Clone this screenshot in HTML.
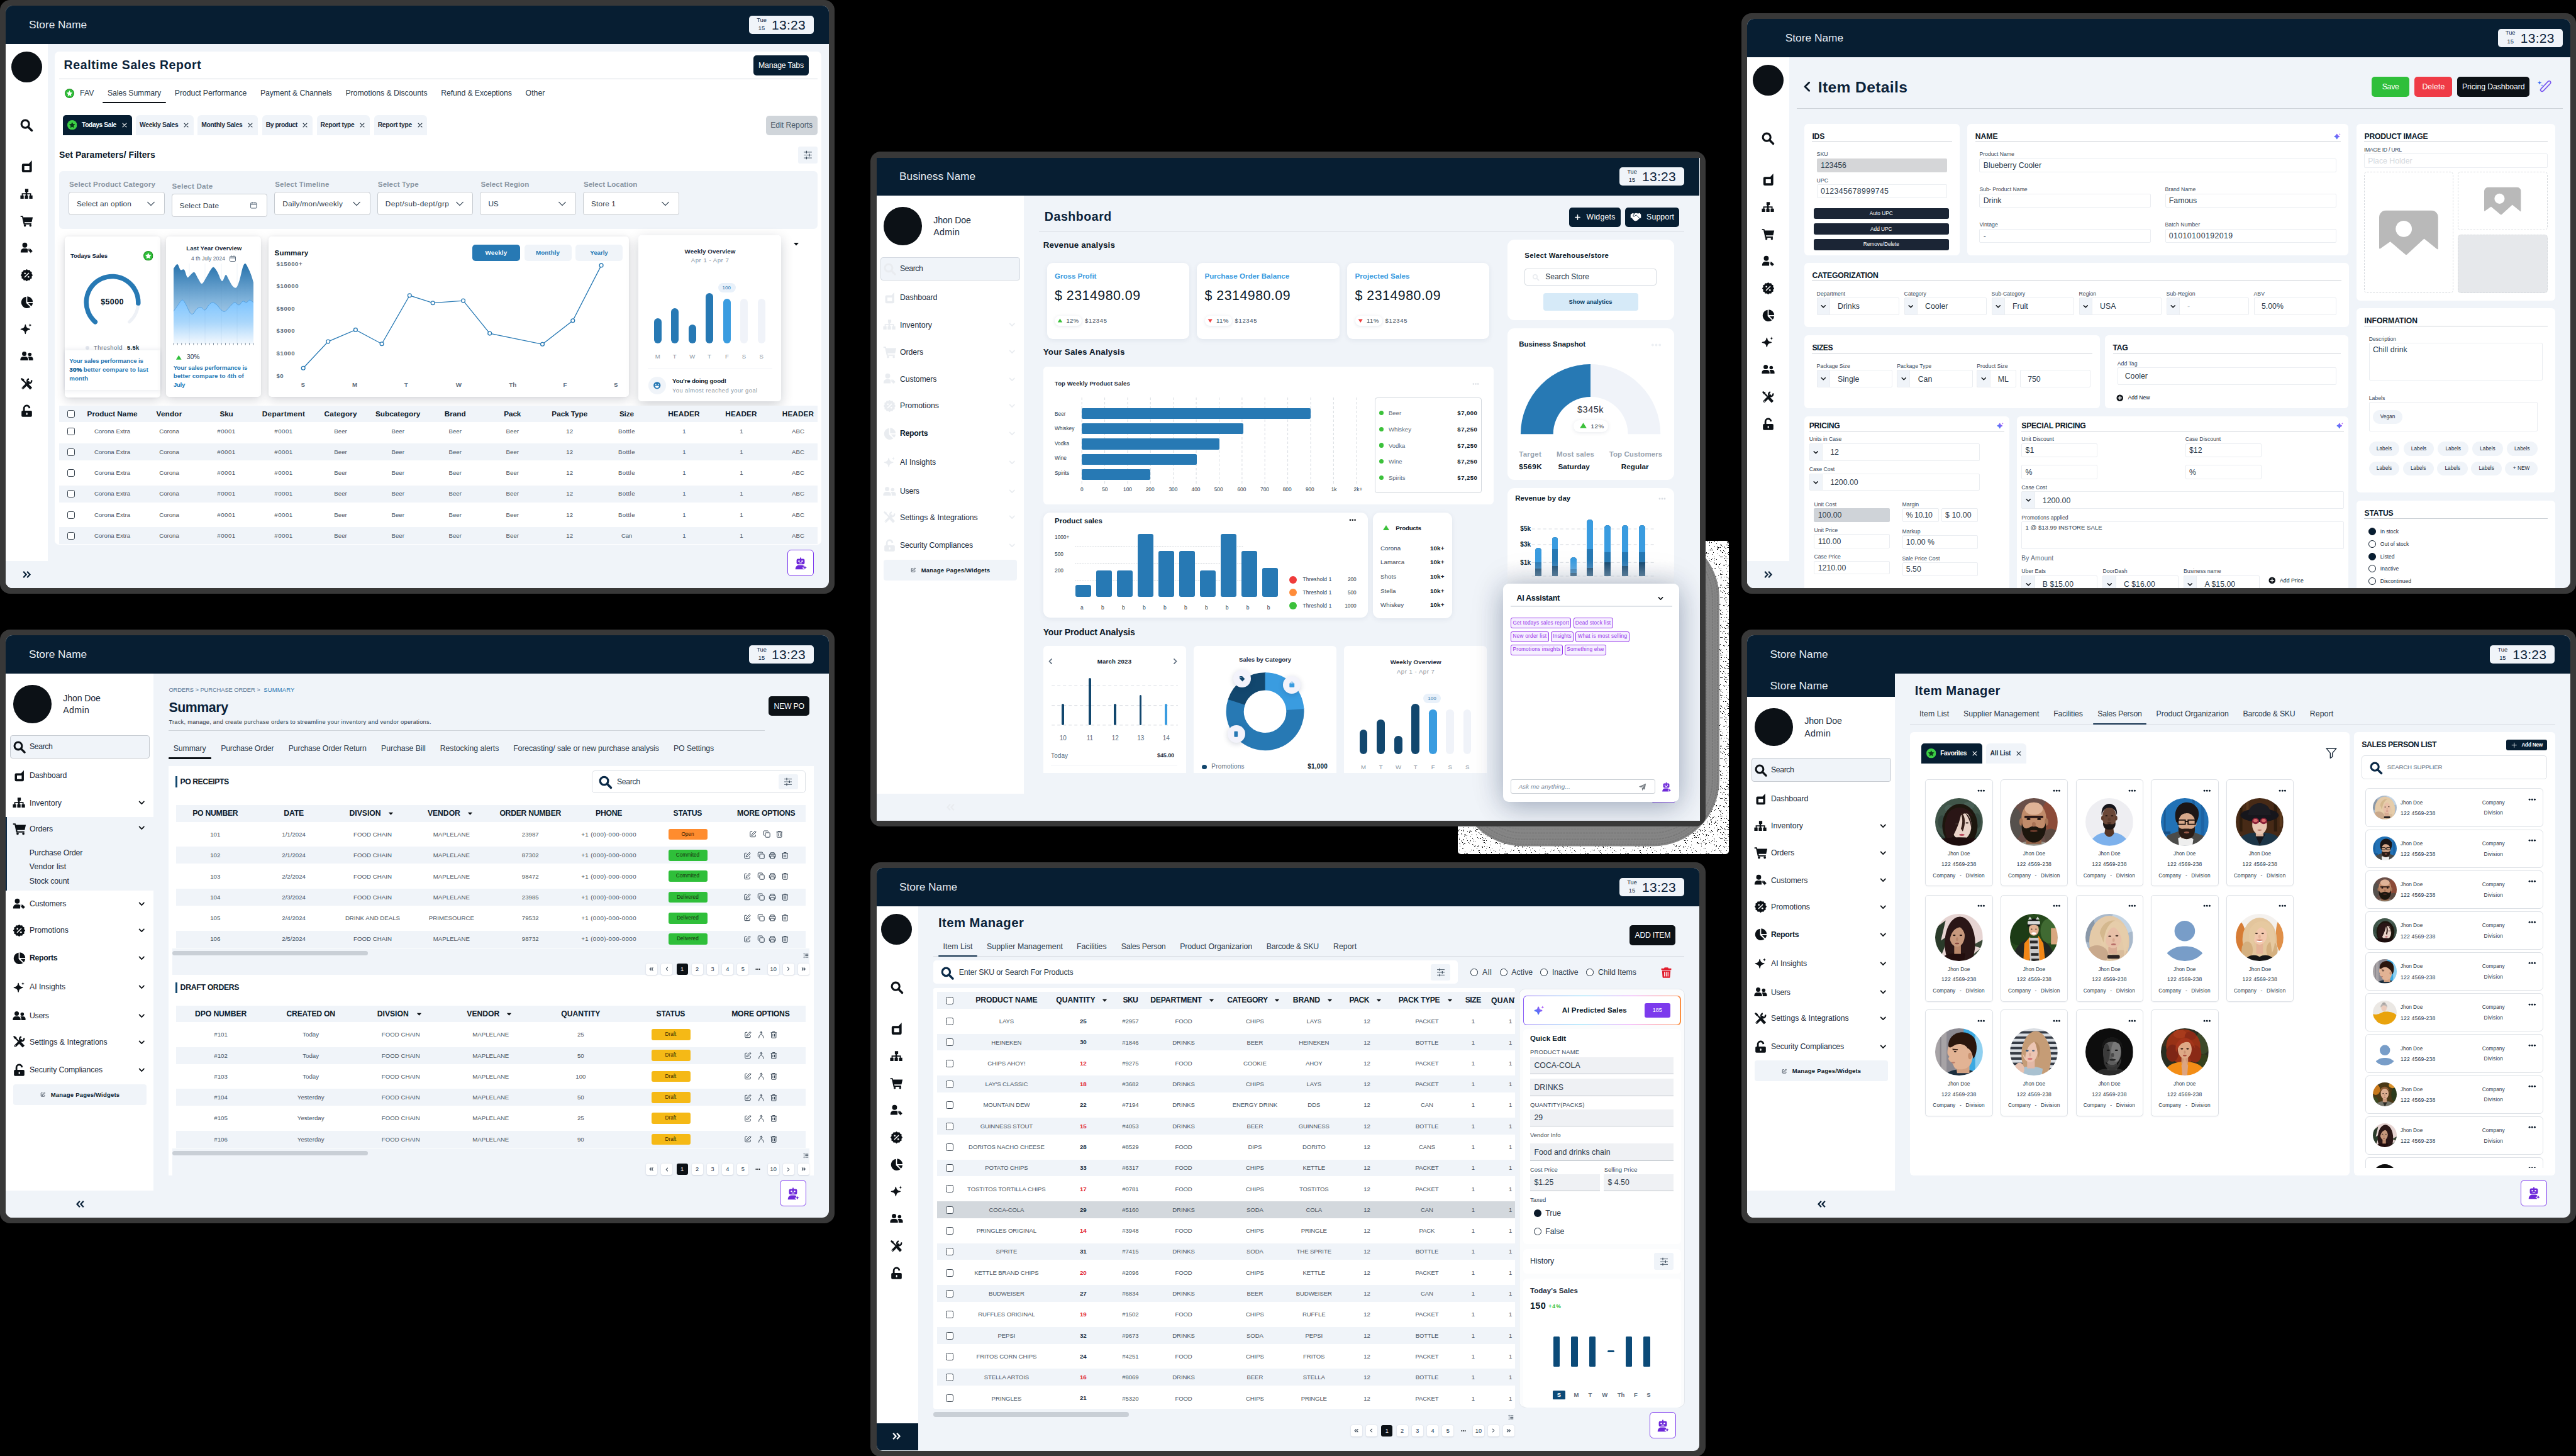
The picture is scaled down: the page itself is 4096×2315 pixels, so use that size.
<!DOCTYPE html>
<html><head><meta charset="utf-8"><title>Screens</title>
<style>
html,body{margin:0;padding:0;background:#000;}
body{width:4096px;height:2315px;position:relative;overflow:hidden;font-family:"Liberation Sans",sans-serif;}
.b{position:absolute;box-sizing:border-box;display:block;}
.t{position:absolute;white-space:nowrap;}
.fr{position:absolute;box-sizing:border-box;background:#383838;border-radius:16px;overflow:hidden;}
.sc{position:absolute;left:9.5px;top:9.5px;right:9.5px;bottom:9.5px;border-radius:11px;overflow:hidden;background:#f0f4f9;}
svg{overflow:visible}
</style></head><body>
<svg width="0" height="0" style="position:absolute">
<symbol id="i-search" viewBox="0 0 24 24"><circle cx="10" cy="10" r="6.6" fill="none" stroke="currentColor" stroke-width="3.4"/><path d="M15.2 15.2L21.3 21.3" stroke="currentColor" stroke-width="3.8" stroke-linecap="round"/></symbol>
<symbol id="i-dash" viewBox="0 0 24 24"><path fill="currentColor" fill-rule="evenodd" d="M6.500 7.500h9L20.500 2V19.500a2.500 2.500 0 0 1-2.500 2.500H6.500A2.500 2.500 0 0 1 4 19.500V10A2.500 2.500 0 0 1 6.500 7.500zM8 11.500v6.500h8.500V11.500z"/></symbol>
<symbol id="i-sitemap" viewBox="0 0 24 24"><path fill="currentColor" d="M9 2.500h6v5.500h-2v2.500h7v4h2.500v6h-6v-6h1.500v-2h-5v2h1.500v6h-6v-6h1.500v-2h-5v2h1.500v6h-6v-6h2.500v-4h7V8H9z"/></symbol>
<symbol id="i-cart" viewBox="0 0 24 24"><path fill="currentColor" d="M0.800 2.500h4.300l0.600 2.500H23l-2 9H8l0.400 2H20.500v2.200H6.500L3.500 4.700H0.800z"/><circle cx="8.700" cy="20.300" r="2" fill="currentColor"/><circle cx="18.700" cy="20.300" r="2" fill="currentColor"/></symbol>
<symbol id="i-usertag" viewBox="0 0 24 24"><circle cx="8.500" cy="6.500" r="4.500" fill="currentColor"/><path fill="currentColor" d="M1 20v-1.500C1 15 3.500 12.500 7 12.500h3c1.500 0 2.800 0.400 3.800 1.200V20z"/><path fill="currentColor" stroke="#fff" stroke-width="0.800" d="M14.200 12.800h4.200l4.600 4.600-3.700 3.700-5.100-5.100z"/><circle cx="16.200" cy="14.800" r="0.900" fill="#fff"/></symbol>
<symbol id="i-pct" viewBox="0 0 24 24"><path fill="currentColor" d="M12 1l2.400 1.800 3-.3 1.200 2.700 2.700 1.200-.3 3L23 12l-2 2.600.3 3-2.700 1.200-1.200 2.700-3-.3L12 23l-2.400-1.800-3 .3-1.200-2.700-2.700-1.200.3-3L1 12l2-2.600-.3-3 2.700-1.200 1.200-2.700 3 .3z"/><path stroke="#fff" stroke-width="1.800" stroke-linecap="round" d="M15.500 8.500l-7 7"/><circle cx="8.800" cy="8.800" r="1.500" fill="#fff"/><circle cx="15.200" cy="15.200" r="1.500" fill="#fff"/></symbol>
<symbol id="i-pie" viewBox="0 0 24 24"><path fill="currentColor" d="M11 2v11.500l7.800 7.300A10.500 10.500 0 1 1 11 2z"/><path fill="currentColor" d="M13 1.500A10 10 0 0 1 23 11.500H13z"/><path fill="currentColor" d="M14.500 13.500H23a10 10 0 0 1-2.800 6z"/></symbol>
<symbol id="i-spark" viewBox="0 0 24 24"><path fill="currentColor" d="M10 4c.8 5.500 2.500 7.200 8.500 8.500-6 1.300-7.700 3-8.500 8.500-.8-5.500-2.500-7.200-8.500-8.500C7.500 11.200 9.200 9.500 10 4z" stroke="currentColor" stroke-width="1.500" stroke-linejoin="round"/><path fill="currentColor" d="M19 1.500c.4 2.300 1 2.900 3.300 3.300-2.300.4-2.900 1-3.300 3.300-.4-2.300-1-2.900-3.300-3.300 2.300-.4 2.900-1 3.300-3.300z"/></symbol>
<symbol id="i-sparkf" viewBox="0 0 24 24"><defs><linearGradient id="spg" x1="0" y1="1" x2="1" y2="0"><stop offset="0" stop-color="#2f7df6"/><stop offset="1" stop-color="#a855f7"/></linearGradient></defs><path fill="url(#spg)" stroke="url(#spg)" stroke-width="3" stroke-linejoin="round" d="M10 5c.9 5 2.400 6.500 7.500 7.500-5.100 1-6.600 2.500-7.500 7.500-.9-5-2.400-6.500-7.500-7.500C7.600 11.500 9.100 10 10 5z"/><path fill="#a855f7" d="M19.500 1.500c.4 2.300 1 2.900 3.300 3.300-2.300.4-2.900 1-3.300 3.300-.4-2.300-1-2.900-3.300-3.300 2.300-.4 2.900-1 3.300-3.300z"/></symbol>
<symbol id="i-users" viewBox="0 0 24 24"><circle cx="7.500" cy="7.500" r="4" fill="currentColor"/><path fill="currentColor" d="M0.500 19.500v-2c0-3 2.300-5 5-5h4c2.700 0 5 2 5 5v2z"/><circle cx="17.500" cy="8.500" r="3.200" fill="currentColor"/><path fill="currentColor" d="M15.800 19.500v-2.300c0-1.700-.6-3.200-1.600-4.300.5-.2 1-.4 1.600-.4h3.200c2.500 0 4.500 1.800 4.500 4.200v2.800z"/></symbol>
<symbol id="i-tools" viewBox="0 0 24 24"><path stroke="currentColor" stroke-width="4.200" stroke-linecap="round" d="M5 19.500L15.500 9"/><path fill="none" stroke="currentColor" stroke-width="2.800" d="M20.500 5.200a4 4 0 1 1-4.600-2.400"/><path stroke="currentColor" stroke-width="5" stroke-linecap="butt" d="M12 12l8 8.500"/><path stroke="currentColor" stroke-width="2.600" d="M3.500 3.500L11 11"/><path fill="currentColor" d="M1 2.500L3 1l4.500 3-3 3z"/><circle cx="5" cy="19.500" r="0.900" fill="#fff"/></symbol>
<symbol id="i-unlock" viewBox="0 0 24 24"><rect x="2.500" y="11.500" width="19" height="11" rx="2" fill="currentColor"/><path fill="none" stroke="currentColor" stroke-width="3.200" d="M7 12V7.500a5 5 0 0 1 10-.5"/><rect x="11" y="15" width="2.400" height="4" rx="1" fill="#fff"/></symbol>
<symbol id="i-chev" viewBox="0 0 24 24"><path fill="none" stroke="currentColor" stroke-width="3.400" stroke-linecap="round" stroke-linejoin="round" d="M5 8.500l7 7 7-7"/></symbol>
<symbol id="i-chevthin" viewBox="0 0 24 24"><path fill="none" stroke="currentColor" stroke-width="2.200" stroke-linecap="round" stroke-linejoin="round" d="M3 7.500l9 9 9-9"/></symbol>
<symbol id="i-rr" viewBox="0 0 24 24"><path fill="none" stroke="currentColor" stroke-width="3.600" stroke-linejoin="miter" d="M3.500 4.500l7 7.500-7 7.500M13 4.500l7 7.500-7 7.500"/></symbol>
<symbol id="i-ll" viewBox="0 0 24 24"><path fill="none" stroke="currentColor" stroke-width="3.600" stroke-linejoin="miter" d="M20.500 4.500l-7 7.500 7 7.500M11 4.500l-7 7.500 7 7.500"/></symbol>
<symbol id="i-x" viewBox="0 0 24 24"><path stroke="currentColor" stroke-width="2.800" stroke-linecap="round" d="M5 5l14 14M19 5L5 19"/></symbol>
<symbol id="i-star" viewBox="0 0 24 24"><circle cx="12" cy="12" r="12" fill="#1f8a1f"/><circle cx="12" cy="12" r="10.500" fill="#2fbf3a"/><path fill="#fff" d="M12 4.500l2.300 4.900 5.200.7-3.800 3.700.9 5.300L12 16.500l-4.600 2.600.9-5.300L4.500 10.100l5.200-.7z"/></symbol>
<symbol id="i-stard" viewBox="0 0 24 24"><circle cx="12" cy="12" r="12" fill="#3ccf45"/><path fill="#0b3a1a" d="M12 4.500l2.300 4.900 5.200.7-3.800 3.700.9 5.300L12 16.500l-4.600 2.600.9-5.300L4.500 10.100l5.200-.7z"/></symbol>
<symbol id="i-sliders" viewBox="0 0 24 24"><path stroke="currentColor" stroke-width="1.300" fill="none" d="M3 5.500h18M3 12h18M3 18.500h18"/><path stroke="currentColor" stroke-width="1.800" d="M9 2.500v6M15.500 9v6M9 15.500v6"/></symbol>
<symbol id="i-cal" viewBox="0 0 24 24"><rect x="3" y="5" width="18" height="16" rx="2.500" fill="none" stroke="currentColor" stroke-width="2"/><path stroke="currentColor" stroke-width="2" d="M3 10h18M8 2.500v4M16 2.500v4"/></symbol>
<symbol id="i-robot" viewBox="0 0 24 24"><path fill="currentColor" d="M11 1.500h2v2.200h3.500A2.500 2.500 0 0 1 19 6.200v4.600a2.500 2.500 0 0 1-2.500 2.500h-9A2.500 2.500 0 0 1 5 10.800V6.200a2.500 2.500 0 0 1 2.500-2.500H11z"/><circle cx="9.300" cy="7.800" r="1.300" fill="#fff"/><circle cx="14.700" cy="7.800" r="1.300" fill="#fff"/><rect x="9.500" y="10.300" width="5" height="1.200" rx=".6" fill="#fff"/><path fill="currentColor" d="M3 22c0-4.500 3-7.200 6-7.200h5c1.500 0 2.800.5 3.900 1.400-.6 2-.9 2.400-3.400 3.300 1.800.6 2.600 1.300 3.100 2.500z"/><path fill="currentColor" d="M19.500 15.500c.4 2.300 1.200 3.100 3.500 3.500-2.300.4-3.100 1.200-3.500 3.500-.4-2.300-1.200-3.100-3.500-3.500 2.300-.4 3.100-1.200 3.500-3.500z"/></symbol>
<symbol id="i-smile" viewBox="0 0 24 24"><circle cx="12" cy="12" r="10" fill="currentColor"/><circle cx="8.500" cy="9.500" r="1.500" fill="#fff"/><circle cx="15.500" cy="9.500" r="1.500" fill="#fff"/><path fill="#fff" d="M6.500 13.500h11a5.500 5.500 0 0 1-11 0z"/></symbol>
<symbol id="i-edit" viewBox="0 0 24 24"><path fill="none" stroke="currentColor" stroke-width="1.900" stroke-linejoin="round" d="M10 4.500H5.500A2 2 0 0 0 3.500 6.500v12a2 2 0 0 0 2 2h12a2 2 0 0 0 2-2V14"/><path fill="none" stroke="currentColor" stroke-width="1.900" stroke-linejoin="round" d="M18.500 2.500l3 3L12 15l-4 1 1-4z"/></symbol>
<symbol id="i-copy" viewBox="0 0 24 24"><rect x="7.500" y="7.500" width="14" height="14" rx="2.500" fill="none" stroke="currentColor" stroke-width="1.900"/><path fill="none" stroke="currentColor" stroke-width="1.900" d="M16.500 4.500v-.5a2 2 0 0 0-2-2h-10a2 2 0 0 0-2 2v10a2 2 0 0 0 2 2h.5"/></symbol>
<symbol id="i-print" viewBox="0 0 24 24"><path fill="none" stroke="currentColor" stroke-width="1.900" d="M6.500 8V3.500h11V8M6.500 17.500H4.500a2 2 0 0 1-2-2V10a2 2 0 0 1 2-2h15a2 2 0 0 1 2 2v5.500a2 2 0 0 1-2 2h-2"/><rect x="6.500" y="13.500" width="11" height="7.500" fill="none" stroke="currentColor" stroke-width="1.900"/></symbol>
<symbol id="i-trash" viewBox="0 0 24 24"><path fill="none" stroke="currentColor" stroke-width="1.900" d="M3 5.500h18M8.500 5V3h7v2M5 5.500V20a1.500 1.500 0 0 0 1.500 1.500h11A1.500 1.500 0 0 0 19 20V5.500M9.500 9.500v8M14.500 9.500v8"/></symbol>
<symbol id="i-trashf" viewBox="0 0 24 24"><path fill="currentColor" d="M8.500 1.500h7l1 2H22v3H2v-3h5.500zM3.500 8h17l-1 13a2 2 0 0 1-2 1.500h-11a2 2 0 0 1-2-1.500z"/><path stroke="#fff" stroke-width="1.600" d="M8.500 10.500v9M12 10.500v9M15.500 10.500v9"/></symbol>
<symbol id="i-merge" viewBox="0 0 24 24"><path fill="none" stroke="currentColor" stroke-width="1.900" stroke-linecap="round" stroke-linejoin="round" d="M12 2.500v8M8.500 6L12 2.500 15.500 6M5 21.500c0-6 3-9 7-11 4 2 7 5 7 11"/></symbol>
<symbol id="i-funnel" viewBox="0 0 24 24"><path fill="none" stroke="currentColor" stroke-width="1.700" stroke-linejoin="round" d="M2.500 3.500h19l-7.500 9v7l-4 2.500v-9.500z"/></symbol>
<symbol id="i-plus" viewBox="0 0 24 24"><path stroke="currentColor" stroke-width="3.200" stroke-linecap="round" d="M12 4v16M4 12h16"/></symbol>
<symbol id="i-plusthin" viewBox="0 0 24 24"><path stroke="currentColor" stroke-width="2" stroke-linecap="round" d="M12 3v18M3 12h18"/></symbol>
<symbol id="i-pluscirc" viewBox="0 0 24 24"><circle cx="12" cy="12" r="11" fill="currentColor"/><path stroke="#fff" stroke-width="2.800" stroke-linecap="round" d="M12 6.500v11M6.500 12h11"/></symbol>
<symbol id="i-img" viewBox="0 0 24 18"><path fill="currentColor" stroke="currentColor" stroke-width="0.6" stroke-linejoin="round" d="M2.800 0.300h18.400A2.500 2.500 0 0 1 23.700 2.800V15.500l-5.400-4.400-7.300 6.700-6.500-5.500L0.300 15.300V2.800A2.500 2.500 0 0 1 2.800 0.300z"/><circle cx="10" cy="7.500" r="3.300" fill="#fff"/></symbol>
<symbol id="i-plane" viewBox="0 0 24 24"><path fill="currentColor" d="M22.500 1.500L1.500 10.500l7 3 10-8-8 10 1 7 3.500-5 4 2z"/></symbol>
<symbol id="i-hands" viewBox="0 0 24 24"><path fill="currentColor" d="M1 6.500l4-2.500 4 1 3-1.500 5 1 3.500-1L23 7v7l-3 .5-5.500 5.500-2-.5-1 1-2-1-1 .5L3.500 14 1 13.500z"/><path fill="none" stroke="#071e32" stroke-width="1.200" d="M9 5l-3 5c1.500 1.500 3.500 1 4.500-.5l2-2 7 6.500"/></symbol>
<symbol id="i-dots" viewBox="0 0 24 8"><circle cx="4" cy="4" r="2.800" fill="currentColor"/><circle cx="12" cy="4" r="2.800" fill="currentColor"/><circle cx="20" cy="4" r="2.800" fill="currentColor"/></symbol>
<symbol id="i-caret" viewBox="0 0 24 24"><path fill="currentColor" d="M4 8h16l-8 9z"/></symbol>
<symbol id="i-tri" viewBox="0 0 24 24"><path fill="currentColor" d="M12 4l10 16H2z"/></symbol>
<symbol id="i-lt" viewBox="0 0 24 24"><path fill="none" stroke="currentColor" stroke-width="3.600" stroke-linecap="round" stroke-linejoin="round" d="M15.500 4l-8 8 8 8"/></symbol>
<symbol id="i-gt" viewBox="0 0 24 24"><path fill="none" stroke="currentColor" stroke-width="3.600" stroke-linecap="round" stroke-linejoin="round" d="M8.500 4l8 8-8 8"/></symbol>
<symbol id="i-list" viewBox="0 0 24 24"><path stroke="currentColor" stroke-width="2.600" d="M9 5.500h13M9 12h13M9 18.500h13"/><path fill="currentColor" d="M4 1.500l2.800 3.500H1.200zM4 22.500l2.800-3.500H1.200z"/><path stroke="currentColor" stroke-width="1.600" d="M4 4v16"/></symbol>
<symbol id="i-person" viewBox="0 0 24 24"><circle cx="12" cy="7.500" r="5.800" fill="#7d9fc6"/><path fill="#7d9fc6" d="M1.500 19.500C4 17 8 16 12 16s8 1 10.500 3.500C20 22.500 16 24 12 24S4 22.500 1.500 19.500z"/></symbol>
<symbol id="i-tag" viewBox="0 0 24 24"><path fill="currentColor" d="M2.500 2.500h9l10 10-9 9-10-10z"/><circle cx="7" cy="7" r="1.800" fill="#fff"/></symbol>
<symbol id="i-bag" viewBox="0 0 24 24"><path fill="currentColor" d="M3 8h18v12a2 2 0 0 1-2 2H5a2 2 0 0 1-2-2z"/><path fill="none" stroke="currentColor" stroke-width="2.200" d="M8 10V6.500a4 4 0 0 1 8 0V10"/></symbol>
<symbol id="i-phone" viewBox="0 0 24 24"><rect x="5.500" y="1.500" width="13" height="21" rx="2.500" fill="currentColor"/></symbol>
<symbol id="i-wand" viewBox="0 0 28 24"><path fill="none" stroke="currentColor" stroke-width="2" stroke-linejoin="round" d="M21.500 3.500c1.500-1.500 3.500-1.500 4.500 0s.5 3-.5 4L13 20.500c-1.500 1.500-3.500 1.500-4.500.5s-1-3 .5-4.500z"/><path fill="#3b6cf5" d="M6 1.500c.5 2.800 1.200 3.500 4 4-2.800.5-3.500 1.200-4 4-.5-2.800-1.200-3.500-4-4 2.800-.5 3.500-1.200 4-4z"/><path fill="#3b6cf5" d="M10.500 8.500c.2 1.300.6 1.700 1.900 1.900-1.300.2-1.700.6-1.900 1.900-.2-1.300-.6-1.700-1.900-1.900 1.300-.2 1.700-.6 1.900-1.900z"/></symbol>
<filter id="avb" x="-5%" y="-5%" width="110%" height="110%"><feGaussianBlur stdDeviation="0.9"/></filter><symbol id="a1" viewBox="0 0 100 100"><g filter="url(#avb)"><rect x="0" y="0" width="100" height="100" fill="#2c3c35" /><ellipse cx="50" cy="44" rx="52" ry="48" fill="#3f544a" /><ellipse cx="30" cy="22" rx="10" ry="8" fill="#4a6156" /><ellipse cx="70" cy="16" rx="12" ry="8" fill="#4a6156" /><ellipse cx="14" cy="50" rx="8" ry="14" fill="#35483f" /><ellipse cx="88" cy="48" rx="8" ry="16" fill="#35483f" /><ellipse cx="52" cy="58" rx="37" ry="46" fill="#1f1310" /><ellipse cx="55" cy="57" rx="21" ry="31" fill="#e9d3c8" /><path d="M24 40C30 14 70 12 80 40C70 30 60 30 54 36C50 54 44 70 30 92C20 80 18 56 24 40Z" fill="#2a1714" /><path d="M56 30C64 40 64 54 58 70L54 64C58 54 58 42 54 32Z" fill="#38201b" /><path d="M62 30C72 36 78 50 76 64C74 50 70 40 62 30Z" fill="#2a1714" /><ellipse cx="45" cy="54" rx="3.2" ry="1.5" fill="#3a2a26" /><ellipse cx="67" cy="52" rx="3.2" ry="1.5" fill="#3a2a26" /><ellipse cx="56" cy="77" rx="5.5" ry="2.2" fill="#b94a5c" /><path d="M0 88C30 80 70 80 100 88V100H0Z" fill="#1c100d" /></g></symbol><symbol id="a2" viewBox="0 0 100 100"><g filter="url(#avb)"><rect x="0" y="0" width="100" height="100" fill="#6a5049" /><ellipse cx="88" cy="36" rx="22" ry="34" fill="#8c4c39" /><ellipse cx="8" cy="54" rx="18" ry="34" fill="#57514d" /><ellipse cx="86" cy="80" rx="14" ry="16" fill="#5a4a40" /><ellipse cx="50" cy="112" rx="50" ry="22" fill="#97948a" /><rect x="34" y="74" width="32" height="22" fill="#8f6044" /><ellipse cx="50" cy="42" rx="26" ry="33" fill="#c08b6b" /><ellipse cx="50" cy="22" rx="19" ry="13" fill="#dfb397" /><ellipse cx="23.5" cy="50" rx="4" ry="8" fill="#a87456" /><ellipse cx="76.5" cy="50" rx="4" ry="8" fill="#a87456" /><path d="M25 52C27 62 32 66 40 62C46 58 54 58 60 62C68 66 73 62 75 52C78 76 66 93 50 93C34 93 22 76 25 52Z" fill="#1b120f" /><rect x="30" y="37" width="40" height="5" fill="#2a1812" rx="2.500"/><ellipse cx="39" cy="44" rx="4" ry="2" fill="#160c0a" /><ellipse cx="61" cy="44" rx="4" ry="2" fill="#160c0a" /><ellipse cx="50" cy="55" rx="4" ry="5" fill="#a87254" /><ellipse cx="50" cy="69" rx="8" ry="2.2" fill="#6a3a2c" /></g></symbol><symbol id="a3" viewBox="0 0 100 100"><g filter="url(#avb)"><rect x="0" y="0" width="100" height="100" fill="#eeeef2" /><ellipse cx="50" cy="102" rx="42" ry="31" fill="#7db1ec" /><path d="M40 74C46 84 54 84 60 74L58 60H42Z" fill="#553628" /><ellipse cx="50" cy="40" rx="14.5" ry="22" fill="#6b4737" /><ellipse cx="35.5" cy="42" rx="2.5" ry="5" fill="#5e3d2f" /><ellipse cx="64.5" cy="42" rx="2.5" ry="5" fill="#5e3d2f" /><path d="M34 36C30 4 70 4 66 36C63 24 58 20 50 20C42 20 37 24 34 36Z" fill="#15121a" /><path d="M37 50C40 56 44 55 50 54C56 55 60 56 63 50C64 62 58 66 50 66C42 66 36 62 37 50Z" fill="#1c1412" /><ellipse cx="44" cy="37" rx="2.6" ry="1.2" fill="#1a100c" /><ellipse cx="56" cy="37" rx="2.6" ry="1.2" fill="#1a100c" /><ellipse cx="50" cy="45" rx="3" ry="3.5" fill="#5e3d2f" /><ellipse cx="50" cy="52" rx="4.5" ry="1.3" fill="#3a2018" /></g></symbol><symbol id="a4" viewBox="0 0 100 100"><g filter="url(#avb)"><rect x="0" y="0" width="100" height="100" fill="#2272b6" /><rect x="6" y="0" width="4" height="100" fill="#1a5c98" /><rect x="66" y="0" width="5" height="100" fill="#1b5e9c" /><rect x="84" y="0" width="7" height="100" fill="#1b64a4" /><rect x="0" y="70" width="20" height="6" fill="#174f86" /><path d="M0 100L14 78L36 70L70 72L92 80L100 100Z" fill="#4b4b48" /><path d="M36 84L52 76L68 86L66 100H38Z" fill="#eeeeee" /><rect x="42" y="68" width="20" height="16" fill="#b88a6c" /><ellipse cx="54" cy="50" rx="18" ry="24" fill="#d6a88a" /><ellipse cx="72" cy="54" rx="2.5" ry="5" fill="#c4957a" /><path d="M32 50C20 8 64 -4 78 24C82 38 76 48 73 54C72 40 64 30 52 32C44 32 38 38 36 52Z" fill="#1d1512" /><path d="M37 60C42 66 46 64 54 64C62 64 66 66 71 60C73 76 66 86 54 86C42 86 35 76 37 60Z" fill="#2b1d17" /><path d="M36 46h15v9h-15zM57 46h15v9h-15zM51 49h6" fill="none" stroke="#14100e" stroke-width="2.400"/><ellipse cx="54" cy="72" rx="5.5" ry="2.2" fill="#9a5a4a" /></g></symbol><symbol id="a5" viewBox="0 0 100 100"><g filter="url(#avb)"><rect x="0" y="0" width="100" height="100" fill="#472a18" /><rect x="8" y="0" width="6" height="70" fill="#2e1a0e" /><rect x="22" y="0" width="5" height="40" fill="#5a381f" /><rect x="80" y="0" width="7" height="70" fill="#2e1a0e" /><rect x="92" y="0" width="5" height="60" fill="#5a381f" /><path d="M0 100C4 78 26 72 50 72C74 72 96 78 100 100Z" fill="#1c3547" /><path d="M40 76L50 98L62 76Z" fill="#14161a" /><rect x="42" y="68" width="16" height="12" fill="#d8b29c" /><ellipse cx="50" cy="56" rx="15.5" ry="20" fill="#e8c6b2" /><ellipse cx="50" cy="36" rx="40" ry="14" fill="#15141b" /><path d="M26 36C26 2 74 2 74 36Z" fill="#1b1a22" /><ellipse cx="41.5" cy="48" rx="7.5" ry="6.5" fill="#8a2038" /><ellipse cx="58.5" cy="48" rx="7.5" ry="6.5" fill="#8a2038" /><ellipse cx="41.5" cy="47" rx="4.5" ry="3.5" fill="#d86a6a" /><ellipse cx="58.5" cy="47" rx="4.5" ry="3.5" fill="#d86a6a" /><ellipse cx="50" cy="67" rx="4.5" ry="1.5" fill="#b87a6a" /></g></symbol><symbol id="a6" viewBox="0 0 100 100"><g filter="url(#avb)"><rect x="0" y="0" width="100" height="100" fill="#e6d4d2" /><path d="M0 30L22 14L12 56L30 44L8 100H0Z" fill="#2c3b2c" /><path d="M100 54L78 66L96 72L76 88L100 94Z" fill="#3a4a38" /><ellipse cx="52" cy="62" rx="32" ry="56" fill="#2b1714" /><path d="M10 100C14 86 30 82 50 82C70 82 86 86 90 100Z" fill="#24100f" /><rect x="40" y="62" width="14" height="22" fill="#b8866a" /><ellipse cx="46" cy="46" rx="16" ry="23" fill="#c7987c" /><path d="M26 56C18 8 74 2 80 44C82 64 80 80 74 100H60C70 70 66 36 52 28C40 30 32 40 30 60Z" fill="#2b1714" /><ellipse cx="40" cy="45" rx="3" ry="1.5" fill="#1e100c" /><ellipse cx="54" cy="45" rx="3" ry="1.5" fill="#1e100c" /><ellipse cx="46" cy="53" rx="2.5" ry="4" fill="#b8866a" /><ellipse cx="46" cy="62" rx="4.5" ry="1.8" fill="#8a4a40" /></g></symbol><symbol id="a7" viewBox="0 0 100 100"><g filter="url(#avb)"><rect x="0" y="0" width="100" height="100" fill="#274a1e" /><ellipse cx="18" cy="30" rx="26" ry="36" fill="#1d3a18" /><ellipse cx="82" cy="36" rx="18" ry="26" fill="#3f6a30" /><rect x="86" y="30" width="14" height="34" fill="#d9a880" /><path d="M6 100C8 66 28 52 50 52C72 52 92 66 94 100Z" fill="#232823" /><path d="M30 62L42 48L50 68L40 100H28Z" fill="#f28618" /><path d="M70 62L60 46L52 68L62 100H74Z" fill="#f28618" /><path d="M40 50H60L62 100H42Z" fill="#c9c9c9" /><path d="M42 56h16v6h-16zM43 68h16v6h-16zM44 82h16v6h-16zM45 94h16v6h-16z" fill="#2a2a2a" /><ellipse cx="50" cy="33" rx="10.5" ry="13" fill="#e4b394" /><path d="M37 28C36 4 64 4 63 28C56 22 44 22 37 28Z" fill="#161616" /><rect x="37" y="15" width="26" height="7" fill="#d8d8d8" rx="2"/><path d="M38 12L42 6L46 12ZM54 12L58 6L62 12Z" fill="#d8d8d8" /><ellipse cx="50" cy="41" rx="5" ry="2.4" fill="#fff" /><ellipse cx="45.5" cy="32" rx="1.5" ry="1" fill="#2a1a14" /><ellipse cx="54.5" cy="32" rx="1.5" ry="1" fill="#2a1a14" /></g></symbol><symbol id="a8" viewBox="0 0 100 100"><g filter="url(#avb)"><rect x="0" y="0" width="100" height="100" fill="#a9b9cb" /><ellipse cx="84" cy="14" rx="30" ry="26" fill="#c3d4e4" /><ellipse cx="6" cy="30" rx="14" ry="30" fill="#8a98a8" /><ellipse cx="50" cy="58" rx="42" ry="54" fill="#e4caa8" /><ellipse cx="24" cy="86" rx="24" ry="20" fill="#c9a98c" /><ellipse cx="76" cy="92" rx="22" ry="16" fill="#d8bc9c" /><rect x="48" y="70" width="18" height="14" fill="#d8ac94" /><ellipse cx="58" cy="48" rx="17.5" ry="24" fill="#e8c0a8" /><path d="M34 66C18 16 72 -4 88 38C92 58 86 76 82 90C80 60 74 36 60 28C48 30 42 46 42 70Z" fill="#e6cdaa" /><path d="M30 40C34 20 50 12 62 14C48 20 40 36 38 60Z" fill="#d4b88e" /><rect x="46" y="86" width="26" height="8" fill="#2a2420" rx="3"/><ellipse cx="51" cy="47" rx="3.2" ry="1.6" fill="#4a342a" /><ellipse cx="66" cy="46" rx="3.2" ry="1.6" fill="#4a342a" /><ellipse cx="59" cy="55" rx="2.5" ry="4" fill="#d8a890" /><ellipse cx="59" cy="64" rx="5" ry="2" fill="#b8706a" /></g></symbol><symbol id="a9" viewBox="0 0 100 100"><g><rect width="100" height="100" fill="#fff"/><ellipse cx="50" cy="36" rx="21.5" ry="21.5" fill="#789dc8" /><path d="M11 84C24 70 38 68 50 68C62 68 76 70 89 84C76 98 62 101 50 101C38 101 24 98 11 84Z" fill="#789dc8" /></g></symbol><symbol id="a10" viewBox="0 0 100 100"><g filter="url(#avb)"><rect x="0" y="0" width="100" height="100" fill="#f4f1ee" /><ellipse cx="2" cy="56" rx="20" ry="44" fill="#d67c34" /><ellipse cx="99" cy="44" rx="15" ry="40" fill="#e0904a" /><ellipse cx="50" cy="54" rx="36" ry="46" fill="#e3c59c" /><ellipse cx="24" cy="76" rx="12" ry="18" fill="#d4b080" /><ellipse cx="76" cy="76" rx="12" ry="18" fill="#d4b080" /><path d="M16 100C24 86 40 84 50 90C60 84 76 86 84 100Z" fill="#191919" /><rect x="43" y="62" width="14" height="22" fill="#e4b498" /><ellipse cx="50" cy="43" rx="15.5" ry="21.5" fill="#f2c8ae" /><path d="M30 60C16 14 70 0 80 36C84 54 82 70 76 82C74 56 68 34 54 28C44 30 38 44 38 66Z" fill="#e6c9a0" /><ellipse cx="43.5" cy="41" rx="2.8" ry="1.4" fill="#4a342a" /><ellipse cx="56.5" cy="41" rx="2.8" ry="1.4" fill="#4a342a" /><ellipse cx="50" cy="48" rx="2.5" ry="4" fill="#e4b498" /><ellipse cx="50" cy="57" rx="6" ry="2.6" fill="#fff" /><ellipse cx="50" cy="55.2" rx="6.5" ry="1.4" fill="#c87868" /></g></symbol><symbol id="a11" viewBox="0 0 100 100"><g filter="url(#avb)"><rect x="0" y="0" width="100" height="100" fill="#8c8a92" /><rect x="0" y="0" width="24" height="100" fill="#a7a3a6" /><rect x="10" y="0" width="3" height="100" fill="#8a868c" /><rect x="60" y="0" width="40" height="100" fill="#3aa9e2" /><rect x="84" y="0" width="16" height="100" fill="#8fd0f0" /><path d="M20 100C24 90 40 86 56 86C74 86 90 92 94 100Z" fill="#1d2d3e" /><path d="M42 66H72V94H46Z" fill="#d3a283" /><path d="M26 54C24 30 42 18 60 22C78 26 84 50 76 72C70 88 52 88 42 84C38 80 38 72 32 70C28 66 26 62 30 60Z" fill="#e2b394" /><path d="M28 38C26 8 64 -2 82 20C90 34 88 54 80 64C78 52 74 44 68 42C64 34 50 30 40 36C34 40 30 42 28 38Z" fill="#2a1511" /><ellipse cx="42" cy="49" rx="2.8" ry="1.5" fill="#2a1a14" /><path d="M36 43L48 44L47 46L37 46Z" fill="#3a2018" /><ellipse cx="73" cy="58" rx="4" ry="7" fill="#c8906e" /><ellipse cx="38" cy="72" rx="4" ry="1.5" fill="#b87a68" /></g></symbol><symbol id="a12" viewBox="0 0 100 100"><g filter="url(#avb)"><rect x="0" y="0" width="100" height="100" fill="#d9dde2" /><rect x="0" y="6" width="100" height="5" fill="#353b44" /><rect x="0" y="17" width="100" height="5" fill="#353b44" /><rect x="0" y="28" width="100" height="5" fill="#353b44" /><rect x="0" y="39" width="100" height="5" fill="#353b44" /><rect x="0" y="50" width="100" height="5" fill="#353b44" /><rect x="0" y="61" width="100" height="5" fill="#353b44" /><rect x="0" y="72" width="100" height="5" fill="#353b44" /><rect x="0" y="83" width="100" height="5" fill="#353b44" /><rect x="0" y="94" width="100" height="5" fill="#353b44" /><ellipse cx="54" cy="56" rx="30" ry="50" fill="#c59c76" /><path d="M6 100C10 84 26 80 44 80C62 80 78 86 82 100Z" fill="#a9c1d0" /><rect x="36" y="62" width="16" height="22" fill="#e2b8a6" /><ellipse cx="42" cy="48" rx="16" ry="23" fill="#ecc5b3" /><path d="M26 52C20 8 74 0 84 40C88 62 86 80 78 100H66C74 70 68 38 52 28C40 32 34 44 32 62Z" fill="#c59c76" /><path d="M52 28C62 30 66 44 60 62C58 50 56 38 52 28Z" fill="#b48a64" /><ellipse cx="20" cy="86" rx="10" ry="14" fill="#e8c2b0" /><ellipse cx="36" cy="47" rx="3.2" ry="1.8" fill="#3a5a7a" /><ellipse cx="49" cy="47" rx="2.8" ry="1.6" fill="#3a5a7a" /><ellipse cx="42" cy="55" rx="2.5" ry="4" fill="#dcb09c" /><ellipse cx="42" cy="64" rx="5" ry="2.2" fill="#d87a7a" /></g></symbol><symbol id="a13" viewBox="0 0 100 100"><g filter="url(#avb)"><rect x="0" y="0" width="100" height="100" fill="#0b0b0b" /><path d="M16 100C22 86 40 84 56 84C74 84 92 90 96 100Z" fill="#2b2b2b" /><rect x="46" y="72" width="20" height="16" fill="#3c3c3c" /><ellipse cx="56" cy="50" rx="19" ry="27" fill="#5d5d5d" /><ellipse cx="64" cy="48" rx="10" ry="22" fill="#787878" /><ellipse cx="44" cy="52" rx="7" ry="20" fill="#3a3a3a" /><path d="M34 46C30 10 80 8 78 44C74 32 66 28 56 28C46 28 38 32 34 46Z" fill="#141414" /><ellipse cx="48" cy="46" rx="3.5" ry="1.6" fill="#151515" /><ellipse cx="65" cy="46" rx="3.5" ry="1.6" fill="#151515" /><ellipse cx="57" cy="56" rx="3" ry="4.5" fill="#4a4a4a" /><ellipse cx="57" cy="66" rx="6.5" ry="2" fill="#262626" /><path d="M38 60C42 76 50 82 56 82C62 82 70 76 75 60C76 76 68 88 56 88C44 88 37 76 38 60Z" fill="#363636" /></g></symbol><symbol id="a14" viewBox="0 0 100 100"><g filter="url(#avb)"><rect x="0" y="0" width="100" height="100" fill="#2a2f20" /><ellipse cx="88" cy="30" rx="16" ry="24" fill="#3d4a2c" /><ellipse cx="8" cy="20" rx="14" ry="18" fill="#3a3020" /><ellipse cx="90" cy="70" rx="12" ry="16" fill="#35401f" /><ellipse cx="47" cy="38" rx="36" ry="36" fill="#983117" /><ellipse cx="24" cy="52" rx="13" ry="18" fill="#7e2612" /><ellipse cx="72" cy="54" rx="13" ry="18" fill="#8a2a14" /><ellipse cx="40" cy="12" rx="14" ry="9" fill="#a83a1c" /><ellipse cx="62" cy="16" rx="12" ry="9" fill="#8a2a14" /><path d="M4 100C8 78 28 70 50 70C72 70 92 78 96 100Z" fill="#f38d16" /><rect x="43" y="58" width="14" height="16" fill="#cf9774" /><ellipse cx="50" cy="44" rx="14.5" ry="19.5" fill="#dea886" /><path d="M32 50C24 16 68 8 72 44C68 32 58 26 48 30C40 32 36 40 32 50Z" fill="#a5361a" /><path d="M43 78L50 62L57 78L55 100H45Z" fill="#dca482" /><ellipse cx="44" cy="43" rx="2.8" ry="1.4" fill="#2a1610" /><ellipse cx="56" cy="43" rx="2.8" ry="1.4" fill="#2a1610" /><ellipse cx="50" cy="50" rx="2" ry="3.5" fill="#c89070" /><ellipse cx="50" cy="57" rx="4" ry="1.7" fill="#a8483a" /></g></symbol><symbol id="a15" viewBox="0 0 100 100"><g filter="url(#avb)"><rect x="0" y="0" width="100" height="100" fill="#ebe8e4" /><rect x="0" y="70" width="30" height="30" fill="#d8d4d0" /><path d="M0 56C20 60 30 52 44 46C70 44 96 50 100 66V100H14C18 88 16 80 10 78L0 74Z" fill="#e9a30f" /><ellipse cx="46" cy="30" rx="11.5" ry="14" fill="#ecccbc" /><path d="M32 28C30 6 62 4 60 30C56 20 48 18 42 20C38 22 36 26 32 28Z" fill="#b9b5b2" /><ellipse cx="46" cy="12" rx="7" ry="5" fill="#a8a4a2" /></g></symbol><symbol id="a16" viewBox="0 0 100 100"><g filter="url(#avb)"><rect x="0" y="0" width="100" height="100" fill="#4a3818" /><ellipse cx="12" cy="30" rx="18" ry="22" fill="#c8781a" /><ellipse cx="92" cy="50" rx="16" ry="30" fill="#2a3a1a" /><ellipse cx="82" cy="12" rx="16" ry="12" fill="#d8902a" /><ellipse cx="8" cy="80" rx="14" ry="20" fill="#3a4a20" /><path d="M8 100C12 82 30 78 50 78C70 78 88 82 92 100Z" fill="#75756a" /><path d="M40 80L50 100L60 80Z" fill="#2a2a26" /><rect x="41" y="66" width="17" height="16" fill="#c8987a" /><ellipse cx="49" cy="47" rx="16.5" ry="22" fill="#dcae90" /><path d="M30 44C26 10 70 8 69 44C66 30 58 26 48 26C40 26 34 32 30 44Z" fill="#8c5a30" /><ellipse cx="42.5" cy="46" rx="2.8" ry="1.4" fill="#2a1a14" /><ellipse cx="55.5" cy="46" rx="2.8" ry="1.4" fill="#2a1a14" /><ellipse cx="49" cy="53" rx="2.5" ry="4" fill="#c8987a" /><ellipse cx="49" cy="61" rx="4.5" ry="1.6" fill="#a86a5a" /></g></symbol></svg>
<div class="fr" style="left:0px;top:0px;width:1327px;height:944px">
<div class="sc" style="left:9px;top:9px;right:9px;bottom:9px;border-radius:11px">
<div class="b" style="left:0px;top:0px;width:1309px;height:61px;background:#071e32;"></div>
<div class="t" style="left:37px;top:20.47px;font-size:17.3px;line-height:20.76px;color:#e6ecf3;">Store Name</div>
<div class="b" style="left:1182px;top:16px;width:103px;height:29px;background:#f0f4f9;border-radius:5px;"></div>
<div class="t" style="left:1202px;top:17.61px;font-size:9.3px;line-height:11.16px;color:#0b2239;transform:translateX(-50%);">Tue</div>
<div class="t" style="left:1202px;top:31.11px;font-size:9.3px;line-height:11.16px;color:#0b2239;transform:translateX(-50%);">15</div>
<div class="t" style="left:1218px;top:18.32px;font-size:21px;line-height:25.2px;color:#0b2239;letter-spacing:0.29px;">13:23</div>
<div class="b" style="left:0px;top:61px;width:67px;height:865px;background:#fff;"></div>
<div class="b" style="left:8.5px;top:72.5px;width:49px;height:49px;background:#0c1116;border-radius:50%;"></div>
<svg class="b" style="left:22px;top:179px;width:22px;height:22px;color:#0c1116;"><use href="#i-search"/></svg>
<svg class="b" style="left:21.5px;top:243.7px;width:23px;height:23px;color:#0c1116;"><use href="#i-dash"/></svg>
<svg class="b" style="left:22.5px;top:288.5px;width:21px;height:21px;color:#0c1116;"><use href="#i-sitemap"/></svg>
<svg class="b" style="left:22.5px;top:331.5px;width:21px;height:21px;color:#0c1116;"><use href="#i-cart"/></svg>
<svg class="b" style="left:22.5px;top:374.5px;width:21px;height:21px;color:#0c1116;"><use href="#i-usertag"/></svg>
<svg class="b" style="left:22.5px;top:417.5px;width:21px;height:21px;color:#0c1116;"><use href="#i-pct"/></svg>
<svg class="b" style="left:22.5px;top:460.5px;width:21px;height:21px;color:#0c1116;"><use href="#i-pie"/></svg>
<svg class="b" style="left:23px;top:504px;width:20px;height:20px;color:#0c1116;"><use href="#i-spark"/></svg>
<svg class="b" style="left:22.5px;top:547px;width:21px;height:21px;color:#0c1116;"><use href="#i-users"/></svg>
<svg class="b" style="left:22.5px;top:590.5px;width:21px;height:21px;color:#0c1116;"><use href="#i-tools"/></svg>
<svg class="b" style="left:22.5px;top:633.5px;width:21px;height:21px;color:#0c1116;"><use href="#i-unlock"/></svg>
<div class="b" style="left:0px;top:883px;width:67px;height:43px;background:#f0f4f9;"></div>
<svg class="b" style="left:25.5px;top:896.5px;width:15px;height:15px;color:#0b2239;"><use href="#i-rr"/></svg>
<div class="b" style="left:78px;top:73px;width:1219px;height:784px;background:#fff;border-radius:7px;"></div>
<div class="t" style="left:92.5px;top:83.19px;font-size:19.5px;line-height:23.4px;color:#0b2239;font-weight:700;letter-spacing:0.62px;">Realtime Sales Report</div>
<div class="b" style="left:1189px;top:79px;width:88px;height:31.5px;background:#071e32;border-radius:5px;"></div>
<div class="t" style="left:1233px;top:87.87px;font-size:12.3px;line-height:14.76px;color:#fff;letter-spacing:-0.15px;transform:translateX(-50%);">Manage Tabs</div>
<div class="b" style="left:85px;top:116px;width:1206px;height:1px;background:#d3d8de;"></div>
<svg class="b" style="left:93.8px;top:131.5px;width:15px;height:15px;color:#0b2239;"><use href="#i-star"/></svg>
<div class="t" style="left:118px;top:131.87px;font-size:12.3px;line-height:14.76px;color:#2b3a4a;letter-spacing:0.06px;">FAV</div>
<div class="t" style="left:162px;top:131.87px;font-size:12.3px;line-height:14.76px;color:#2b3a4a;letter-spacing:-0.14px;">Sales Summary</div>
<div class="t" style="left:268.8px;top:131.87px;font-size:12.3px;line-height:14.76px;color:#2b3a4a;letter-spacing:-0.09px;">Product Performance</div>
<div class="t" style="left:405px;top:131.87px;font-size:12.3px;line-height:14.76px;color:#2b3a4a;letter-spacing:-0.11px;">Payment &amp; Channels</div>
<div class="t" style="left:540.4px;top:131.87px;font-size:12.3px;line-height:14.76px;color:#2b3a4a;letter-spacing:-0.05px;">Promotions &amp; Discounts</div>
<div class="t" style="left:692.3px;top:131.87px;font-size:12.3px;line-height:14.76px;color:#2b3a4a;letter-spacing:-0.13px;">Refund &amp; Exceptions</div>
<div class="t" style="left:826.6px;top:131.87px;font-size:12.3px;line-height:14.76px;color:#2b3a4a;">Other</div>
<div class="b" style="left:154.4px;top:153px;width:101px;height:2.2px;background:#0c1116;border-radius:1px;"></div>
<div class="b" style="left:91px;top:174px;width:109.7px;height:32px;background:#071e32;border-radius:5px 5px 0 0;"></div>
<svg class="b" style="left:98.25px;top:182.25px;width:15.5px;height:15.5px;color:#0b2239;"><use href="#i-stard"/></svg>
<div class="t" style="left:121px;top:184.03px;font-size:10.3px;line-height:12.36px;color:#fff;font-weight:700;letter-spacing:-0.4px;">Todays Sale</div>
<svg class="b" style="left:183.7px;top:185.3px;width:10px;height:10px;color:#fff;"><use href="#i-x"/></svg>
<div class="b" style="left:207px;top:174px;width:92px;height:32px;background:#f0f4f9;border-radius:6px 6px 0 0;"></div>
<div class="t" style="left:213px;top:184.03px;font-size:10.3px;line-height:12.36px;color:#1d2c3c;font-weight:700;letter-spacing:-0.3px;">Weekly Sales</div>
<svg class="b" style="left:282px;top:185.3px;width:10px;height:10px;color:#1d2c3c;"><use href="#i-x"/></svg>
<div class="b" style="left:305.3px;top:174px;width:95.7px;height:32px;background:#f0f4f9;border-radius:6px 6px 0 0;"></div>
<div class="t" style="left:311.3px;top:184.03px;font-size:10.3px;line-height:12.36px;color:#1d2c3c;font-weight:700;letter-spacing:-0.31px;">Monthly Sales</div>
<svg class="b" style="left:384px;top:185.3px;width:10px;height:10px;color:#1d2c3c;"><use href="#i-x"/></svg>
<div class="b" style="left:407.7px;top:174px;width:80.7px;height:32px;background:#f0f4f9;border-radius:6px 6px 0 0;"></div>
<div class="t" style="left:413.7px;top:184.03px;font-size:10.3px;line-height:12.36px;color:#1d2c3c;font-weight:700;letter-spacing:-0.42px;">By product</div>
<svg class="b" style="left:471.4px;top:185.3px;width:10px;height:10px;color:#1d2c3c;"><use href="#i-x"/></svg>
<div class="b" style="left:494.6px;top:174px;width:84.4px;height:32px;background:#f0f4f9;border-radius:6px 6px 0 0;"></div>
<div class="t" style="left:500.6px;top:184.03px;font-size:10.3px;line-height:12.36px;color:#1d2c3c;font-weight:700;letter-spacing:-0.3px;">Report type</div>
<svg class="b" style="left:562px;top:185.3px;width:10px;height:10px;color:#1d2c3c;"><use href="#i-x"/></svg>
<div class="b" style="left:585.7px;top:174px;width:84.8px;height:32px;background:#f0f4f9;border-radius:6px 6px 0 0;"></div>
<div class="t" style="left:591.7px;top:184.03px;font-size:10.3px;line-height:12.36px;color:#1d2c3c;font-weight:700;letter-spacing:-0.27px;">Report type</div>
<svg class="b" style="left:653.5px;top:185.3px;width:10px;height:10px;color:#1d2c3c;"><use href="#i-x"/></svg>
<div class="b" style="left:1208.5px;top:174.5px;width:82.5px;height:31px;background:#d0d5da;border-radius:5px;"></div>
<div class="t" style="left:1249.7px;top:183.37px;font-size:12.3px;line-height:14.76px;color:#4a5a6a;letter-spacing:-0.06px;transform:translateX(-50%);">Edit Reports</div>
<div class="t" style="left:85px;top:228.88px;font-size:14px;line-height:16.8px;color:#0c1a2a;font-weight:700;letter-spacing:0.05px;">Set Parameters/ Filters</div>
<div class="b" style="left:1259.5px;top:224px;width:31.5px;height:27px;background:#f0f4f9;border-radius:3px;"></div>
<svg class="b" style="left:1266.7px;top:229px;width:17px;height:17px;color:#3a4a5a;"><use href="#i-sliders"/></svg>
<div class="b" style="left:85px;top:263px;width:1206px;height:92px;background:#f0f4f9;border-radius:6px;"></div>
<div class="t" style="left:101px;top:277.27px;font-size:11.6px;line-height:13.92px;color:#8a96a3;font-weight:700;letter-spacing:0.1px;">Select Product Category</div>
<div class="b" style="left:100px;top:296.4px;width:152.7px;height:36.3px;background:#fff;border-radius:4px;border:1px solid #c5cad0;"></div>
<div class="t" style="left:113px;top:307.66px;font-size:11.8px;line-height:14.16px;color:#2b3a4a;letter-spacing:0.15px;">Select an option</div>
<svg class="b" style="left:224px;top:307.5px;width:14px;height:14px;color:#3a4a5a;"><use href="#i-chevthin"/></svg>
<div class="t" style="left:264.6px;top:279.97px;font-size:11.6px;line-height:13.92px;color:#8a96a3;font-weight:700;letter-spacing:0.22px;">Select Date</div>
<div class="b" style="left:263.6px;top:299.4px;width:152.7px;height:36.3px;background:#fff;border-radius:4px;border:1px solid #c5cad0;"></div>
<div class="t" style="left:276.6px;top:310.66px;font-size:11.8px;line-height:14.16px;color:#2b3a4a;letter-spacing:0.14px;">Select Date</div>
<svg class="b" style="left:388.45px;top:311.25px;width:12.5px;height:12.5px;color:#5b6b7c;"><use href="#i-cal"/></svg>
<div class="t" style="left:428.2px;top:277.27px;font-size:11.6px;line-height:13.92px;color:#8a96a3;font-weight:700;letter-spacing:0.14px;">Select Timeline</div>
<div class="b" style="left:427.2px;top:296.4px;width:152.7px;height:36.3px;background:#fff;border-radius:4px;border:1px solid #c5cad0;"></div>
<div class="t" style="left:440.2px;top:307.66px;font-size:11.8px;line-height:14.16px;color:#2b3a4a;letter-spacing:0.26px;">Daily/mon/weekly</div>
<svg class="b" style="left:551.2px;top:307.5px;width:14px;height:14px;color:#3a4a5a;"><use href="#i-chevthin"/></svg>
<div class="t" style="left:591.8px;top:277.27px;font-size:11.6px;line-height:13.92px;color:#8a96a3;font-weight:700;letter-spacing:0.13px;">Select Type</div>
<div class="b" style="left:590.8px;top:296.4px;width:152.7px;height:36.3px;background:#fff;border-radius:4px;border:1px solid #c5cad0;"></div>
<div class="t" style="left:603.8px;top:307.66px;font-size:11.8px;line-height:14.16px;color:#2b3a4a;letter-spacing:0.41px;">Dept/sub-dept/grp</div>
<svg class="b" style="left:714.8px;top:307.5px;width:14px;height:14px;color:#3a4a5a;"><use href="#i-chevthin"/></svg>
<div class="t" style="left:755.4px;top:277.27px;font-size:11.6px;line-height:13.92px;color:#8a96a3;font-weight:700;letter-spacing:0.02px;">Select Region</div>
<div class="b" style="left:754.4px;top:296.4px;width:152.7px;height:36.3px;background:#fff;border-radius:4px;border:1px solid #c5cad0;"></div>
<div class="t" style="left:767.4px;top:307.66px;font-size:11.8px;line-height:14.16px;color:#2b3a4a;letter-spacing:-0.2px;">US</div>
<svg class="b" style="left:878.4px;top:307.5px;width:14px;height:14px;color:#3a4a5a;"><use href="#i-chevthin"/></svg>
<div class="t" style="left:919px;top:277.27px;font-size:11.6px;line-height:13.92px;color:#8a96a3;font-weight:700;letter-spacing:-0.03px;">Select Location</div>
<div class="b" style="left:918px;top:296.4px;width:152.7px;height:36.3px;background:#fff;border-radius:4px;border:1px solid #c5cad0;"></div>
<div class="t" style="left:931px;top:307.66px;font-size:11.8px;line-height:14.16px;color:#2b3a4a;letter-spacing:0.14px;">Store 1</div>
<svg class="b" style="left:1042px;top:307.5px;width:14px;height:14px;color:#3a4a5a;"><use href="#i-chevthin"/></svg>
<div class="b" style="left:94px;top:366.6px;width:152px;height:256px;background:#fff;border-radius:5px;box-shadow:0 5px 16px rgba(10,20,40,0.17), 0 0 4px rgba(10,20,40,0.05);"></div>
<div class="t" style="left:103px;top:391.73px;font-size:9.6px;line-height:11.52px;color:#0b2239;font-weight:700;letter-spacing:-0.14px;">Todays Sales</div>
<svg class="b" style="left:219.25px;top:389.75px;width:15.5px;height:15.5px;color:#0b2239;"><use href="#i-star"/></svg>
<svg class="b" style="left:-9px;top:-9px;width:10px;height:10px;" viewBox="0 0 10 10"><path d="M219.8 482.1A41.3 41.3 0 0 1 205.6 511.9" fill="none" stroke="#eef1f6" stroke-width="5" stroke-linecap="round"/><path d="M151.4 511.9A41.3 41.3 0 1 1 219.8 482.1" fill="none" stroke="#2779b4" stroke-width="7.5" stroke-linecap="round"/></svg>
<div class="t" style="left:169.5px;top:464.39px;font-size:12.6px;line-height:15.12px;color:#0c1a2a;font-weight:700;letter-spacing:0.29px;transform:translateX(-50%);">$5000</div>
<div class="b" style="left:127px;top:541px;width:6px;height:6px;background:#e3e7ee;border-radius:50%;"></div>
<div class="t" style="left:140px;top:538.25px;font-size:9.4px;line-height:11.28px;color:#5b6b7c;letter-spacing:0.47px;">Threshold</div>
<div class="t" style="left:193px;top:538.25px;font-size:9.4px;line-height:11.28px;color:#0c1a2a;font-weight:700;letter-spacing:0.3px;">5.5k</div>
<div class="b" style="left:94px;top:548px;width:152px;height:63px;background:#fff;box-shadow:0 -3px 6px rgba(20,40,80,0.06), 0 3px 6px rgba(20,40,80,0.06);"></div>
<div class="t" style="left:101.3px;top:559.12px;font-size:9.8px;line-height:11.76px;color:#2779b4;font-weight:700;letter-spacing:-0.17px;">Your sales performance is</div>
<div class="t" style="left:101.3px;top:572.82px;font-size:9.8px;line-height:11.76px;color:#2779b4;font-weight:700;letter-spacing:0.03px;">30% better compare to last</div>
<div class="t" style="left:101.3px;top:586.52px;font-size:9.8px;line-height:11.76px;color:#2779b4;font-weight:700;">month</div>
<div class="t" style="left:101.3px;top:572.82px;font-size:9.8px;line-height:11.76px;color:#12568d;font-weight:700;letter-spacing:0.46px;">30%</div>
<div class="b" style="left:254.8px;top:366.6px;width:151px;height:255px;background:#fff;border-radius:5px;box-shadow:0 5px 16px rgba(10,20,40,0.17), 0 0 4px rgba(10,20,40,0.05);"></div>
<div class="t" style="left:331.3px;top:380.37px;font-size:9.7px;line-height:11.64px;color:#1d2c3c;font-weight:700;letter-spacing:-0.04px;transform:translateX(-50%);">Last Year Overview</div>
<div class="t" style="left:322px;top:396.67px;font-size:8.5px;line-height:10.2px;color:#5b6b7c;letter-spacing:0.08px;transform:translateX(-50%);">4 th July 2024</div>
<svg class="b" style="left:355.4px;top:395.6px;width:12px;height:12px;color:#5b6b7c;"><use href="#i-cal"/></svg>
<svg class="b" style="left:266.7px;top:409.8px;width:127px;height:128.2px;" viewBox="0 0 127 128.2"><defs><linearGradient id="ga" x1="0" y1="0" x2="0" y2="1"><stop offset="0" stop-color="#2772ac"/><stop offset="0.45" stop-color="#7fb2da"/><stop offset="1" stop-color="#e9f1f9"/></linearGradient><linearGradient id="gb" x1="0" y1="0" x2="0" y2="1"><stop offset="0" stop-color="#7cc4ff"/><stop offset="0.5" stop-color="#a9d6fb"/><stop offset="1" stop-color="#f4f9fe"/></linearGradient></defs><path d="M0.0 8.0 C1.0 6.8 4.2 0.7 6.0 1.0 C7.8 1.3 9.2 8.5 11.0 10.0 C12.8 11.5 15.2 8.0 17.0 10.0 C18.8 12.0 20.3 20.7 22.0 22.0 C23.7 23.3 25.2 19.3 27.0 18.0 C28.8 16.7 31.0 13.0 33.0 14.0 C35.0 15.0 37.0 21.0 39.0 24.0 C41.0 27.0 42.8 32.3 45.0 32.0 C47.2 31.7 49.7 25.7 52.0 22.0 C54.3 18.3 57.0 12.7 59.0 10.0 C61.0 7.3 62.2 5.3 64.0 6.0 C65.8 6.7 67.8 10.3 70.0 14.0 C72.2 17.7 74.8 27.3 77.0 28.0 C79.2 28.7 81.2 18.3 83.0 18.0 C84.8 17.7 86.2 23.0 88.0 26.0 C89.8 29.0 92.0 34.0 94.0 36.0 C96.0 38.0 98.2 39.7 100.0 38.0 C101.8 36.3 103.3 31.3 105.0 26.0 C106.7 20.7 108.5 10.3 110.0 6.0 C111.5 1.7 112.5 -0.3 114.0 0.0 C115.5 0.3 117.3 4.7 119.0 8.0 C120.7 11.3 122.7 16.3 124.0 20.0 C125.3 23.7 126.5 28.3 127.0 30.0 L127 128 L0 128Z" fill="url(#ga)"/><path d="M0.0 76.0 C1.2 74.3 4.7 69.0 7.0 66.0 C9.3 63.0 11.8 58.0 14.0 58.0 C16.2 58.0 18.0 62.7 20.0 66.0 C22.0 69.3 24.2 75.7 26.0 78.0 C27.8 80.3 29.2 81.0 31.0 80.0 C32.8 79.0 34.8 73.7 37.0 72.0 C39.2 70.3 41.8 69.7 44.0 70.0 C46.2 70.3 48.0 74.7 50.0 74.0 C52.0 73.3 54.0 68.0 56.0 66.0 C58.0 64.0 59.8 62.0 62.0 62.0 C64.2 62.0 66.7 64.0 69.0 66.0 C71.3 68.0 73.8 72.3 76.0 74.0 C78.2 75.7 79.7 77.0 82.0 76.0 C84.3 75.0 87.5 70.3 90.0 68.0 C92.5 65.7 94.7 62.3 97.0 62.0 C99.3 61.7 101.8 66.3 104.0 66.0 C106.2 65.7 108.0 60.7 110.0 60.0 C112.0 59.3 114.2 62.3 116.0 62.0 C117.8 61.7 119.2 58.0 121.0 58.0 C122.8 58.0 126.0 61.3 127.0 62.0 L127 128 L0 128Z" fill="url(#gb)"/><path d="M0.0 76.0 C1.2 74.3 4.7 69.0 7.0 66.0 C9.3 63.0 11.8 58.0 14.0 58.0 C16.2 58.0 18.0 62.7 20.0 66.0 C22.0 69.3 24.2 75.7 26.0 78.0 C27.8 80.3 29.2 81.0 31.0 80.0 C32.8 79.0 34.8 73.7 37.0 72.0 C39.2 70.3 41.8 69.7 44.0 70.0 C46.2 70.3 48.0 74.7 50.0 74.0 C52.0 73.3 54.0 68.0 56.0 66.0 C58.0 64.0 59.8 62.0 62.0 62.0 C64.2 62.0 66.7 64.0 69.0 66.0 C71.3 68.0 73.8 72.3 76.0 74.0 C78.2 75.7 79.7 77.0 82.0 76.0 C84.3 75.0 87.5 70.3 90.0 68.0 C92.5 65.7 94.7 62.3 97.0 62.0 C99.3 61.7 101.8 66.3 104.0 66.0 C106.2 65.7 108.0 60.7 110.0 60.0 C112.0 59.3 114.2 62.3 116.0 62.0 C117.8 61.7 119.2 58.0 121.0 58.0 C122.8 58.0 126.0 61.3 127.0 62.0" fill="none" stroke="#4a9be0" stroke-width="0.8"/><path d="M25 0V128" stroke="#5f8fba" stroke-opacity=".18" stroke-width="0.6"/><path d="M50 0V128" stroke="#5f8fba" stroke-opacity=".18" stroke-width="0.6"/><path d="M76 0V128" stroke="#5f8fba" stroke-opacity=".18" stroke-width="0.6"/><path d="M101 0V128" stroke="#5f8fba" stroke-opacity=".18" stroke-width="0.6"/><path d="M0.0 126.5v3" stroke="#41566b" stroke-width="0.7"/><path d="M6.3 126.5v3" stroke="#41566b" stroke-width="0.7"/><path d="M12.7 126.5v3" stroke="#41566b" stroke-width="0.7"/><path d="M19.0 126.5v3" stroke="#41566b" stroke-width="0.7"/><path d="M25.4 126.5v3" stroke="#41566b" stroke-width="0.7"/><path d="M31.8 126.5v3" stroke="#41566b" stroke-width="0.7"/><path d="M38.1 126.5v3" stroke="#41566b" stroke-width="0.7"/><path d="M44.4 126.5v3" stroke="#41566b" stroke-width="0.7"/><path d="M50.8 126.5v3" stroke="#41566b" stroke-width="0.7"/><path d="M57.1 126.5v3" stroke="#41566b" stroke-width="0.7"/><path d="M63.5 126.5v3" stroke="#41566b" stroke-width="0.7"/><path d="M69.8 126.5v3" stroke="#41566b" stroke-width="0.7"/><path d="M76.2 126.5v3" stroke="#41566b" stroke-width="0.7"/><path d="M82.5 126.5v3" stroke="#41566b" stroke-width="0.7"/><path d="M88.9 126.5v3" stroke="#41566b" stroke-width="0.7"/><path d="M95.2 126.5v3" stroke="#41566b" stroke-width="0.7"/><path d="M101.6 126.5v3" stroke="#41566b" stroke-width="0.7"/><path d="M107.9 126.5v3" stroke="#41566b" stroke-width="0.7"/><path d="M114.3 126.5v3" stroke="#41566b" stroke-width="0.7"/><path d="M120.6 126.5v3" stroke="#41566b" stroke-width="0.7"/><path d="M127.0 126.5v3" stroke="#41566b" stroke-width="0.7"/></svg>
<svg class="b" style="left:270.35px;top:553.75px;width:10.5px;height:10.5px;color:#2fbf3a;"><use href="#i-tri"/></svg>
<div class="t" style="left:288px;top:553.4px;font-size:10px;line-height:12px;color:#1d2c3c;letter-spacing:0.16px;">30%</div>
<div class="t" style="left:266.7px;top:569.62px;font-size:9.8px;line-height:11.76px;color:#2779b4;font-weight:700;letter-spacing:-0.17px;">Your sales performance is</div>
<div class="t" style="left:266.7px;top:583.32px;font-size:9.8px;line-height:11.76px;color:#2779b4;font-weight:700;">better compare to 4th of</div>
<div class="t" style="left:266.7px;top:597.02px;font-size:9.8px;line-height:11.76px;color:#2779b4;font-weight:700;letter-spacing:-0.28px;">July</div>
<div class="b" style="left:418px;top:366.6px;width:572.5px;height:255px;background:#fff;border-radius:5px;box-shadow:0 5px 16px rgba(10,20,40,0.17), 0 0 4px rgba(10,20,40,0.05);"></div>
<div class="t" style="left:427.5px;top:386.07px;font-size:11.6px;line-height:13.92px;color:#0c1a2a;font-weight:700;letter-spacing:0.16px;">Summary</div>
<div class="b" style="left:742.3px;top:379.6px;width:75.4px;height:26.5px;background:#2779b4;border-radius:5px;"></div>
<div class="t" style="left:780px;top:387.32px;font-size:9.8px;line-height:11.76px;color:#fff;font-weight:700;letter-spacing:0.23px;transform:translateX(-50%);">Weekly</div>
<div class="b" style="left:824.5px;top:379.6px;width:75px;height:26.5px;background:#f0f4f9;border-radius:5px;"></div>
<div class="t" style="left:862px;top:387.32px;font-size:9.8px;line-height:11.76px;color:#2779b4;font-weight:700;letter-spacing:0.06px;transform:translateX(-50%);">Monthly</div>
<div class="b" style="left:906px;top:379.6px;width:75px;height:26.5px;background:#f0f4f9;border-radius:5px;"></div>
<div class="t" style="left:943.5px;top:387.32px;font-size:9.8px;line-height:11.76px;color:#2779b4;font-weight:700;letter-spacing:-0.06px;transform:translateX(-50%);">Yearly</div>
<div class="t" style="left:430.6px;top:404.73px;font-size:9.6px;line-height:11.52px;color:#5b6b7c;font-weight:700;letter-spacing:0.55px;">$15000+</div>
<div class="t" style="left:430.6px;top:440.13px;font-size:9.6px;line-height:11.52px;color:#5b6b7c;font-weight:700;letter-spacing:0.58px;">$10000</div>
<div class="t" style="left:430.6px;top:475.73px;font-size:9.6px;line-height:11.52px;color:#5b6b7c;font-weight:700;letter-spacing:0.56px;">$5000</div>
<div class="t" style="left:430.6px;top:511.43px;font-size:9.6px;line-height:11.52px;color:#5b6b7c;font-weight:700;letter-spacing:0.56px;">$3000</div>
<div class="t" style="left:430.6px;top:547.43px;font-size:9.6px;line-height:11.52px;color:#5b6b7c;font-weight:700;letter-spacing:0.56px;">$1000</div>
<div class="t" style="left:430.6px;top:582.83px;font-size:9.6px;line-height:11.52px;color:#5b6b7c;font-weight:700;letter-spacing:0.41px;">$0</div>
<div class="t" style="left:472.8px;top:596.82px;font-size:9.8px;line-height:11.76px;color:#5b6b7c;font-weight:700;transform:translateX(-50%);">S</div>
<div class="t" style="left:555px;top:596.82px;font-size:9.8px;line-height:11.76px;color:#5b6b7c;font-weight:700;transform:translateX(-50%);">M</div>
<div class="t" style="left:636.7px;top:596.82px;font-size:9.8px;line-height:11.76px;color:#5b6b7c;font-weight:700;transform:translateX(-50%);">T</div>
<div class="t" style="left:720.4px;top:596.82px;font-size:9.8px;line-height:11.76px;color:#5b6b7c;font-weight:700;transform:translateX(-50%);">W</div>
<div class="t" style="left:806.3px;top:596.82px;font-size:9.8px;line-height:11.76px;color:#5b6b7c;font-weight:700;transform:translateX(-50%);">Th</div>
<div class="t" style="left:889.5px;top:596.82px;font-size:9.8px;line-height:11.76px;color:#5b6b7c;font-weight:700;transform:translateX(-50%);">F</div>
<div class="t" style="left:970.2px;top:596.82px;font-size:9.8px;line-height:11.76px;color:#5b6b7c;font-weight:700;transform:translateX(-50%);">S</div>
<svg class="b" style="left:-9px;top:-9px;width:10px;height:10px;" viewBox="0 0 10 10"><path d="M482.2 585.2 L521.7 543.1 L565.4 524.4 L607.1 546.7 L651.3 469.8 L688.2 481.7 L736.6 478.1 L778.7 530.1 L862.5 547.3 L910.8 509.8 L956.1 421.9" fill="none" stroke="#2779b4" stroke-width="1.3"/><circle cx="482.2" cy="585.2" r="2.9" fill="#fff" stroke="#2779b4" stroke-width="1.3"/><circle cx="521.7" cy="543.1" r="2.9" fill="#fff" stroke="#2779b4" stroke-width="1.3"/><circle cx="565.4" cy="524.4" r="2.9" fill="#fff" stroke="#2779b4" stroke-width="1.3"/><circle cx="607.1" cy="546.7" r="2.9" fill="#fff" stroke="#2779b4" stroke-width="1.3"/><circle cx="651.3" cy="469.8" r="2.9" fill="#fff" stroke="#2779b4" stroke-width="1.3"/><circle cx="688.2" cy="481.7" r="2.9" fill="#fff" stroke="#2779b4" stroke-width="1.3"/><circle cx="736.6" cy="478.1" r="2.9" fill="#fff" stroke="#2779b4" stroke-width="1.3"/><circle cx="778.7" cy="530.1" r="2.9" fill="#fff" stroke="#2779b4" stroke-width="1.3"/><circle cx="862.5" cy="547.3" r="2.9" fill="#fff" stroke="#2779b4" stroke-width="1.3"/><circle cx="910.8" cy="509.8" r="2.9" fill="#fff" stroke="#2779b4" stroke-width="1.3"/><circle cx="956.1" cy="421.9" r="2.9" fill="#fff" stroke="#2779b4" stroke-width="1.3"/></svg>
<div class="b" style="left:1006px;top:365px;width:227px;height:264px;background:#fff;border-radius:5px;box-shadow:0 6px 20px rgba(10,20,40,0.2);"></div>
<div class="t" style="left:1120px;top:384.52px;font-size:9.8px;line-height:11.76px;color:#1d2c3c;font-weight:700;letter-spacing:0.07px;transform:translateX(-50%);">Weekly Overview</div>
<div class="t" style="left:1120px;top:399.13px;font-size:9.6px;line-height:11.52px;color:#8a96a3;letter-spacing:0.51px;transform:translateX(-50%);">Apr 1 - Apr 7</div>
<div class="b" style="left:1030.6px;top:496.7px;width:12.4px;height:40px;background:#2779b4;border-radius:6.2px;"></div>
<div class="b" style="left:1057.6px;top:481px;width:12.4px;height:55.7px;background:#2779b4;border-radius:6.2px;"></div>
<div class="b" style="left:1085.7px;top:507px;width:12.4px;height:29.7px;background:#2779b4;border-radius:6.2px;"></div>
<div class="b" style="left:1112.8px;top:457px;width:12.4px;height:79.7px;background:#2779b4;border-radius:6.2px;"></div>
<div class="b" style="left:1140.8px;top:465.5px;width:12.4px;height:71.2px;background:#3a9ce0;border-radius:6.2px;"></div>
<div class="b" style="left:1167.8px;top:465.5px;width:12.4px;height:71.2px;background:#f0f3f9;border-radius:6.2px;"></div>
<div class="b" style="left:1195.5px;top:465.5px;width:12.4px;height:71.2px;background:#f0f3f9;border-radius:6.2px;"></div>
<div class="b" style="left:1132.5px;top:440.5px;width:28px;height:15.5px;background:#e9f1fa;border-radius:8px;"></div>
<div class="t" style="left:1146.3px;top:443.56px;font-size:8px;line-height:9.6px;color:#2779b4;transform:translateX(-50%);">100</div>
<div class="t" style="left:1036.8px;top:552.13px;font-size:9.6px;line-height:11.52px;color:#8a96a3;transform:translateX(-50%);">M</div>
<div class="t" style="left:1063.8px;top:552.13px;font-size:9.6px;line-height:11.52px;color:#8a96a3;transform:translateX(-50%);">T</div>
<div class="t" style="left:1091.9px;top:552.13px;font-size:9.6px;line-height:11.52px;color:#8a96a3;transform:translateX(-50%);">W</div>
<div class="t" style="left:1119px;top:552.13px;font-size:9.6px;line-height:11.52px;color:#8a96a3;transform:translateX(-50%);">T</div>
<div class="t" style="left:1147px;top:552.13px;font-size:9.6px;line-height:11.52px;color:#8a96a3;transform:translateX(-50%);">F</div>
<div class="t" style="left:1174px;top:552.13px;font-size:9.6px;line-height:11.52px;color:#8a96a3;transform:translateX(-50%);">S</div>
<div class="t" style="left:1201.7px;top:552.13px;font-size:9.6px;line-height:11.52px;color:#8a96a3;transform:translateX(-50%);">S</div>
<div class="b" style="left:1021px;top:576.5px;width:198px;height:1px;background:#eef1f5;"></div>
<div class="b" style="left:1021.7px;top:589.9px;width:28px;height:28px;background:#f0f4f9;border-radius:50%;"></div>
<svg class="b" style="left:1028.95px;top:597.15px;width:13.5px;height:13.5px;color:#2779b4;"><use href="#i-smile"/></svg>
<div class="t" style="left:1060px;top:590.52px;font-size:9.8px;line-height:11.76px;color:#0c1a2a;font-weight:700;letter-spacing:-0.15px;">You're doing good!</div>
<div class="t" style="left:1060px;top:606.81px;font-size:9.3px;line-height:11.16px;color:#8a96a3;letter-spacing:0.46px;">You almost reached your goal</div>
<svg class="b" style="left:1251.4px;top:373.3px;width:12px;height:12px;color:#0c1116;"><use href="#i-caret"/></svg>
<div class="b" style="left:85px;top:636px;width:1206px;height:26px;background:#f0f4f9;"></div>
<div class="b" style="left:98.4px;top:643.3px;width:12px;height:12px;background:#fff;border-radius:2.5px;border:1px solid #3a4550;"></div>
<div class="t" style="left:169.5px;top:642.36px;font-size:11.8px;line-height:14.16px;color:#0c1a2a;font-weight:700;transform:translateX(-50%);">Product Name</div>
<div class="t" style="left:260px;top:642.36px;font-size:11.8px;line-height:14.16px;color:#0c1a2a;font-weight:700;letter-spacing:0.17px;transform:translateX(-50%);">Vendor</div>
<div class="t" style="left:351px;top:642.36px;font-size:11.8px;line-height:14.16px;color:#0c1a2a;font-weight:700;letter-spacing:-0.21px;transform:translateX(-50%);">Sku</div>
<div class="t" style="left:442px;top:642.36px;font-size:11.8px;line-height:14.16px;color:#0c1a2a;font-weight:700;letter-spacing:0.29px;transform:translateX(-50%);">Department</div>
<div class="t" style="left:532.6px;top:642.36px;font-size:11.8px;line-height:14.16px;color:#0c1a2a;font-weight:700;letter-spacing:0.11px;transform:translateX(-50%);">Category</div>
<div class="t" style="left:623.7px;top:642.36px;font-size:11.8px;line-height:14.16px;color:#0c1a2a;font-weight:700;transform:translateX(-50%);">Subcategory</div>
<div class="t" style="left:714.7px;top:642.36px;font-size:11.8px;line-height:14.16px;color:#0c1a2a;font-weight:700;transform:translateX(-50%);">Brand</div>
<div class="t" style="left:805.8px;top:642.36px;font-size:11.8px;line-height:14.16px;color:#0c1a2a;font-weight:700;letter-spacing:-0.14px;transform:translateX(-50%);">Pack</div>
<div class="t" style="left:896.8px;top:642.36px;font-size:11.8px;line-height:14.16px;color:#0c1a2a;font-weight:700;letter-spacing:-0.06px;transform:translateX(-50%);">Pack Type</div>
<div class="t" style="left:987.4px;top:642.36px;font-size:11.8px;line-height:14.16px;color:#0c1a2a;font-weight:700;letter-spacing:-0.15px;transform:translateX(-50%);">Size</div>
<div class="t" style="left:1078.4px;top:642.36px;font-size:11.8px;line-height:14.16px;color:#0c1a2a;font-weight:700;letter-spacing:0.11px;transform:translateX(-50%);">HEADER</div>
<div class="t" style="left:1169.5px;top:642.36px;font-size:11.8px;line-height:14.16px;color:#0c1a2a;font-weight:700;letter-spacing:0.11px;transform:translateX(-50%);">HEADER</div>
<div class="t" style="left:1260px;top:642.36px;font-size:11.8px;line-height:14.16px;color:#0c1a2a;font-weight:700;letter-spacing:0.11px;transform:translateX(-50%);">HEADER</div>
<div class="b" style="left:98.4px;top:670.5px;width:12px;height:12px;background:#fff;border-radius:2.5px;border:1px solid #3a4550;"></div>
<div class="t" style="left:169.5px;top:670.57px;font-size:9.7px;line-height:11.64px;color:#4a5562;transform:translateX(-50%);">Corona Extra</div>
<div class="t" style="left:260px;top:670.57px;font-size:9.7px;line-height:11.64px;color:#4a5562;letter-spacing:-0.05px;transform:translateX(-50%);">Corona</div>
<div class="t" style="left:351px;top:670.57px;font-size:9.7px;line-height:11.64px;color:#4a5562;letter-spacing:0.51px;transform:translateX(-50%);">#0001</div>
<div class="t" style="left:442px;top:670.57px;font-size:9.7px;line-height:11.64px;color:#4a5562;letter-spacing:0.51px;transform:translateX(-50%);">#0001</div>
<div class="t" style="left:532.6px;top:670.57px;font-size:9.7px;line-height:11.64px;color:#4a5562;transform:translateX(-50%);">Beer</div>
<div class="t" style="left:623.7px;top:670.57px;font-size:9.7px;line-height:11.64px;color:#4a5562;transform:translateX(-50%);">Beer</div>
<div class="t" style="left:714.7px;top:670.57px;font-size:9.7px;line-height:11.64px;color:#4a5562;transform:translateX(-50%);">Beer</div>
<div class="t" style="left:805.8px;top:670.57px;font-size:9.7px;line-height:11.64px;color:#4a5562;transform:translateX(-50%);">Beer</div>
<div class="t" style="left:896.8px;top:670.57px;font-size:9.7px;line-height:11.64px;color:#4a5562;letter-spacing:0.11px;transform:translateX(-50%);">12</div>
<div class="t" style="left:987.4px;top:670.57px;font-size:9.7px;line-height:11.64px;color:#4a5562;letter-spacing:0.37px;transform:translateX(-50%);">Bottle</div>
<div class="t" style="left:1078.4px;top:670.57px;font-size:9.7px;line-height:11.64px;color:#4a5562;letter-spacing:-0.89px;transform:translateX(-50%);">1</div>
<div class="t" style="left:1169.5px;top:670.57px;font-size:9.7px;line-height:11.64px;color:#4a5562;letter-spacing:-0.89px;transform:translateX(-50%);">1</div>
<div class="t" style="left:1260px;top:670.57px;font-size:9.7px;line-height:11.64px;color:#4a5562;transform:translateX(-50%);">ABC</div>
<div class="b" style="left:85px;top:695.9px;width:1206px;height:27px;background:#f0f4f9;"></div>
<div class="b" style="left:98.4px;top:703.8px;width:12px;height:12px;background:#fff;border-radius:2.5px;border:1px solid #3a4550;"></div>
<div class="t" style="left:169.5px;top:703.87px;font-size:9.7px;line-height:11.64px;color:#4a5562;transform:translateX(-50%);">Corona Extra</div>
<div class="t" style="left:260px;top:703.87px;font-size:9.7px;line-height:11.64px;color:#4a5562;letter-spacing:-0.05px;transform:translateX(-50%);">Corona</div>
<div class="t" style="left:351px;top:703.87px;font-size:9.7px;line-height:11.64px;color:#4a5562;letter-spacing:0.51px;transform:translateX(-50%);">#0001</div>
<div class="t" style="left:442px;top:703.87px;font-size:9.7px;line-height:11.64px;color:#4a5562;letter-spacing:0.51px;transform:translateX(-50%);">#0001</div>
<div class="t" style="left:532.6px;top:703.87px;font-size:9.7px;line-height:11.64px;color:#4a5562;transform:translateX(-50%);">Beer</div>
<div class="t" style="left:623.7px;top:703.87px;font-size:9.7px;line-height:11.64px;color:#4a5562;transform:translateX(-50%);">Beer</div>
<div class="t" style="left:714.7px;top:703.87px;font-size:9.7px;line-height:11.64px;color:#4a5562;transform:translateX(-50%);">Beer</div>
<div class="t" style="left:805.8px;top:703.87px;font-size:9.7px;line-height:11.64px;color:#4a5562;transform:translateX(-50%);">Beer</div>
<div class="t" style="left:896.8px;top:703.87px;font-size:9.7px;line-height:11.64px;color:#4a5562;letter-spacing:0.11px;transform:translateX(-50%);">12</div>
<div class="t" style="left:987.4px;top:703.87px;font-size:9.7px;line-height:11.64px;color:#4a5562;letter-spacing:0.37px;transform:translateX(-50%);">Bottle</div>
<div class="t" style="left:1078.4px;top:703.87px;font-size:9.7px;line-height:11.64px;color:#4a5562;letter-spacing:-0.89px;transform:translateX(-50%);">1</div>
<div class="t" style="left:1169.5px;top:703.87px;font-size:9.7px;line-height:11.64px;color:#4a5562;letter-spacing:-0.89px;transform:translateX(-50%);">1</div>
<div class="t" style="left:1260px;top:703.87px;font-size:9.7px;line-height:11.64px;color:#4a5562;transform:translateX(-50%);">ABC</div>
<div class="b" style="left:98.4px;top:737.1px;width:12px;height:12px;background:#fff;border-radius:2.5px;border:1px solid #3a4550;"></div>
<div class="t" style="left:169.5px;top:737.17px;font-size:9.7px;line-height:11.64px;color:#4a5562;transform:translateX(-50%);">Corona Extra</div>
<div class="t" style="left:260px;top:737.17px;font-size:9.7px;line-height:11.64px;color:#4a5562;letter-spacing:-0.05px;transform:translateX(-50%);">Corona</div>
<div class="t" style="left:351px;top:737.17px;font-size:9.7px;line-height:11.64px;color:#4a5562;letter-spacing:0.51px;transform:translateX(-50%);">#0001</div>
<div class="t" style="left:442px;top:737.17px;font-size:9.7px;line-height:11.64px;color:#4a5562;letter-spacing:0.51px;transform:translateX(-50%);">#0001</div>
<div class="t" style="left:532.6px;top:737.17px;font-size:9.7px;line-height:11.64px;color:#4a5562;transform:translateX(-50%);">Beer</div>
<div class="t" style="left:623.7px;top:737.17px;font-size:9.7px;line-height:11.64px;color:#4a5562;transform:translateX(-50%);">Beer</div>
<div class="t" style="left:714.7px;top:737.17px;font-size:9.7px;line-height:11.64px;color:#4a5562;transform:translateX(-50%);">Beer</div>
<div class="t" style="left:805.8px;top:737.17px;font-size:9.7px;line-height:11.64px;color:#4a5562;transform:translateX(-50%);">Beer</div>
<div class="t" style="left:896.8px;top:737.17px;font-size:9.7px;line-height:11.64px;color:#4a5562;letter-spacing:0.11px;transform:translateX(-50%);">12</div>
<div class="t" style="left:987.4px;top:737.17px;font-size:9.7px;line-height:11.64px;color:#4a5562;letter-spacing:0.37px;transform:translateX(-50%);">Bottle</div>
<div class="t" style="left:1078.4px;top:737.17px;font-size:9.7px;line-height:11.64px;color:#4a5562;letter-spacing:-0.89px;transform:translateX(-50%);">1</div>
<div class="t" style="left:1169.5px;top:737.17px;font-size:9.7px;line-height:11.64px;color:#4a5562;letter-spacing:-0.89px;transform:translateX(-50%);">1</div>
<div class="t" style="left:1260px;top:737.17px;font-size:9.7px;line-height:11.64px;color:#4a5562;transform:translateX(-50%);">ABC</div>
<div class="b" style="left:85px;top:762.5px;width:1206px;height:27px;background:#f0f4f9;"></div>
<div class="b" style="left:98.4px;top:770.4px;width:12px;height:12px;background:#fff;border-radius:2.5px;border:1px solid #3a4550;"></div>
<div class="t" style="left:169.5px;top:770.47px;font-size:9.7px;line-height:11.64px;color:#4a5562;transform:translateX(-50%);">Corona Extra</div>
<div class="t" style="left:260px;top:770.47px;font-size:9.7px;line-height:11.64px;color:#4a5562;letter-spacing:-0.05px;transform:translateX(-50%);">Corona</div>
<div class="t" style="left:351px;top:770.47px;font-size:9.7px;line-height:11.64px;color:#4a5562;letter-spacing:0.51px;transform:translateX(-50%);">#0001</div>
<div class="t" style="left:442px;top:770.47px;font-size:9.7px;line-height:11.64px;color:#4a5562;letter-spacing:0.51px;transform:translateX(-50%);">#0001</div>
<div class="t" style="left:532.6px;top:770.47px;font-size:9.7px;line-height:11.64px;color:#4a5562;transform:translateX(-50%);">Beer</div>
<div class="t" style="left:623.7px;top:770.47px;font-size:9.7px;line-height:11.64px;color:#4a5562;transform:translateX(-50%);">Beer</div>
<div class="t" style="left:714.7px;top:770.47px;font-size:9.7px;line-height:11.64px;color:#4a5562;transform:translateX(-50%);">Beer</div>
<div class="t" style="left:805.8px;top:770.47px;font-size:9.7px;line-height:11.64px;color:#4a5562;transform:translateX(-50%);">Beer</div>
<div class="t" style="left:896.8px;top:770.47px;font-size:9.7px;line-height:11.64px;color:#4a5562;letter-spacing:0.11px;transform:translateX(-50%);">12</div>
<div class="t" style="left:987.4px;top:770.47px;font-size:9.7px;line-height:11.64px;color:#4a5562;letter-spacing:0.37px;transform:translateX(-50%);">Bottle</div>
<div class="t" style="left:1078.4px;top:770.47px;font-size:9.7px;line-height:11.64px;color:#4a5562;letter-spacing:-0.89px;transform:translateX(-50%);">1</div>
<div class="t" style="left:1169.5px;top:770.47px;font-size:9.7px;line-height:11.64px;color:#4a5562;letter-spacing:-0.89px;transform:translateX(-50%);">1</div>
<div class="t" style="left:1260px;top:770.47px;font-size:9.7px;line-height:11.64px;color:#4a5562;transform:translateX(-50%);">ABC</div>
<div class="b" style="left:98.4px;top:803.7px;width:12px;height:12px;background:#fff;border-radius:2.5px;border:1px solid #3a4550;"></div>
<div class="t" style="left:169.5px;top:803.77px;font-size:9.7px;line-height:11.64px;color:#4a5562;transform:translateX(-50%);">Corona Extra</div>
<div class="t" style="left:260px;top:803.77px;font-size:9.7px;line-height:11.64px;color:#4a5562;letter-spacing:-0.05px;transform:translateX(-50%);">Corona</div>
<div class="t" style="left:351px;top:803.77px;font-size:9.7px;line-height:11.64px;color:#4a5562;letter-spacing:0.51px;transform:translateX(-50%);">#0001</div>
<div class="t" style="left:442px;top:803.77px;font-size:9.7px;line-height:11.64px;color:#4a5562;letter-spacing:0.51px;transform:translateX(-50%);">#0001</div>
<div class="t" style="left:532.6px;top:803.77px;font-size:9.7px;line-height:11.64px;color:#4a5562;transform:translateX(-50%);">Beer</div>
<div class="t" style="left:623.7px;top:803.77px;font-size:9.7px;line-height:11.64px;color:#4a5562;transform:translateX(-50%);">Beer</div>
<div class="t" style="left:714.7px;top:803.77px;font-size:9.7px;line-height:11.64px;color:#4a5562;transform:translateX(-50%);">Beer</div>
<div class="t" style="left:805.8px;top:803.77px;font-size:9.7px;line-height:11.64px;color:#4a5562;transform:translateX(-50%);">Beer</div>
<div class="t" style="left:896.8px;top:803.77px;font-size:9.7px;line-height:11.64px;color:#4a5562;letter-spacing:0.11px;transform:translateX(-50%);">12</div>
<div class="t" style="left:987.4px;top:803.77px;font-size:9.7px;line-height:11.64px;color:#4a5562;letter-spacing:0.37px;transform:translateX(-50%);">Bottle</div>
<div class="t" style="left:1078.4px;top:803.77px;font-size:9.7px;line-height:11.64px;color:#4a5562;letter-spacing:-0.89px;transform:translateX(-50%);">1</div>
<div class="t" style="left:1169.5px;top:803.77px;font-size:9.7px;line-height:11.64px;color:#4a5562;letter-spacing:-0.89px;transform:translateX(-50%);">1</div>
<div class="t" style="left:1260px;top:803.77px;font-size:9.7px;line-height:11.64px;color:#4a5562;transform:translateX(-50%);">ABC</div>
<div class="b" style="left:85px;top:829.1px;width:1206px;height:27px;background:#f0f4f9;"></div>
<div class="b" style="left:98.4px;top:837px;width:12px;height:12px;background:#fff;border-radius:2.5px;border:1px solid #3a4550;"></div>
<div class="t" style="left:169.5px;top:837.07px;font-size:9.7px;line-height:11.64px;color:#4a5562;transform:translateX(-50%);">Corona Extra</div>
<div class="t" style="left:260px;top:837.07px;font-size:9.7px;line-height:11.64px;color:#4a5562;letter-spacing:-0.05px;transform:translateX(-50%);">Corona</div>
<div class="t" style="left:351px;top:837.07px;font-size:9.7px;line-height:11.64px;color:#4a5562;letter-spacing:0.51px;transform:translateX(-50%);">#0001</div>
<div class="t" style="left:442px;top:837.07px;font-size:9.7px;line-height:11.64px;color:#4a5562;letter-spacing:0.51px;transform:translateX(-50%);">#0001</div>
<div class="t" style="left:532.6px;top:837.07px;font-size:9.7px;line-height:11.64px;color:#4a5562;transform:translateX(-50%);">Beer</div>
<div class="t" style="left:623.7px;top:837.07px;font-size:9.7px;line-height:11.64px;color:#4a5562;transform:translateX(-50%);">Beer</div>
<div class="t" style="left:714.7px;top:837.07px;font-size:9.7px;line-height:11.64px;color:#4a5562;transform:translateX(-50%);">Beer</div>
<div class="t" style="left:805.8px;top:837.07px;font-size:9.7px;line-height:11.64px;color:#4a5562;transform:translateX(-50%);">Beer</div>
<div class="t" style="left:896.8px;top:837.07px;font-size:9.7px;line-height:11.64px;color:#4a5562;letter-spacing:0.11px;transform:translateX(-50%);">12</div>
<div class="t" style="left:987.4px;top:837.07px;font-size:9.7px;line-height:11.64px;color:#4a5562;letter-spacing:-0.26px;transform:translateX(-50%);">Can</div>
<div class="t" style="left:1078.4px;top:837.07px;font-size:9.7px;line-height:11.64px;color:#4a5562;letter-spacing:-0.89px;transform:translateX(-50%);">1</div>
<div class="t" style="left:1169.5px;top:837.07px;font-size:9.7px;line-height:11.64px;color:#4a5562;letter-spacing:-0.89px;transform:translateX(-50%);">1</div>
<div class="t" style="left:1260px;top:837.07px;font-size:9.7px;line-height:11.64px;color:#4a5562;transform:translateX(-50%);">ABC</div>
<div class="b" style="left:1243px;top:865px;width:42px;height:42px;background:#fff;border-radius:6px;border:1px solid #7c3aed;"></div>
<svg class="b" style="left:1253px;top:875.5px;width:22px;height:22px;color:#6d28d9;"><use href="#i-robot"/></svg>
</div></div>
<svg class="b" style="left:2318px;top:859.5px;width:431px;height:498px;" viewBox="0 0 431 498"><defs><pattern id="nz" width="64" height="64" patternUnits="userSpaceOnUse"><path d="M0 11h1v1h-1zM0 18h1v1h-1zM0 19h1v1h-1zM0 61h1v1h-1zM1 12h1v1h-1zM1 13h1v1h-1zM2 11h1v1h-1zM2 24h1v1h-1zM2 26h1v1h-1zM2 32h1v1h-1zM2 43h1v1h-1zM2 49h1v1h-1zM3 32h1v1h-1zM3 35h1v1h-1zM3 38h1v1h-1zM4 1h1v1h-1zM5 12h1v1h-1zM5 17h1v1h-1zM5 30h1v1h-1zM5 50h1v1h-1zM6 2h1v1h-1zM6 18h1v1h-1zM6 28h1v1h-1zM6 50h1v1h-1zM6 58h1v1h-1zM7 2h1v1h-1zM7 31h1v1h-1zM7 41h1v1h-1zM7 50h1v1h-1zM8 7h1v1h-1zM8 11h1v1h-1zM8 14h1v1h-1zM8 56h1v1h-1zM9 12h1v1h-1zM9 26h1v1h-1zM9 27h1v1h-1zM9 32h1v1h-1zM9 34h1v1h-1zM9 40h1v1h-1zM10 19h1v1h-1zM10 22h1v1h-1zM10 33h1v1h-1zM10 48h1v1h-1zM11 18h1v1h-1zM11 20h1v1h-1zM11 33h1v1h-1zM11 46h1v1h-1zM11 49h1v1h-1zM11 55h1v1h-1zM12 19h1v1h-1zM13 0h1v1h-1zM13 24h1v1h-1zM13 48h1v1h-1zM13 61h1v1h-1zM14 20h1v1h-1zM14 49h1v1h-1zM15 14h1v1h-1zM15 28h1v1h-1zM15 49h1v1h-1zM15 53h1v1h-1zM16 1h1v1h-1zM16 2h1v1h-1zM16 3h1v1h-1zM16 7h1v1h-1zM16 31h1v1h-1zM16 54h1v1h-1zM17 51h1v1h-1zM17 55h1v1h-1zM17 59h1v1h-1zM18 13h1v1h-1zM18 15h1v1h-1zM18 32h1v1h-1zM18 60h1v1h-1zM19 2h1v1h-1zM19 12h1v1h-1zM19 29h1v1h-1zM19 46h1v1h-1zM19 59h1v1h-1zM19 62h1v1h-1zM19 63h1v1h-1zM20 14h1v1h-1zM20 21h1v1h-1zM20 28h1v1h-1zM20 55h1v1h-1zM21 14h1v1h-1zM21 43h1v1h-1zM21 57h1v1h-1zM22 18h1v1h-1zM22 55h1v1h-1zM23 0h1v1h-1zM23 25h1v1h-1zM23 34h1v1h-1zM23 54h1v1h-1zM24 1h1v1h-1zM24 8h1v1h-1zM24 27h1v1h-1zM24 30h1v1h-1zM24 35h1v1h-1zM24 44h1v1h-1zM25 43h1v1h-1zM25 61h1v1h-1zM25 63h1v1h-1zM26 37h1v1h-1zM26 56h1v1h-1zM26 61h1v1h-1zM26 63h1v1h-1zM27 4h1v1h-1zM27 29h1v1h-1zM27 36h1v1h-1zM27 37h1v1h-1zM28 8h1v1h-1zM28 12h1v1h-1zM28 13h1v1h-1zM29 1h1v1h-1zM29 10h1v1h-1zM29 13h1v1h-1zM29 19h1v1h-1zM29 60h1v1h-1zM30 10h1v1h-1zM30 11h1v1h-1zM30 41h1v1h-1zM30 54h1v1h-1zM31 10h1v1h-1zM31 23h1v1h-1zM31 37h1v1h-1zM32 37h1v1h-1zM32 44h1v1h-1zM33 6h1v1h-1zM33 10h1v1h-1zM33 15h1v1h-1zM33 25h1v1h-1zM33 36h1v1h-1zM33 46h1v1h-1zM33 51h1v1h-1zM33 53h1v1h-1zM34 5h1v1h-1zM34 16h1v1h-1zM34 44h1v1h-1zM34 47h1v1h-1zM34 57h1v1h-1zM34 60h1v1h-1zM35 7h1v1h-1zM35 25h1v1h-1zM35 53h1v1h-1zM35 57h1v1h-1zM36 9h1v1h-1zM36 18h1v1h-1zM36 25h1v1h-1zM36 49h1v1h-1zM37 18h1v1h-1zM37 53h1v1h-1zM38 15h1v1h-1zM38 38h1v1h-1zM38 63h1v1h-1zM39 10h1v1h-1zM39 23h1v1h-1zM39 27h1v1h-1zM39 38h1v1h-1zM39 39h1v1h-1zM39 57h1v1h-1zM40 9h1v1h-1zM40 16h1v1h-1zM40 28h1v1h-1zM41 11h1v1h-1zM41 19h1v1h-1zM41 25h1v1h-1zM41 31h1v1h-1zM41 63h1v1h-1zM42 11h1v1h-1zM42 28h1v1h-1zM42 31h1v1h-1zM42 37h1v1h-1zM42 63h1v1h-1zM43 6h1v1h-1zM43 25h1v1h-1zM43 33h1v1h-1zM43 44h1v1h-1zM43 53h1v1h-1zM43 57h1v1h-1zM44 2h1v1h-1zM44 6h1v1h-1zM44 10h1v1h-1zM44 19h1v1h-1zM45 3h1v1h-1zM45 28h1v1h-1zM45 40h1v1h-1zM45 48h1v1h-1zM45 58h1v1h-1zM46 3h1v1h-1zM46 7h1v1h-1zM46 10h1v1h-1zM46 18h1v1h-1zM46 21h1v1h-1zM46 38h1v1h-1zM46 60h1v1h-1zM47 12h1v1h-1zM48 10h1v1h-1zM48 19h1v1h-1zM49 11h1v1h-1zM50 6h1v1h-1zM50 39h1v1h-1zM50 50h1v1h-1zM50 56h1v1h-1zM50 59h1v1h-1zM50 62h1v1h-1zM51 7h1v1h-1zM51 10h1v1h-1zM51 29h1v1h-1zM51 35h1v1h-1zM51 43h1v1h-1zM51 50h1v1h-1zM53 5h1v1h-1zM53 8h1v1h-1zM53 15h1v1h-1zM53 16h1v1h-1zM53 25h1v1h-1zM53 47h1v1h-1zM54 7h1v1h-1zM54 17h1v1h-1zM54 40h1v1h-1zM55 17h1v1h-1zM55 20h1v1h-1zM55 63h1v1h-1zM56 20h1v1h-1zM56 23h1v1h-1zM57 3h1v1h-1zM57 13h1v1h-1zM57 17h1v1h-1zM57 22h1v1h-1zM57 44h1v1h-1zM58 1h1v1h-1zM58 8h1v1h-1zM58 23h1v1h-1zM58 56h1v1h-1zM59 8h1v1h-1zM59 23h1v1h-1zM59 45h1v1h-1zM59 58h1v1h-1zM60 15h1v1h-1zM60 31h1v1h-1zM60 33h1v1h-1zM61 13h1v1h-1zM61 20h1v1h-1zM61 31h1v1h-1zM61 61h1v1h-1zM62 23h1v1h-1zM62 33h1v1h-1zM62 59h1v1h-1zM63 7h1v1h-1zM63 10h1v1h-1zM63 33h1v1h-1zM63 58h1v1h-1z" fill="#000" shape-rendering="crispEdges"/></pattern><clipPath id="nzc"><rect x="0" y="0" width="431" height="498" rx="5"/></clipPath></defs><g clip-path="url(#nzc)"><rect width="431" height="498" fill="#fff"/><rect width="431" height="498" fill="url(#nz)"/><rect x="-2" y="-14.5" width="418" height="500" rx="106" fill="#858585"/><rect x="1" y="-11.5" width="412" height="494" rx="103" fill="none" stroke="#6c6c6c" stroke-opacity="0.55" stroke-width="2" stroke-dasharray="3 1.5"/><rect x="5" y="-7.5" width="404" height="486" rx="99" fill="none" stroke="#6c6c6c" stroke-opacity="0.25" stroke-width="2" stroke-dasharray="3 1.5"/><rect x="9" y="-3.5" width="396" height="478" rx="95" fill="none" stroke="#6c6c6c" stroke-opacity="0.5" stroke-width="2" stroke-dasharray="3 1.5"/><rect x="14" y="1.5" width="386" height="468" rx="90" fill="none" stroke="#6c6c6c" stroke-opacity="0.2" stroke-width="2" stroke-dasharray="3 1.5"/><rect x="19" y="6.5" width="376" height="458" rx="85" fill="none" stroke="#6c6c6c" stroke-opacity="0.4" stroke-width="2" stroke-dasharray="3 1.5"/><rect x="25" y="12.5" width="364" height="446" rx="79" fill="none" stroke="#6c6c6c" stroke-opacity="0.2" stroke-width="2" stroke-dasharray="3 1.5"/><rect x="31" y="18.5" width="352" height="434" rx="73" fill="none" stroke="#6c6c6c" stroke-opacity="0.3" stroke-width="2" stroke-dasharray="3 1.5"/></g></svg>
<div class="fr" style="left:1384px;top:241px;width:1328px;height:1072.6px">
<div class="sc" style="left:10px;top:10px;right:9.5px;bottom:9px;border-radius:0px">
<div class="b" style="left:-1px;top:-1px;width:1309px;height:61px;background:#071e32;"></div>
<div class="t" style="left:36px;top:19.47px;font-size:17.3px;line-height:20.76px;color:#e6ecf3;">Business Name</div>
<div class="b" style="left:1181px;top:15px;width:103px;height:29px;background:#f0f4f9;border-radius:5px;"></div>
<div class="t" style="left:1201px;top:16.61px;font-size:9.3px;line-height:11.16px;color:#0b2239;transform:translateX(-50%);">Tue</div>
<div class="t" style="left:1201px;top:30.11px;font-size:9.3px;line-height:11.16px;color:#0b2239;transform:translateX(-50%);">15</div>
<div class="t" style="left:1217px;top:17.32px;font-size:21px;line-height:25.2px;color:#0b2239;letter-spacing:0.29px;">13:23</div>
<div class="b" style="left:234.5px;top:60px;width:1074px;height:994px;background:#f0f4f9;"></div>
<div class="b" style="left:-1px;top:60px;width:235px;height:994px;background:#fff;"></div>
<div class="b" style="left:11.3px;top:78.3px;width:60.4px;height:60.4px;background:#0c1116;border-radius:50%;"></div>
<div class="t" style="left:90.3px;top:90.56px;font-size:14.2px;line-height:17.04px;color:#1d2c3c;letter-spacing:-0.16px;">Jhon Doe</div>
<div class="t" style="left:90.3px;top:110.16px;font-size:14.2px;line-height:17.04px;color:#1d2c3c;letter-spacing:0.35px;">Admin</div>
<div class="b" style="left:5.5px;top:157.6px;width:222.5px;height:37.3px;background:#f0f4f9;border-radius:4px;border:1px solid #d2d8e0;"></div>
<svg class="b" style="left:9.75px;top:166.05px;width:21.5px;height:21.5px;color:#e9ecf0;"><use href="#i-search"/></svg>
<div class="t" style="left:37px;top:168.87px;font-size:12.3px;line-height:14.76px;color:#1d2c3c;letter-spacing:-0.41px;">Search</div>
<svg class="b" style="left:10px;top:212px;width:21px;height:21px;color:#e9ecf0;"><use href="#i-dash"/></svg>
<div class="t" style="left:37px;top:215.37px;font-size:12.3px;line-height:14.76px;color:#1d2c3c;letter-spacing:-0.1px;">Dashboard</div>
<svg class="b" style="left:10px;top:255.2px;width:21px;height:21px;color:#e9ecf0;"><use href="#i-sitemap"/></svg>
<div class="t" style="left:37px;top:258.57px;font-size:12.3px;line-height:14.76px;color:#1d2c3c;letter-spacing:0.05px;">Inventory</div>
<svg class="b" style="left:209.25px;top:259.45px;width:12.5px;height:12.5px;color:#e9ecf0;"><use href="#i-chev"/></svg>
<svg class="b" style="left:9.5px;top:297.7px;width:22px;height:22px;color:#e9ecf0;"><use href="#i-cart"/></svg>
<div class="t" style="left:37px;top:301.57px;font-size:12.3px;line-height:14.76px;color:#1d2c3c;letter-spacing:-0.1px;">Orders</div>
<svg class="b" style="left:209.25px;top:302.45px;width:12.5px;height:12.5px;color:#e9ecf0;"><use href="#i-chev"/></svg>
<svg class="b" style="left:10px;top:341.4px;width:21px;height:21px;color:#e9ecf0;"><use href="#i-usertag"/></svg>
<div class="t" style="left:37px;top:344.77px;font-size:12.3px;line-height:14.76px;color:#1d2c3c;letter-spacing:-0.13px;">Customers</div>
<svg class="b" style="left:209.25px;top:345.65px;width:12.5px;height:12.5px;color:#e9ecf0;"><use href="#i-chev"/></svg>
<svg class="b" style="left:10px;top:383.7px;width:21px;height:21px;color:#e9ecf0;"><use href="#i-pct"/></svg>
<div class="t" style="left:37px;top:387.07px;font-size:12.3px;line-height:14.76px;color:#1d2c3c;letter-spacing:-0.02px;">Promotions</div>
<svg class="b" style="left:209.25px;top:387.95px;width:12.5px;height:12.5px;color:#e9ecf0;"><use href="#i-chev"/></svg>
<svg class="b" style="left:10px;top:427.7px;width:21px;height:21px;color:#e9ecf0;"><use href="#i-pie"/></svg>
<div class="t" style="left:37px;top:431.07px;font-size:12.3px;line-height:14.76px;color:#0c1a2a;font-weight:700;letter-spacing:-0.32px;">Reports</div>
<svg class="b" style="left:209.25px;top:431.95px;width:12.5px;height:12.5px;color:#e9ecf0;"><use href="#i-chev"/></svg>
<svg class="b" style="left:10.75px;top:474.35px;width:19.5px;height:19.5px;color:#e9ecf0;"><use href="#i-spark"/></svg>
<div class="t" style="left:37px;top:476.97px;font-size:12.3px;line-height:14.76px;color:#1d2c3c;letter-spacing:-0.02px;">AI Insights</div>
<svg class="b" style="left:209.25px;top:477.85px;width:12.5px;height:12.5px;color:#e9ecf0;"><use href="#i-chev"/></svg>
<svg class="b" style="left:10px;top:519.5px;width:21px;height:21px;color:#e9ecf0;"><use href="#i-users"/></svg>
<div class="t" style="left:37px;top:522.87px;font-size:12.3px;line-height:14.76px;color:#1d2c3c;letter-spacing:-0.28px;">Users</div>
<svg class="b" style="left:209.25px;top:523.75px;width:12.5px;height:12.5px;color:#e9ecf0;"><use href="#i-chev"/></svg>
<svg class="b" style="left:10px;top:561.2px;width:21px;height:21px;color:#e9ecf0;"><use href="#i-tools"/></svg>
<div class="t" style="left:37px;top:564.57px;font-size:12.3px;line-height:14.76px;color:#1d2c3c;">Settings &amp; Integrations</div>
<svg class="b" style="left:209.25px;top:565.45px;width:12.5px;height:12.5px;color:#e9ecf0;"><use href="#i-chev"/></svg>
<svg class="b" style="left:10px;top:605.9px;width:21px;height:21px;color:#e9ecf0;"><use href="#i-unlock"/></svg>
<div class="t" style="left:37px;top:609.27px;font-size:12.3px;line-height:14.76px;color:#1d2c3c;letter-spacing:-0.15px;">Security Compliances</div>
<svg class="b" style="left:209.25px;top:610.15px;width:12.5px;height:12.5px;color:#e9ecf0;"><use href="#i-chev"/></svg>
<div class="b" style="left:11px;top:638.7px;width:212px;height:33px;background:#f0f4f9;border-radius:4px;"></div>
<svg class="b" style="left:54.35px;top:650.95px;width:8.5px;height:8.5px;color:#0c1a2a;"><use href="#i-edit"/></svg>
<div class="t" style="left:125.5px;top:649.69px;font-size:9.5px;line-height:11.4px;color:#0c1a2a;font-weight:700;letter-spacing:0.2px;transform:translateX(-50%);">Manage Pages/Widgets</div>
<div class="b" style="left:-1px;top:1011px;width:235.5px;height:43px;background:#f0f4f9;"></div>
<svg class="b" style="left:109.5px;top:1025px;width:15px;height:15px;color:#e9ecf0;"><use href="#i-ll"/></svg>
<div class="t" style="left:266.84px;top:81.54px;font-size:19.5px;line-height:23.4px;color:#0b2239;font-weight:700;letter-spacing:0.57px;">Dashboard</div>
<div class="b" style="left:1101.06px;top:78.83px;width:81.48px;height:31.3px;background:#071e32;border-radius:5px;"></div>
<svg class="b" style="left:1108.51px;top:88.97px;width:11px;height:11px;color:#fff;"><use href="#i-plus"/></svg>
<div class="t" style="left:1128.58px;top:87.34px;font-size:12.3px;line-height:14.76px;color:#fff;letter-spacing:0.22px;">Widgets</div>
<div class="b" style="left:1190.09px;top:78.83px;width:86.34px;height:31.3px;background:#071e32;border-radius:5px;"></div>
<svg class="b" style="left:1198.36px;top:85.47px;width:18px;height:18px;color:#fff;"><use href="#i-hands"/></svg>
<div class="t" style="left:1224.09px;top:87.34px;font-size:12.3px;line-height:14.76px;color:#fff;letter-spacing:0.13px;">Support</div>
<div class="b" style="left:258.21px;top:116.1px;width:1025.77px;height:1px;background:#d3d8de;"></div>
<div class="t" style="left:264.68px;top:131.49px;font-size:13.4px;line-height:16.08px;color:#0c1a2a;font-weight:700;letter-spacing:0.12px;">Revenue analysis</div>
<div class="b" style="left:270.62px;top:166.78px;width:226.63px;height:121.41px;background:#fff;border-radius:9px;box-shadow:0 2px 8px rgba(20,40,80,0.07);"></div>
<div class="t" style="left:283.02px;top:180.56px;font-size:11.6px;line-height:13.92px;color:#3a9ce0;font-weight:700;letter-spacing:-0.05px;">Gross Profit</div>
<div class="t" style="left:283.02px;top:206.77px;font-size:21.3px;line-height:25.56px;color:#0c1a2a;letter-spacing:0.52px;">$ 2314980.09</div>
<div class="b" style="left:283.02px;top:250.51px;width:43px;height:16px;background:#fff;border-radius:8px;box-shadow:0 1px 5px rgba(20,40,80,0.12);"></div>
<svg class="b" style="left:287.22px;top:253.71px;width:9px;height:9px;color:#3cc13b;"><use href="#i-tri"/></svg>
<div class="t" style="left:301.42px;top:253px;font-size:9.5px;line-height:11.4px;color:#2b3a4a;letter-spacing:0.33px;">12%</div>
<div class="t" style="left:331.02px;top:253px;font-size:9.5px;line-height:11.4px;color:#3a4a5a;letter-spacing:0.65px;">$12345</div>
<div class="b" style="left:509.12px;top:166.78px;width:226.63px;height:121.41px;background:#fff;border-radius:9px;box-shadow:0 2px 8px rgba(20,40,80,0.07);"></div>
<div class="t" style="left:521.52px;top:180.56px;font-size:11.6px;line-height:13.92px;color:#3a9ce0;font-weight:700;">Purchase Order Balance</div>
<div class="t" style="left:521.52px;top:206.77px;font-size:21.3px;line-height:25.56px;color:#0c1a2a;letter-spacing:0.52px;">$ 2314980.09</div>
<div class="b" style="left:521.52px;top:250.51px;width:43px;height:16px;background:#fff;border-radius:8px;box-shadow:0 1px 5px rgba(20,40,80,0.12);"></div>
<svg class="b" style="left:525.97px;top:254.76px;width:8.5px;height:8.5px;color:#ef3b3b;transform:rotate(180deg);"><use href="#i-tri"/></svg>
<div class="t" style="left:539.92px;top:253px;font-size:9.5px;line-height:11.4px;color:#2b3a4a;letter-spacing:0.56px;">11%</div>
<div class="t" style="left:569.52px;top:253px;font-size:9.5px;line-height:11.4px;color:#3a4a5a;letter-spacing:0.65px;">$12345</div>
<div class="b" style="left:748.16px;top:166.78px;width:226.09px;height:121.41px;background:#fff;border-radius:9px;box-shadow:0 2px 8px rgba(20,40,80,0.07);"></div>
<div class="t" style="left:760.56px;top:180.56px;font-size:11.6px;line-height:13.92px;color:#3a9ce0;font-weight:700;letter-spacing:0.04px;">Projected Sales</div>
<div class="t" style="left:760.56px;top:206.77px;font-size:21.3px;line-height:25.56px;color:#0c1a2a;letter-spacing:0.52px;">$ 2314980.09</div>
<div class="b" style="left:760.56px;top:250.51px;width:43px;height:16px;background:#fff;border-radius:8px;box-shadow:0 1px 5px rgba(20,40,80,0.12);"></div>
<svg class="b" style="left:765.01px;top:254.76px;width:8.5px;height:8.5px;color:#ef3b3b;transform:rotate(180deg);"><use href="#i-tri"/></svg>
<div class="t" style="left:778.96px;top:253px;font-size:9.5px;line-height:11.4px;color:#2b3a4a;letter-spacing:0.56px;">11%</div>
<div class="t" style="left:808.56px;top:253px;font-size:9.5px;line-height:11.4px;color:#3a4a5a;letter-spacing:0.65px;">$12345</div>
<div class="t" style="left:264.68px;top:301.46px;font-size:13.4px;line-height:16.08px;color:#0c1a2a;font-weight:700;letter-spacing:0.18px;">Your Sales Analysis</div>
<div class="b" style="left:264.68px;top:331.9px;width:716.04px;height:219.08px;background:#fff;border-radius:6px;"></div>
<div class="t" style="left:283.03px;top:353.31px;font-size:9.6px;line-height:11.52px;color:#1d2c3c;font-weight:700;letter-spacing:0.03px;">Top Weekly Product Sales</div>
<svg class="b" style="left:947.17px;top:353.92px;width:11px;height:11px;color:#d9dde3;"><use href="#i-dots"/></svg>
<svg class="b" style="left:-1394px;top:-251px;width:10px;height:10px;" viewBox="0 0 10 10"><path d="M1720.2 632.0V769.6" stroke="#d5d9df" stroke-width="0.9" stroke-dasharray="4 3"/><path d="M1756.6 632.0V769.6" stroke="#d5d9df" stroke-width="0.9" stroke-dasharray="4 3"/><path d="M1793.0 632.0V769.6" stroke="#d5d9df" stroke-width="0.9" stroke-dasharray="4 3"/><path d="M1829.3 632.0V769.6" stroke="#d5d9df" stroke-width="0.9" stroke-dasharray="4 3"/><path d="M1865.7 632.0V769.6" stroke="#d5d9df" stroke-width="0.9" stroke-dasharray="4 3"/><path d="M1902.1 632.0V769.6" stroke="#d5d9df" stroke-width="0.9" stroke-dasharray="4 3"/><path d="M1938.5 632.0V769.6" stroke="#d5d9df" stroke-width="0.9" stroke-dasharray="4 3"/><path d="M1974.9 632.0V769.6" stroke="#d5d9df" stroke-width="0.9" stroke-dasharray="4 3"/><path d="M2011.2 632.0V769.6" stroke="#d5d9df" stroke-width="0.9" stroke-dasharray="4 3"/><path d="M2047.6 632.0V769.6" stroke="#d5d9df" stroke-width="0.9" stroke-dasharray="4 3"/><path d="M2084.0 632.0V769.6" stroke="#d5d9df" stroke-width="0.9" stroke-dasharray="4 3"/><path d="M2120.4 632.0V769.6" stroke="#d5d9df" stroke-width="0.9" stroke-dasharray="4 3"/><path d="M2156.8 632.0V769.6" stroke="#d5d9df" stroke-width="0.9" stroke-dasharray="4 3"/></svg>
<div class="b" style="left:326.2px;top:397.73px;width:363.69px;height:17.3px;background:#2779b4;border-radius:2px;"></div>
<div class="t" style="left:283.03px;top:402.63px;font-size:8.3px;line-height:9.96px;color:#2b3a4a;">Beer</div>
<div class="b" style="left:326.2px;top:422.01px;width:256.85px;height:17.3px;background:#2779b4;border-radius:2px;"></div>
<div class="t" style="left:283.03px;top:426.37px;font-size:8.3px;line-height:9.96px;color:#2b3a4a;">Whiskey</div>
<div class="b" style="left:326.2px;top:446.29px;width:218.54px;height:17.3px;background:#2779b4;border-radius:2px;"></div>
<div class="t" style="left:283.03px;top:449.57px;font-size:8.3px;line-height:9.96px;color:#2b3a4a;">Vodka</div>
<div class="b" style="left:326.2px;top:470.57px;width:182.38px;height:17.3px;background:#2779b4;border-radius:2px;"></div>
<div class="t" style="left:283.03px;top:473.31px;font-size:8.3px;line-height:9.96px;color:#2b3a4a;">Wine</div>
<div class="b" style="left:326.2px;top:494.85px;width:109px;height:17.3px;background:#2779b4;border-radius:2px;"></div>
<div class="t" style="left:283.03px;top:496.52px;font-size:8.3px;line-height:9.96px;color:#2b3a4a;">Spirits</div>
<div class="t" style="left:326.2px;top:522.96px;font-size:8.3px;line-height:9.96px;color:#2b3a4a;transform:translateX(-50%);">0</div>
<div class="t" style="left:362.89px;top:522.96px;font-size:8.3px;line-height:9.96px;color:#2b3a4a;transform:translateX(-50%);">50</div>
<div class="t" style="left:399.04px;top:522.96px;font-size:8.3px;line-height:9.96px;color:#2b3a4a;transform:translateX(-50%);">100</div>
<div class="t" style="left:434.66px;top:522.96px;font-size:8.3px;line-height:9.96px;color:#2b3a4a;transform:translateX(-50%);">200</div>
<div class="t" style="left:471.35px;top:522.96px;font-size:8.3px;line-height:9.96px;color:#2b3a4a;transform:translateX(-50%);">300</div>
<div class="t" style="left:507.5px;top:522.96px;font-size:8.3px;line-height:9.96px;color:#2b3a4a;transform:translateX(-50%);">400</div>
<div class="t" style="left:543.66px;top:522.96px;font-size:8.3px;line-height:9.96px;color:#2b3a4a;transform:translateX(-50%);">500</div>
<div class="t" style="left:580.35px;top:522.96px;font-size:8.3px;line-height:9.96px;color:#2b3a4a;transform:translateX(-50%);">600</div>
<div class="t" style="left:617.04px;top:522.96px;font-size:8.3px;line-height:9.96px;color:#2b3a4a;transform:translateX(-50%);">700</div>
<div class="t" style="left:652.65px;top:522.96px;font-size:8.3px;line-height:9.96px;color:#2b3a4a;transform:translateX(-50%);">800</div>
<div class="t" style="left:688.81px;top:522.96px;font-size:8.3px;line-height:9.96px;color:#2b3a4a;transform:translateX(-50%);">900</div>
<div class="t" style="left:727.12px;top:522.96px;font-size:8.3px;line-height:9.96px;color:#2b3a4a;transform:translateX(-50%);">1k</div>
<div class="t" style="left:765.43px;top:522.96px;font-size:8.3px;line-height:9.96px;color:#2b3a4a;transform:translateX(-50%);">2k+</div>
<div class="b" style="left:792.41px;top:381px;width:169.43px;height:152.17px;background:#fff;border-radius:4px;border:1px solid #d3d8de;"></div>
<div class="b" style="left:798.52px;top:401.68px;width:7.2px;height:7.2px;background:#3cc13b;border-radius:50%;"></div>
<div class="t" style="left:813.99px;top:399.77px;font-size:9.5px;line-height:11.4px;color:#5b6b7c;">Beer</div>
<div class="t" style="left:955.37px;top:399.77px;font-size:9.5px;line-height:11.4px;color:#0c1a2a;font-weight:700;letter-spacing:0.49px;transform:translateX(-100%);">$7,000</div>
<div class="b" style="left:798.52px;top:427.58px;width:7.2px;height:7.2px;background:#3cc13b;border-radius:50%;"></div>
<div class="t" style="left:813.99px;top:425.67px;font-size:9.5px;line-height:11.4px;color:#5b6b7c;">Whiskey</div>
<div class="t" style="left:955.37px;top:425.67px;font-size:9.5px;line-height:11.4px;color:#0c1a2a;font-weight:700;letter-spacing:0.49px;transform:translateX(-100%);">$7,250</div>
<div class="b" style="left:798.52px;top:453.48px;width:7.2px;height:7.2px;background:#3cc13b;border-radius:50%;"></div>
<div class="t" style="left:813.99px;top:451.57px;font-size:9.5px;line-height:11.4px;color:#5b6b7c;">Vodka</div>
<div class="t" style="left:955.37px;top:451.57px;font-size:9.5px;line-height:11.4px;color:#0c1a2a;font-weight:700;letter-spacing:0.49px;transform:translateX(-100%);">$7,250</div>
<div class="b" style="left:798.52px;top:478.84px;width:7.2px;height:7.2px;background:#3cc13b;border-radius:50%;"></div>
<div class="t" style="left:813.99px;top:476.93px;font-size:9.5px;line-height:11.4px;color:#5b6b7c;">Wine</div>
<div class="t" style="left:955.37px;top:476.93px;font-size:9.5px;line-height:11.4px;color:#0c1a2a;font-weight:700;letter-spacing:0.49px;transform:translateX(-100%);">$7,250</div>
<div class="b" style="left:798.52px;top:504.74px;width:7.2px;height:7.2px;background:#3cc13b;border-radius:50%;"></div>
<div class="t" style="left:813.99px;top:502.83px;font-size:9.5px;line-height:11.4px;color:#5b6b7c;">Spirits</div>
<div class="t" style="left:955.37px;top:502.83px;font-size:9.5px;line-height:11.4px;color:#0c1a2a;font-weight:700;letter-spacing:0.49px;transform:translateX(-100%);">$7,250</div>
<div class="b" style="left:1002.85px;top:129.55px;width:264.94px;height:128.42px;background:#fff;border-radius:11px;"></div>
<div class="t" style="left:1030.37px;top:148.89px;font-size:11.3px;line-height:13.56px;color:#0c1a2a;font-weight:700;letter-spacing:0.28px;">Select Warehouse/store</div>
<div class="b" style="left:1030.37px;top:176.49px;width:209.9px;height:26.44px;background:#fff;border-radius:4px;border:1px solid #d5dae0;"></div>
<svg class="b" style="left:1042.18px;top:183.98px;width:12px;height:12px;color:#e9ecf0;"><use href="#i-search"/></svg>
<div class="t" style="left:1063.29px;top:182.48px;font-size:12px;line-height:14.4px;color:#2b3a4a;letter-spacing:-0.04px;">Search Store</div>
<div class="b" style="left:1059.51px;top:215.34px;width:151.09px;height:27.52px;background:#d6eaf8;border-radius:4px;"></div>
<div class="t" style="left:1135.05px;top:223.32px;font-size:9.5px;line-height:11.4px;color:#0b3a5e;font-weight:700;letter-spacing:0.03px;transform:translateX(-50%);">Show analytics</div>
<div class="b" style="left:1002.85px;top:270.92px;width:264.94px;height:241.2px;background:#fff;border-radius:11px;"></div>
<div class="t" style="left:1021.2px;top:289.61px;font-size:11.5px;line-height:13.8px;color:#0c1a2a;font-weight:700;letter-spacing:-0.05px;">Business Snapshot</div>
<svg class="b" style="left:1231.23px;top:288.86px;width:17px;height:17px;color:#eceff3;"><use href="#i-dots"/></svg>
<svg class="b" style="left:-1394px;top:-251px;width:10px;height:10px;" viewBox="0 0 10 10"><path d="M2417.9 690.3A111.2 111.2 0 0 1 2529.1 579.1V630.9A59.4 59.4 0 0 0 2469.7 690.3Z" fill="#2779b4"/><path d="M2640.3 690.3A111.2 111.2 0 0 0 2529.1 579.1V630.9A59.4 59.4 0 0 1 2588.5 690.3Z" fill="#f0f3f9"/></svg>
<div class="t" style="left:1135.05px;top:392.01px;font-size:14.5px;line-height:17.4px;color:#1d2c3c;letter-spacing:0.5px;transform:translateX(-50%);">$345k</div>
<div class="b" style="left:1107.55px;top:416.83px;width:55px;height:19px;background:#fff;border-radius:10px;box-shadow:0 1px 6px rgba(20,40,80,0.10);"></div>
<svg class="b" style="left:1116.68px;top:419.29px;width:13px;height:13px;color:#3cc13b;"><use href="#i-tri"/></svg>
<div class="t" style="left:1135.59px;top:420.64px;font-size:9.8px;line-height:11.76px;color:#2b3a4a;letter-spacing:0.46px;">12%</div>
<div class="t" style="left:1021.2px;top:464.98px;font-size:11.5px;line-height:13.8px;color:#98a3af;font-weight:700;letter-spacing:0.28px;">Target</div>
<div class="t" style="left:1081.09px;top:464.98px;font-size:11.5px;line-height:13.8px;color:#98a3af;font-weight:700;letter-spacing:0.12px;">Most sales</div>
<div class="t" style="left:1164.73px;top:464.98px;font-size:11.5px;line-height:13.8px;color:#98a3af;font-weight:700;letter-spacing:0.08px;">Top Customers</div>
<div class="t" style="left:1021.2px;top:484.29px;font-size:11.7px;line-height:14.04px;color:#0c1a2a;font-weight:700;letter-spacing:0.5px;">$569K</div>
<div class="t" style="left:1108.61px;top:484.29px;font-size:11.7px;line-height:14.04px;color:#0c1a2a;font-weight:700;letter-spacing:0.05px;transform:translateX(-50%);">Saturday</div>
<div class="t" style="left:1205.74px;top:484.29px;font-size:11.7px;line-height:14.04px;color:#0c1a2a;font-weight:700;letter-spacing:0.06px;transform:translateX(-50%);">Regular</div>
<div class="b" style="left:1002.85px;top:525.07px;width:264.94px;height:165.81px;background:#fff;border-radius:11px;"></div>
<div class="t" style="left:1015.26px;top:535.13px;font-size:11.5px;line-height:13.8px;color:#0c1a2a;font-weight:700;letter-spacing:0.03px;">Revenue by day</div>
<svg class="b" style="left:1243.45px;top:536.34px;width:12px;height:12px;color:#d9dde3;"><use href="#i-dots"/></svg>
<svg class="b" style="left:-1394px;top:-251px;width:10px;height:10px;" viewBox="0 0 10 10"><path d="M2435.7 841.0H2630.0" stroke="#d5d9df" stroke-width="0.9" stroke-dasharray="5 4"/><path d="M2435.7 865.8H2630.0" stroke="#d5d9df" stroke-width="0.9" stroke-dasharray="5 4"/><path d="M2435.7 894.4H2630.0" stroke="#d5d9df" stroke-width="0.9" stroke-dasharray="5 4"/><path d="M2435.7 916.0H2630.0" stroke="#d5d9df" stroke-width="0.9" stroke-dasharray="5 4"/></svg>
<div class="t" style="left:1023.36px;top:584.17px;font-size:10px;line-height:12px;color:#0c1a2a;font-weight:700;">$5k</div>
<div class="t" style="left:1023.36px;top:609px;font-size:10px;line-height:12px;color:#0c1a2a;font-weight:700;">$3k</div>
<div class="t" style="left:1023.36px;top:637.59px;font-size:10px;line-height:12px;color:#0c1a2a;font-weight:700;">$1k</div>
<div class="b" style="left:1047.05px;top:619.65px;width:9.8px;height:45.33px;background:#12476e;border-radius:5px 5px 0 0;"></div>
<div class="b" style="left:1047.05px;top:619.65px;width:9.8px;height:33.45px;background:#2779b4;border-radius:5px 5px 0 0;"></div>
<div class="b" style="left:1047.05px;top:619.65px;width:9.8px;height:23.74px;background:#3a9ce0;border-radius:5px 5px 0 0;"></div>
<div class="b" style="left:1073.5px;top:602.92px;width:9.8px;height:62.05px;background:#12476e;border-radius:5px 5px 0 0;"></div>
<div class="b" style="left:1073.5px;top:602.92px;width:9.8px;height:45.87px;background:#2779b4;border-radius:5px 5px 0 0;"></div>
<div class="b" style="left:1073.5px;top:602.92px;width:9.8px;height:18.89px;background:#3a9ce0;border-radius:5px 5px 0 0;"></div>
<div class="b" style="left:1103.17px;top:635.3px;width:9.8px;height:29.68px;background:#12476e;border-radius:5px 5px 0 0;"></div>
<div class="b" style="left:1103.17px;top:635.3px;width:9.8px;height:24.28px;background:#2779b4;border-radius:5px 5px 0 0;"></div>
<div class="b" style="left:1103.17px;top:635.3px;width:9.8px;height:18.89px;background:#3a9ce0;border-radius:5px 5px 0 0;"></div>
<div class="b" style="left:1129.07px;top:574.87px;width:9.8px;height:90.11px;background:#12476e;border-radius:5px 5px 0 0;"></div>
<div class="b" style="left:1129.07px;top:574.87px;width:9.8px;height:77.16px;background:#2779b4;border-radius:5px 5px 0 0;"></div>
<div class="b" style="left:1129.07px;top:574.87px;width:9.8px;height:46.94px;background:#3a9ce0;border-radius:5px 5px 0 0;"></div>
<div class="b" style="left:1157.13px;top:583.5px;width:9.8px;height:81.48px;background:#12476e;border-radius:5px 5px 0 0;"></div>
<div class="b" style="left:1157.13px;top:583.5px;width:9.8px;height:59.9px;background:#2779b4;border-radius:5px 5px 0 0;"></div>
<div class="b" style="left:1157.13px;top:583.5px;width:9.8px;height:43.71px;background:#3a9ce0;border-radius:5px 5px 0 0;"></div>
<div class="b" style="left:1185.19px;top:583.5px;width:9.8px;height:81.48px;background:#12476e;border-radius:5px 5px 0 0;"></div>
<div class="b" style="left:1185.19px;top:583.5px;width:9.8px;height:65.29px;background:#2779b4;border-radius:5px 5px 0 0;"></div>
<div class="b" style="left:1185.19px;top:583.5px;width:9.8px;height:43.71px;background:#3a9ce0;border-radius:5px 5px 0 0;"></div>
<div class="b" style="left:1212.17px;top:583.5px;width:9.8px;height:81.48px;background:#12476e;border-radius:5px 5px 0 0;"></div>
<div class="b" style="left:1212.17px;top:583.5px;width:9.8px;height:59.9px;background:#2779b4;border-radius:5px 5px 0 0;"></div>
<div class="b" style="left:1212.17px;top:583.5px;width:9.8px;height:43.71px;background:#3a9ce0;border-radius:5px 5px 0 0;"></div>
<div class="b" style="left:1002.85px;top:639.62px;width:264.94px;height:51.26px;background:linear-gradient(180deg,rgba(240,242,246,0) 0%,rgba(226,230,236,0.75) 100%);"></div>
<div class="b" style="left:264.68px;top:563.53px;width:516.39px;height:167.27px;background:#fff;border-radius:11px;box-shadow:0 2px 8px rgba(20,40,80,0.07);"></div>
<div class="t" style="left:283.03px;top:570.89px;font-size:11.5px;line-height:13.8px;color:#0c1a2a;font-weight:700;letter-spacing:0.04px;">Product sales</div>
<svg class="b" style="left:751.05px;top:569.66px;width:11.5px;height:11.5px;color:#0c1116;"><use href="#i-dots"/></svg>
<div class="t" style="left:283.03px;top:598.65px;font-size:8.3px;line-height:9.96px;color:#2b3a4a;">1000+</div>
<div class="t" style="left:283.03px;top:625.63px;font-size:8.3px;line-height:9.96px;color:#2b3a4a;">500</div>
<div class="t" style="left:283.03px;top:652.07px;font-size:8.3px;line-height:9.96px;color:#2b3a4a;">200</div>
<svg class="b" style="left:-1394px;top:-251px;width:10px;height:10px;" viewBox="0 0 10 10"><path d="M1709.9 869.0H1977.0" stroke="#b4bac2" stroke-width="0.8" stroke-dasharray="1.2 1.4"/><path d="M1709.9 896.0H1977.0" stroke="#b4bac2" stroke-width="0.8" stroke-dasharray="1.2 1.4"/><path d="M1709.9 923.0H1977.0" stroke="#b4bac2" stroke-width="0.8" stroke-dasharray="1.2 1.4"/></svg>
<div class="b" style="left:315.95px;top:679.01px;width:25.4px;height:18.89px;background:#2779b4;border-radius:3px;"></div>
<div class="t" style="left:326.45px;top:709.69px;font-size:8.5px;line-height:10.2px;color:#2b3a4a;transform:translateX(-50%);">a</div>
<div class="b" style="left:348.91px;top:656.34px;width:25.4px;height:41.55px;background:#2779b4;border-radius:3px;"></div>
<div class="t" style="left:359.41px;top:709.69px;font-size:8.5px;line-height:10.2px;color:#2b3a4a;transform:translateX(-50%);">b</div>
<div class="b" style="left:381.88px;top:656.34px;width:25.4px;height:41.55px;background:#2779b4;border-radius:3px;"></div>
<div class="t" style="left:392.38px;top:709.69px;font-size:8.5px;line-height:10.2px;color:#2b3a4a;transform:translateX(-50%);">b</div>
<div class="b" style="left:414.85px;top:598.07px;width:25.4px;height:99.83px;background:#2779b4;border-radius:3px;"></div>
<div class="t" style="left:425.35px;top:709.69px;font-size:8.5px;line-height:10.2px;color:#2b3a4a;transform:translateX(-50%);">b</div>
<div class="b" style="left:447.82px;top:625.05px;width:25.4px;height:72.85px;background:#2779b4;border-radius:3px;"></div>
<div class="t" style="left:458.32px;top:709.69px;font-size:8.5px;line-height:10.2px;color:#2b3a4a;transform:translateX(-50%);">b</div>
<div class="b" style="left:480.79px;top:625.05px;width:25.4px;height:72.85px;background:#2779b4;border-radius:3px;"></div>
<div class="t" style="left:491.29px;top:709.69px;font-size:8.5px;line-height:10.2px;color:#2b3a4a;transform:translateX(-50%);">b</div>
<div class="b" style="left:513.76px;top:656.34px;width:25.4px;height:41.55px;background:#2779b4;border-radius:3px;"></div>
<div class="t" style="left:524.26px;top:709.69px;font-size:8.5px;line-height:10.2px;color:#2b3a4a;transform:translateX(-50%);">b</div>
<div class="b" style="left:546.73px;top:598.07px;width:25.4px;height:99.83px;background:#2779b4;border-radius:3px;"></div>
<div class="t" style="left:557.23px;top:709.69px;font-size:8.5px;line-height:10.2px;color:#2b3a4a;transform:translateX(-50%);">b</div>
<div class="b" style="left:579.7px;top:625.05px;width:25.4px;height:72.85px;background:#2779b4;border-radius:3px;"></div>
<div class="t" style="left:590.2px;top:709.69px;font-size:8.5px;line-height:10.2px;color:#2b3a4a;transform:translateX(-50%);">b</div>
<div class="b" style="left:612.67px;top:652.03px;width:25.4px;height:45.87px;background:#2779b4;border-radius:3px;"></div>
<div class="t" style="left:623.17px;top:709.69px;font-size:8.5px;line-height:10.2px;color:#2b3a4a;transform:translateX(-50%);">b</div>
<div class="b" style="left:656.37px;top:664.91px;width:12px;height:12px;background:#ef3b3b;border-radius:50%;"></div>
<div class="t" style="left:677.48px;top:666.1px;font-size:8.3px;line-height:9.96px;color:#2b3a4a;letter-spacing:0.2px;">Threshold 1</div>
<div class="t" style="left:762.73px;top:666.1px;font-size:8.3px;line-height:9.96px;color:#2b3a4a;transform:translateX(-100%);">200</div>
<div class="b" style="left:656.37px;top:685.42px;width:12px;height:12px;background:#ff8c3a;border-radius:50%;"></div>
<div class="t" style="left:677.48px;top:686.6px;font-size:8.3px;line-height:9.96px;color:#2b3a4a;letter-spacing:0.2px;">Threshold 1</div>
<div class="t" style="left:762.73px;top:686.6px;font-size:8.3px;line-height:9.96px;color:#2b3a4a;transform:translateX(-100%);">500</div>
<div class="b" style="left:656.37px;top:706.46px;width:12px;height:12px;background:#3cc13b;border-radius:50%;"></div>
<div class="t" style="left:677.48px;top:707.65px;font-size:8.3px;line-height:9.96px;color:#2b3a4a;letter-spacing:0.2px;">Threshold 1</div>
<div class="t" style="left:762.73px;top:707.65px;font-size:8.3px;line-height:9.96px;color:#2b3a4a;transform:translateX(-100%);">1000</div>
<div class="b" style="left:789.17px;top:563.53px;width:125.73px;height:168.35px;background:#fff;border-radius:11px;box-shadow:0 2px 8px rgba(20,40,80,0.07);"></div>
<svg class="b" style="left:803.68px;top:582.36px;width:12px;height:12px;color:#3cc13b;"><use href="#i-tri"/></svg>
<div class="t" style="left:825.32px;top:583.21px;font-size:9.8px;line-height:11.76px;color:#0c1a2a;font-weight:700;letter-spacing:-0.25px;">Products</div>
<div class="t" style="left:801.04px;top:614.51px;font-size:9.8px;line-height:11.76px;color:#3a4a5a;">Corona</div>
<div class="t" style="left:902.49px;top:614.51px;font-size:9.8px;line-height:11.76px;color:#0c1a2a;font-weight:700;letter-spacing:0.11px;transform:translateX(-100%);">10k+</div>
<div class="t" style="left:801.04px;top:637.22px;font-size:9.8px;line-height:11.76px;color:#3a4a5a;">Lamarca</div>
<div class="t" style="left:902.49px;top:637.22px;font-size:9.8px;line-height:11.76px;color:#0c1a2a;font-weight:700;letter-spacing:0.11px;transform:translateX(-100%);">10k+</div>
<div class="t" style="left:801.04px;top:659.94px;font-size:9.8px;line-height:11.76px;color:#3a4a5a;">Shots</div>
<div class="t" style="left:902.49px;top:659.94px;font-size:9.8px;line-height:11.76px;color:#0c1a2a;font-weight:700;letter-spacing:0.11px;transform:translateX(-100%);">10k+</div>
<div class="t" style="left:801.04px;top:682.66px;font-size:9.8px;line-height:11.76px;color:#3a4a5a;">Stella</div>
<div class="t" style="left:902.49px;top:682.66px;font-size:9.8px;line-height:11.76px;color:#0c1a2a;font-weight:700;letter-spacing:0.11px;transform:translateX(-100%);">10k+</div>
<div class="t" style="left:801.04px;top:705.38px;font-size:9.8px;line-height:11.76px;color:#3a4a5a;">Whiskey</div>
<div class="t" style="left:902.49px;top:705.38px;font-size:9.8px;line-height:11.76px;color:#0c1a2a;font-weight:700;letter-spacing:0.11px;transform:translateX(-100%);">10k+</div>
<div class="t" style="left:264.68px;top:745.89px;font-size:14px;line-height:16.8px;color:#0c1a2a;font-weight:700;letter-spacing:-0.12px;">Your Product Analysis</div>
<div class="b" style="left:264.68px;top:776.14px;width:227.17px;height:201.81px;background:#fff;border-radius:6px 6px 0 0;"></div>
<div class="b" style="left:504.26px;top:776.14px;width:226.63px;height:201.81px;background:#fff;border-radius:6px 6px 0 0;"></div>
<div class="b" style="left:743.31px;top:776.14px;width:227.17px;height:201.81px;background:#fff;border-radius:6px 6px 0 0;"></div>
<svg class="b" style="left:271.06px;top:794.92px;width:11px;height:11px;color:#5b6b7c;"><use href="#i-lt"/></svg>
<svg class="b" style="left:468.55px;top:794.92px;width:11px;height:11px;color:#5b6b7c;"><use href="#i-gt"/></svg>
<div class="t" style="left:378px;top:794.85px;font-size:9.6px;line-height:11.52px;color:#0c1a2a;font-weight:700;letter-spacing:0.22px;transform:translateX(-50%);">March 2023</div>
<svg class="b" style="left:-1394px;top:-251px;width:10px;height:10px;" viewBox="0 0 10 10"><path d="M1672.2 1090.3H1872.9" stroke="#d5d9df" stroke-width="0.9" stroke-dasharray="5 4"/><path d="M1672.2 1121.6H1872.9" stroke="#d5d9df" stroke-width="0.9" stroke-dasharray="5 4"/><path d="M1672.2 1152.9H1872.9" stroke="#d5d9df" stroke-width="0.9" stroke-dasharray="5 4"/></svg>
<div class="b" style="left:294.08px;top:867.87px;width:3.8px;height:33.99px;background:#12476e;border-radius:2px;"></div>
<div class="t" style="left:296.28px;top:916.57px;font-size:10px;line-height:12px;color:#5b6b7c;transform:translateX(-50%);">10</div>
<div class="b" style="left:336.71px;top:826.86px;width:3.8px;height:75px;background:#12476e;border-radius:2px;"></div>
<div class="t" style="left:338.91px;top:916.57px;font-size:10px;line-height:12px;color:#5b6b7c;transform:translateX(-50%);">11</div>
<div class="b" style="left:377.18px;top:867.87px;width:3.8px;height:33.99px;background:#12476e;border-radius:2px;"></div>
<div class="t" style="left:379.38px;top:916.57px;font-size:10px;line-height:12px;color:#5b6b7c;transform:translateX(-50%);">12</div>
<div class="b" style="left:417.65px;top:853.84px;width:3.8px;height:48.02px;background:#12476e;border-radius:2px;"></div>
<div class="t" style="left:419.85px;top:916.57px;font-size:10px;line-height:12px;color:#5b6b7c;transform:translateX(-50%);">13</div>
<div class="b" style="left:458.12px;top:867.87px;width:3.8px;height:33.99px;background:#3a9ce0;border-radius:2px;"></div>
<div class="t" style="left:460.32px;top:916.57px;font-size:10px;line-height:12px;color:#5b6b7c;transform:translateX(-50%);">14</div>
<div class="t" style="left:277.09px;top:944.62px;font-size:10px;line-height:12px;color:#5b6b7c;letter-spacing:0.06px;">Today</div>
<div class="t" style="left:472.97px;top:944.67px;font-size:9px;line-height:10.8px;color:#1d2c3c;font-weight:700;letter-spacing:-0.09px;transform:translateX(-100%);">$45.00</div>
<div class="b" style="left:277.09px;top:965.57px;width:200.73px;height:1px;background:#f3f5f8;"></div>
<div class="t" style="left:617.58px;top:792.15px;font-size:9.6px;line-height:11.52px;color:#1d2c3c;font-weight:700;transform:translateX(-50%);">Sales by Category</div>
<svg class="b" style="left:-1394px;top:-251px;width:10px;height:10px;" viewBox="0 0 10 10"><path d="M2059.25 1127.11A47.85 47.85 0 1 1 1966.34 1115.70" fill="none" stroke="#2779b4" stroke-width="28.3"/><path d="M1966.07 1116.49A47.85 47.85 0 0 1 2012.42 1083.43" fill="none" stroke="#12476e" stroke-width="28.3"/><path d="M2011.58 1083.43A47.85 47.85 0 0 1 2059.31 1127.94" fill="none" stroke="#3a9ce0" stroke-width="28.3"/></svg>
<div class="b" style="left:567.43px;top:814.48px;width:28px;height:28px;background:#f3f3fb;border-radius:50%;box-shadow:0 2px 8px rgba(20,40,80,0.18);"></div>
<svg class="b" style="left:576.18px;top:823.23px;width:10.5px;height:10.5px;color:#12476e;"><use href="#i-tag"/></svg>
<div class="b" style="left:646.21px;top:823.65px;width:28px;height:28px;background:#f3f3fb;border-radius:50%;box-shadow:0 2px 8px rgba(20,40,80,0.18);"></div>
<svg class="b" style="left:654.96px;top:832.4px;width:10.5px;height:10.5px;color:#3a9ce0;"><use href="#i-bag"/></svg>
<div class="b" style="left:557.71px;top:902.43px;width:28px;height:28px;background:#f3f3fb;border-radius:50%;box-shadow:0 2px 8px rgba(20,40,80,0.18);"></div>
<svg class="b" style="left:566.46px;top:911.18px;width:10.5px;height:10.5px;color:#2779b4;"><use href="#i-phone"/></svg>
<div class="b" style="left:517.39px;top:964.63px;width:7.2px;height:7.2px;background:#12476e;border-radius:50%;"></div>
<div class="t" style="left:532.32px;top:962.43px;font-size:10px;line-height:12px;color:#5b6b7c;letter-spacing:0.19px;">Promotions</div>
<div class="t" style="left:716.87px;top:962.43px;font-size:10px;line-height:12px;color:#0c1a2a;font-weight:700;letter-spacing:0.15px;transform:translateX(-100%);">$1,000</div>
<div class="t" style="left:857.16px;top:795.81px;font-size:9.8px;line-height:11.76px;color:#1d2c3c;font-weight:700;letter-spacing:0.07px;transform:translateX(-50%);">Weekly Overview</div>
<div class="t" style="left:857.16px;top:810.5px;font-size:9.6px;line-height:11.52px;color:#8a96a3;letter-spacing:0.51px;transform:translateX(-50%);">Apr 1 - Apr 7</div>
<div class="b" style="left:767.86px;top:908.88px;width:12.4px;height:39.39px;background:#12476e;border-radius:6.2px;"></div>
<div class="b" style="left:795.38px;top:892.69px;width:12.4px;height:55.58px;background:#12476e;border-radius:6.2px;"></div>
<div class="b" style="left:823.44px;top:919.13px;width:12.4px;height:29.14px;background:#12476e;border-radius:6.2px;"></div>
<div class="b" style="left:850.42px;top:868.41px;width:12.4px;height:79.86px;background:#12476e;border-radius:6.2px;"></div>
<div class="b" style="left:878.48px;top:876.5px;width:12.4px;height:71.77px;background:#3a9ce0;border-radius:6.2px;"></div>
<div class="b" style="left:905.46px;top:876.5px;width:12.4px;height:71.77px;background:#f0f3f9;border-radius:6.2px;"></div>
<div class="b" style="left:932.98px;top:876.5px;width:12.4px;height:71.77px;background:#f0f3f9;border-radius:6.2px;"></div>
<div class="b" style="left:869.06px;top:852.07px;width:28px;height:15.4px;background:#e9f1fa;border-radius:8px;"></div>
<div class="t" style="left:883.06px;top:855.13px;font-size:8px;line-height:9.6px;color:#2779b4;transform:translateX(-50%);">100</div>
<div class="t" style="left:774.06px;top:963.2px;font-size:9.6px;line-height:11.52px;color:#8a96a3;transform:translateX(-50%);">M</div>
<div class="t" style="left:801.58px;top:963.2px;font-size:9.6px;line-height:11.52px;color:#8a96a3;transform:translateX(-50%);">T</div>
<div class="t" style="left:829.64px;top:963.2px;font-size:9.6px;line-height:11.52px;color:#8a96a3;transform:translateX(-50%);">W</div>
<div class="t" style="left:856.62px;top:963.2px;font-size:9.6px;line-height:11.52px;color:#8a96a3;transform:translateX(-50%);">T</div>
<div class="t" style="left:884.68px;top:963.2px;font-size:9.6px;line-height:11.52px;color:#8a96a3;transform:translateX(-50%);">F</div>
<div class="t" style="left:911.66px;top:963.2px;font-size:9.6px;line-height:11.52px;color:#8a96a3;transform:translateX(-50%);">S</div>
<div class="t" style="left:939.18px;top:963.2px;font-size:9.6px;line-height:11.52px;color:#8a96a3;transform:translateX(-50%);">S</div>
<div class="b" style="left:1230.56px;top:1003.84px;width:40.47px;height:22.66px;background:#fff;border-radius:6px;border:1px solid #7c3aed;"></div>
<div class="b" style="left:995.84px;top:677.39px;width:280.59px;height:346.42px;background:#fff;border-radius:9px;box-shadow:0 8px 40px rgba(20,40,80,0.30), 0 0 60px rgba(20,40,80,0.10);"></div>
<div class="t" style="left:1017.42px;top:693.28px;font-size:12.6px;line-height:15.12px;color:#0c1a2a;font-weight:700;letter-spacing:-0.32px;">AI Assistant</div>
<svg class="b" style="left:1240.71px;top:695.09px;width:11px;height:11px;color:#0c1116;"><use href="#i-chev"/></svg>
<div class="b" style="left:1008.25px;top:712.35px;width:256.31px;height:1.3px;background:#dfe3e8;"></div>
<div class="b" style="left:1008.25px;top:730.94px;width:96.05px;height:17px;background:#f6efff;border-radius:3px;border:1px solid #9333ea;"></div>
<div class="t" style="left:1056.27px;top:734.69px;font-size:8.2px;line-height:9.84px;color:#9333ea;letter-spacing:0.21px;transform:translateX(-50%);">Get todays sales report</div>
<div class="b" style="left:1107.53px;top:730.94px;width:63.13px;height:17px;background:#f6efff;border-radius:3px;border:1px solid #9333ea;"></div>
<div class="t" style="left:1139.1px;top:734.69px;font-size:8.2px;line-height:9.84px;color:#9333ea;letter-spacing:0.22px;transform:translateX(-50%);">Dead stock list</div>
<div class="b" style="left:1008.25px;top:752.53px;width:60.43px;height:17px;background:#f6efff;border-radius:3px;border:1px solid #9333ea;"></div>
<div class="t" style="left:1038.47px;top:756.27px;font-size:8.2px;line-height:9.84px;color:#9333ea;letter-spacing:0.27px;transform:translateX(-50%);">New order list</div>
<div class="b" style="left:1071.92px;top:752.53px;width:36.15px;height:17px;background:#f6efff;border-radius:3px;border:1px solid #9333ea;"></div>
<div class="t" style="left:1090px;top:756.27px;font-size:8.2px;line-height:9.84px;color:#9333ea;letter-spacing:0.17px;transform:translateX(-50%);">Insights</div>
<div class="b" style="left:1111.31px;top:752.53px;width:85.26px;height:17px;background:#f6efff;border-radius:3px;border:1px solid #9333ea;"></div>
<div class="t" style="left:1153.94px;top:756.27px;font-size:8.2px;line-height:9.84px;color:#9333ea;letter-spacing:0.29px;transform:translateX(-50%);">What is most selling</div>
<div class="b" style="left:1008.25px;top:773.57px;width:82.56px;height:17px;background:#f6efff;border-radius:3px;border:1px solid #9333ea;"></div>
<div class="t" style="left:1049.53px;top:777.31px;font-size:8.2px;line-height:9.84px;color:#9333ea;letter-spacing:0.24px;transform:translateX(-50%);">Promotions insights</div>
<div class="b" style="left:1094.04px;top:773.57px;width:65.83px;height:17px;background:#f6efff;border-radius:3px;border:1px solid #9333ea;"></div>
<div class="t" style="left:1126.96px;top:777.31px;font-size:8.2px;line-height:9.84px;color:#9333ea;letter-spacing:0.2px;transform:translateX(-50%);">Something else</div>
<div class="b" style="left:1008.25px;top:987.66px;width:229.87px;height:23.74px;background:#fff;border-radius:3px;border:1px solid #c9ced4;"></div>
<div class="t" style="left:1020.66px;top:993.84px;font-size:9.8px;line-height:11.76px;color:#7a8794;letter-spacing:0.08px;font-style:italic;">Ask me anything...</div>
<svg class="b" style="left:1210.57px;top:993.57px;width:13px;height:13px;color:#7a8086;"><use href="#i-plane"/></svg>
<svg class="b" style="left:1247.42px;top:991.57px;width:17px;height:17px;color:#6d28d9;"><use href="#i-robot"/></svg>
</div></div>
<div class="fr" style="left:2769px;top:21px;width:1327px;height:923px">
<div class="sc" style="left:9px;top:9px;right:9px;bottom:9px;border-radius:11px">
<div class="b" style="left:0px;top:-0.5px;width:1309px;height:61px;background:#071e32;"></div>
<div class="t" style="left:60.8px;top:19.97px;font-size:17.3px;line-height:20.76px;color:#e6ecf3;">Store Name</div>
<div class="b" style="left:1193.7px;top:15.5px;width:103px;height:29px;background:#f0f4f9;border-radius:5px;"></div>
<div class="t" style="left:1213.7px;top:17.11px;font-size:9.3px;line-height:11.16px;color:#0b2239;transform:translateX(-50%);">Tue</div>
<div class="t" style="left:1213.7px;top:30.61px;font-size:9.3px;line-height:11.16px;color:#0b2239;transform:translateX(-50%);">15</div>
<div class="t" style="left:1229.7px;top:17.82px;font-size:21px;line-height:25.2px;color:#0b2239;letter-spacing:0.29px;">13:23</div>
<div class="b" style="left:0px;top:61px;width:67px;height:844px;background:#fff;"></div>
<div class="b" style="left:8.5px;top:72.5px;width:49px;height:49px;background:#0c1116;border-radius:50%;"></div>
<svg class="b" style="left:22px;top:179px;width:22px;height:22px;color:#0c1116;"><use href="#i-search"/></svg>
<svg class="b" style="left:21.5px;top:243.7px;width:23px;height:23px;color:#0c1116;"><use href="#i-dash"/></svg>
<svg class="b" style="left:22.5px;top:288.5px;width:21px;height:21px;color:#0c1116;"><use href="#i-sitemap"/></svg>
<svg class="b" style="left:22.5px;top:331.5px;width:21px;height:21px;color:#0c1116;"><use href="#i-cart"/></svg>
<svg class="b" style="left:22.5px;top:374.5px;width:21px;height:21px;color:#0c1116;"><use href="#i-usertag"/></svg>
<svg class="b" style="left:22.5px;top:417.5px;width:21px;height:21px;color:#0c1116;"><use href="#i-pct"/></svg>
<svg class="b" style="left:22.5px;top:460.5px;width:21px;height:21px;color:#0c1116;"><use href="#i-pie"/></svg>
<svg class="b" style="left:23px;top:504px;width:20px;height:20px;color:#0c1116;"><use href="#i-spark"/></svg>
<svg class="b" style="left:22.5px;top:547px;width:21px;height:21px;color:#0c1116;"><use href="#i-users"/></svg>
<svg class="b" style="left:22.5px;top:590.5px;width:21px;height:21px;color:#0c1116;"><use href="#i-tools"/></svg>
<svg class="b" style="left:22.5px;top:633.5px;width:21px;height:21px;color:#0c1116;"><use href="#i-unlock"/></svg>
<div class="b" style="left:0px;top:862px;width:67px;height:43px;background:#f0f4f9;"></div>
<svg class="b" style="left:25.5px;top:875.5px;width:15px;height:15px;color:#0b2239;"><use href="#i-rr"/></svg>
<svg class="b" style="left:86.35px;top:98.35px;width:19.5px;height:19.5px;color:#0c1a2a;"><use href="#i-lt"/></svg>
<div class="t" style="left:112.7px;top:93.83px;font-size:24.6px;line-height:29.52px;color:#0b2239;font-weight:700;letter-spacing:0.38px;">Item Details</div>
<div class="b" style="left:992.82px;top:92.02px;width:60.68px;height:31.64px;background:#2fbf3a;border-radius:5px;"></div>
<div class="t" style="left:1023.16px;top:100.71px;font-size:12.3px;line-height:14.76px;color:#fff;letter-spacing:-0.26px;transform:translateX(-50%);">Save</div>
<div class="b" style="left:1061.28px;top:92.02px;width:60.16px;height:31.64px;background:#ef3b46;border-radius:5px;"></div>
<div class="t" style="left:1091.36px;top:100.71px;font-size:12.3px;line-height:14.76px;color:#fff;letter-spacing:0.07px;transform:translateX(-50%);">Delete</div>
<div class="b" style="left:1129.22px;top:92.02px;width:115.14px;height:31.64px;background:#0c1116;border-radius:5px;"></div>
<div class="t" style="left:1186.79px;top:100.71px;font-size:12.3px;line-height:14.76px;color:#fff;letter-spacing:-0.09px;transform:translateX(-50%);">Pricing Dashboard</div>
<svg class="b" style="left:1255.17px;top:95.07px;width:24px;height:24px;color:#7c5cf0;"><use href="#i-wand"/></svg>
<div class="b" style="left:78.98px;top:141.83px;width:1217.75px;height:1px;background:#cfd4da;"></div>
<div class="b" style="left:90.91px;top:167.23px;width:246.87px;height:208.49px;background:#fff;border-radius:6px;"></div>
<div class="t" style="left:103.41px;top:179.95px;font-size:12.2px;line-height:14.64px;color:#0c1a2a;font-weight:700;letter-spacing:-0.21px;">IDS</div>
<div class="b" style="left:103.41px;top:195.03px;width:222.37px;height:1px;background:#c9ced4;"></div>
<div class="t" style="left:110.62px;top:210.41px;font-size:8.7px;line-height:10.44px;color:#3a4a5a;">SKU</div>
<div class="b" style="left:110.62px;top:221.68px;width:207.45px;height:22.3px;background:#d5d6d8;border-radius:2px;"></div>
<div class="t" style="left:116.92px;top:226px;font-size:12.3px;line-height:14.76px;color:#2b3a4a;">123456</div>
<div class="t" style="left:110.62px;top:251.9px;font-size:8.7px;line-height:10.44px;color:#3a4a5a;">UPC</div>
<div class="b" style="left:110.62px;top:263.17px;width:207.45px;height:22.3px;background:#fff;border-radius:2px;border:1px solid #eaedf1;"></div>
<div class="t" style="left:116.92px;top:267.49px;font-size:12.3px;line-height:14.76px;color:#2b3a4a;letter-spacing:0.39px;">012345678999745</div>
<div class="b" style="left:105.95px;top:300.52px;width:215.23px;height:17.7px;background:#1b2535;border-radius:3px;"></div>
<div class="t" style="left:213.31px;top:304.6px;font-size:8.3px;line-height:9.96px;color:#fff;transform:translateX(-50%);">Auto UPC</div>
<div class="b" style="left:105.95px;top:325.41px;width:215.23px;height:17.7px;background:#1b2535;border-radius:3px;"></div>
<div class="t" style="left:213.31px;top:329.5px;font-size:8.3px;line-height:9.96px;color:#fff;transform:translateX(-50%);">Add UPC</div>
<div class="b" style="left:105.95px;top:350.3px;width:215.23px;height:17.7px;background:#1b2535;border-radius:3px;"></div>
<div class="t" style="left:213.31px;top:354.39px;font-size:8.3px;line-height:9.96px;color:#fff;transform:translateX(-50%);">Remove/Delete</div>
<div class="b" style="left:350.23px;top:167.23px;width:606.28px;height:208.49px;background:#fff;border-radius:6px;"></div>
<div class="t" style="left:362.73px;top:179.95px;font-size:12.2px;line-height:14.64px;color:#0c1a2a;font-weight:700;letter-spacing:-0.03px;">NAME</div>
<div class="b" style="left:362.73px;top:195.03px;width:581.78px;height:1px;background:#c9ced4;"></div>
<svg class="b" style="left:932.76px;top:181.28px;width:11.5px;height:11.5px;color:#4f5bf0;"><use href="#i-sparkf"/></svg>
<div class="t" style="left:369.42px;top:210.41px;font-size:8.7px;line-height:10.44px;color:#3a4a5a;">Product Name</div>
<div class="b" style="left:369.42px;top:221.68px;width:567.39px;height:22.3px;background:#fff;border-radius:2px;border:1px solid #eaedf1;"></div>
<div class="t" style="left:375.72px;top:226px;font-size:12.3px;line-height:14.76px;color:#2b3a4a;">Blueberry Cooler</div>
<div class="t" style="left:369.42px;top:266.43px;font-size:8.7px;line-height:10.44px;color:#3a4a5a;">Sub- Product Name</div>
<div class="b" style="left:369.42px;top:277.7px;width:272.8px;height:22.3px;background:#fff;border-radius:2px;border:1px solid #eaedf1;"></div>
<div class="t" style="left:375.72px;top:282.01px;font-size:12.3px;line-height:14.76px;color:#2b3a4a;">Drink</div>
<div class="t" style="left:664.52px;top:266.43px;font-size:8.7px;line-height:10.44px;color:#3a4a5a;">Brand Name</div>
<div class="b" style="left:664.52px;top:277.7px;width:272.28px;height:22.3px;background:#fff;border-radius:2px;border:1px solid #eaedf1;"></div>
<div class="t" style="left:670.82px;top:282.01px;font-size:12.3px;line-height:14.76px;color:#2b3a4a;">Famous</div>
<div class="t" style="left:369.42px;top:322.44px;font-size:8.7px;line-height:10.44px;color:#3a4a5a;">Vintage</div>
<div class="b" style="left:369.42px;top:333.71px;width:272.8px;height:22.3px;background:#fff;border-radius:2px;border:1px solid #eaedf1;"></div>
<div class="t" style="left:375.72px;top:338.02px;font-size:12.3px;line-height:14.76px;color:#2b3a4a;">-</div>
<div class="t" style="left:664.52px;top:322.44px;font-size:8.7px;line-height:10.44px;color:#3a4a5a;">Batch Number</div>
<div class="b" style="left:664.52px;top:333.71px;width:272.28px;height:22.3px;background:#fff;border-radius:2px;border:1px solid #eaedf1;"></div>
<div class="t" style="left:670.82px;top:338.02px;font-size:12.3px;line-height:14.76px;color:#2b3a4a;letter-spacing:0.42px;">01010100192019</div>
<div class="b" style="left:968.96px;top:167.23px;width:315.85px;height:280.58px;background:#fff;border-radius:6px;"></div>
<div class="t" style="left:981.46px;top:179.95px;font-size:12.2px;line-height:14.64px;color:#0c1a2a;font-weight:700;letter-spacing:-0.2px;">PRODUCT IMAGE</div>
<div class="b" style="left:981.46px;top:195.03px;width:291.35px;height:1px;background:#c9ced4;"></div>
<div class="t" style="left:980.89px;top:202.63px;font-size:8.7px;line-height:10.44px;color:#3a4a5a;letter-spacing:-0.27px;">IMAGE ID / URL</div>
<div class="b" style="left:980.89px;top:214.42px;width:291.99px;height:22.3px;background:#fff;border-radius:2px;border:1px solid #eaedf1;"></div>
<div class="t" style="left:987.19px;top:218.74px;font-size:12.3px;line-height:14.76px;color:#d5d9de;">Place Holder</div>
<div class="b" style="left:980.89px;top:243.47px;width:142.11px;height:192.41px;background:#fff;border-radius:5px;border:1px dashed #d6dade;"></div>
<svg class="b" style="left:1004.75px;top:303.63px;width:93.87px;height:71.57px;color:#b9b9b9;" viewBox="0 0 24 18"><use href="#i-img"/></svg>
<div class="b" style="left:1130.25px;top:243.47px;width:142.62px;height:92.32px;background:#fff;border-radius:5px;border:1px dashed #d6dade;"></div>
<svg class="b" style="left:1171.75px;top:266.8px;width:58.61px;height:45.12px;color:#b9b9b9;" viewBox="0 0 24 18"><use href="#i-img"/></svg>
<div class="b" style="left:1130.25px;top:343.04px;width:142.62px;height:92.84px;background:#e6e8eb;border-radius:5px;border:1px dashed #d6dade;"></div>
<div class="b" style="left:90.91px;top:388.16px;width:865.6px;height:102.29px;background:#fff;border-radius:6px;"></div>
<div class="t" style="left:103.41px;top:400.89px;font-size:12.2px;line-height:14.64px;color:#0c1a2a;font-weight:700;letter-spacing:-0.19px;">CATEGORIZATION</div>
<div class="b" style="left:103.41px;top:415.96px;width:841.1px;height:1px;background:#c9ced4;"></div>
<div class="t" style="left:110.62px;top:431.87px;font-size:8.7px;line-height:10.44px;color:#3a4a5a;">Department</div>
<div class="b" style="left:110.62px;top:443.14px;width:131.2px;height:28.12px;background:#fff;border-radius:2px;border:1px solid #eaedf1;"></div>
<div class="b" style="left:110.62px;top:443.14px;width:21.3px;height:28.12px;background:#f0f4f9;border-radius:2px 0 0 2px;border:1px solid #eaedf1;"></div>
<svg class="b" style="left:115.97px;top:452.25px;width:10.5px;height:10.5px;color:#0c1116;"><use href="#i-chev"/></svg>
<div class="t" style="left:144.12px;top:450.37px;font-size:12.3px;line-height:14.76px;color:#2b3a4a;">Drinks</div>
<div class="t" style="left:249.61px;top:431.87px;font-size:8.7px;line-height:10.44px;color:#3a4a5a;">Category</div>
<div class="b" style="left:249.61px;top:443.14px;width:131.2px;height:28.12px;background:#fff;border-radius:2px;border:1px solid #eaedf1;"></div>
<div class="b" style="left:249.61px;top:443.14px;width:21.3px;height:28.12px;background:#f0f4f9;border-radius:2px 0 0 2px;border:1px solid #eaedf1;"></div>
<svg class="b" style="left:254.96px;top:452.25px;width:10.5px;height:10.5px;color:#0c1116;"><use href="#i-chev"/></svg>
<div class="t" style="left:283.11px;top:450.37px;font-size:12.3px;line-height:14.76px;color:#2b3a4a;">Cooler</div>
<div class="t" style="left:388.61px;top:431.87px;font-size:8.7px;line-height:10.44px;color:#3a4a5a;">Sub-Category</div>
<div class="b" style="left:388.61px;top:443.14px;width:131.2px;height:28.12px;background:#fff;border-radius:2px;border:1px solid #eaedf1;"></div>
<div class="b" style="left:388.61px;top:443.14px;width:21.3px;height:28.12px;background:#f0f4f9;border-radius:2px 0 0 2px;border:1px solid #eaedf1;"></div>
<svg class="b" style="left:393.96px;top:452.25px;width:10.5px;height:10.5px;color:#0c1116;"><use href="#i-chev"/></svg>
<div class="t" style="left:422.11px;top:450.37px;font-size:12.3px;line-height:14.76px;color:#2b3a4a;">Fruit</div>
<div class="t" style="left:527.6px;top:431.87px;font-size:8.7px;line-height:10.44px;color:#3a4a5a;">Region</div>
<div class="b" style="left:527.6px;top:443.14px;width:131.2px;height:28.12px;background:#fff;border-radius:2px;border:1px solid #eaedf1;"></div>
<div class="b" style="left:527.6px;top:443.14px;width:21.3px;height:28.12px;background:#f0f4f9;border-radius:2px 0 0 2px;border:1px solid #eaedf1;"></div>
<svg class="b" style="left:532.95px;top:452.25px;width:10.5px;height:10.5px;color:#0c1116;"><use href="#i-chev"/></svg>
<div class="t" style="left:561.1px;top:450.37px;font-size:12.3px;line-height:14.76px;color:#2b3a4a;">USA</div>
<div class="t" style="left:666.6px;top:431.87px;font-size:8.7px;line-height:10.44px;color:#3a4a5a;">Sub-Region</div>
<div class="b" style="left:666.6px;top:443.14px;width:131.2px;height:28.12px;background:#fff;border-radius:2px;border:1px solid #eaedf1;"></div>
<div class="b" style="left:666.6px;top:443.14px;width:21.3px;height:28.12px;background:#f0f4f9;border-radius:2px 0 0 2px;border:1px solid #eaedf1;"></div>
<svg class="b" style="left:671.95px;top:452.25px;width:10.5px;height:10.5px;color:#0c1116;"><use href="#i-chev"/></svg>
<div class="t" style="left:700.1px;top:450.37px;font-size:12.3px;line-height:14.76px;color:#c5cad0;">-</div>
<div class="t" style="left:805.59px;top:431.87px;font-size:8.7px;line-height:10.44px;color:#3a4a5a;">ABV</div>
<div class="b" style="left:805.59px;top:443.14px;width:131.2px;height:28.12px;background:#fff;border-radius:2px;border:1px solid #eaedf1;"></div>
<div class="t" style="left:817.99px;top:450.37px;font-size:12.3px;line-height:14.76px;color:#2b3a4a;">5.00%</div>
<div class="b" style="left:90.91px;top:503.42px;width:470.4px;height:115.14px;background:#fff;border-radius:6px;"></div>
<div class="t" style="left:103.41px;top:516.14px;font-size:12.2px;line-height:14.64px;color:#0c1a2a;font-weight:700;letter-spacing:-0.51px;">SIZES</div>
<div class="b" style="left:103.41px;top:531.22px;width:445.9px;height:1px;background:#c9ced4;"></div>
<div class="t" style="left:110.62px;top:546.61px;font-size:8.7px;line-height:10.44px;color:#3a4a5a;">Package Size</div>
<div class="b" style="left:110.62px;top:558.39px;width:120.84px;height:28.01px;background:#fff;border-radius:2px;border:1px solid #eaedf1;"></div>
<div class="b" style="left:110.62px;top:558.39px;width:21.3px;height:28.01px;background:#f0f4f9;border-radius:2px 0 0 2px;border:1px solid #eaedf1;"></div>
<svg class="b" style="left:115.97px;top:567.45px;width:10.5px;height:10.5px;color:#0c1116;"><use href="#i-chev"/></svg>
<div class="t" style="left:144.12px;top:565.56px;font-size:12.3px;line-height:14.76px;color:#2b3a4a;">Single</div>
<div class="t" style="left:238.2px;top:546.61px;font-size:8.7px;line-height:10.44px;color:#3a4a5a;">Package Type</div>
<div class="b" style="left:238.2px;top:558.39px;width:120.32px;height:28.01px;background:#fff;border-radius:2px;border:1px solid #eaedf1;"></div>
<div class="b" style="left:238.2px;top:558.39px;width:21.3px;height:28.01px;background:#f0f4f9;border-radius:2px 0 0 2px;border:1px solid #eaedf1;"></div>
<svg class="b" style="left:243.55px;top:567.45px;width:10.5px;height:10.5px;color:#0c1116;"><use href="#i-chev"/></svg>
<div class="t" style="left:271.7px;top:565.56px;font-size:12.3px;line-height:14.76px;color:#2b3a4a;">Can</div>
<div class="t" style="left:365.27px;top:546.61px;font-size:8.7px;line-height:10.44px;color:#3a4a5a;">Product Size</div>
<div class="b" style="left:365.27px;top:558.39px;width:62.24px;height:28.01px;background:#fff;border-radius:2px;border:1px solid #eaedf1;"></div>
<div class="b" style="left:365.27px;top:558.39px;width:21.3px;height:28.01px;background:#f0f4f9;border-radius:2px 0 0 2px;border:1px solid #eaedf1;"></div>
<svg class="b" style="left:370.62px;top:567.45px;width:10.5px;height:10.5px;color:#0c1116;"><use href="#i-chev"/></svg>
<div class="t" style="left:398.77px;top:565.56px;font-size:12.3px;line-height:14.76px;color:#2b3a4a;">ML</div>
<div class="b" style="left:434.25px;top:558.39px;width:112.02px;height:28.01px;background:#fff;border-radius:2px;border:1px solid #eaedf1;"></div>
<div class="t" style="left:446.18px;top:565.56px;font-size:12.3px;line-height:14.76px;color:#2b3a4a;">750</div>
<div class="b" style="left:569.09px;top:503.42px;width:387.42px;height:115.14px;background:#fff;border-radius:6px;"></div>
<div class="t" style="left:581.59px;top:516.14px;font-size:12.2px;line-height:14.64px;color:#0c1a2a;font-weight:700;letter-spacing:-0.32px;">TAG</div>
<div class="b" style="left:581.59px;top:531.22px;width:362.92px;height:1px;background:#c9ced4;"></div>
<div class="t" style="left:588.8px;top:542.98px;font-size:8.7px;line-height:10.44px;color:#3a4a5a;">Add Tag</div>
<div class="b" style="left:588.8px;top:554.25px;width:348px;height:28.01px;background:#fff;border-radius:2px;border:1px solid #eaedf1;"></div>
<div class="t" style="left:600.73px;top:561.41px;font-size:12.3px;line-height:14.76px;color:#2b3a4a;">Cooler</div>
<svg class="b" style="left:587.2px;top:596.73px;width:11.5px;height:11.5px;color:#0c1116;"><use href="#i-pluscirc"/></svg>
<div class="t" style="left:605.4px;top:597.43px;font-size:8.7px;line-height:10.44px;color:#0c1a2a;">Add New</div>
<div class="b" style="left:90.91px;top:631.52px;width:325.7px;height:316.37px;background:#fff;border-radius:6px;"></div>
<div class="t" style="left:98.69px;top:639.65px;font-size:12.2px;line-height:14.64px;color:#0c1a2a;font-weight:700;letter-spacing:-0.29px;">PRICING</div>
<div class="b" style="left:98.69px;top:654.72px;width:310.42px;height:1px;background:#c9ced4;"></div>
<svg class="b" style="left:397.36px;top:640.97px;width:11.5px;height:11.5px;color:#4f5bf0;"><use href="#i-sparkf"/></svg>
<div class="t" style="left:98.69px;top:663.3px;font-size:8.7px;line-height:10.44px;color:#3a4a5a;">Units in Case</div>
<div class="b" style="left:98.69px;top:674.57px;width:271.76px;height:28.01px;background:#fff;border-radius:2px;border:1px solid #eaedf1;"></div>
<div class="b" style="left:98.69px;top:674.57px;width:21.3px;height:28.01px;background:#f0f4f9;border-radius:2px 0 0 2px;border:1px solid #eaedf1;"></div>
<svg class="b" style="left:104.04px;top:683.62px;width:10.5px;height:10.5px;color:#0c1116;"><use href="#i-chev"/></svg>
<div class="t" style="left:132.19px;top:681.74px;font-size:12.3px;line-height:14.76px;color:#2b3a4a;">12</div>
<div class="t" style="left:98.69px;top:711.01px;font-size:8.7px;line-height:10.44px;color:#3a4a5a;">Case Cost</div>
<div class="b" style="left:98.69px;top:722.8px;width:271.76px;height:27.49px;background:#fff;border-radius:2px;border:1px solid #eaedf1;"></div>
<div class="b" style="left:98.69px;top:722.8px;width:21.3px;height:27.49px;background:#f0f4f9;border-radius:2px 0 0 2px;border:1px solid #eaedf1;"></div>
<svg class="b" style="left:104.04px;top:731.6px;width:10.5px;height:10.5px;color:#0c1116;"><use href="#i-chev"/></svg>
<div class="t" style="left:132.19px;top:729.71px;font-size:12.3px;line-height:14.76px;color:#2b3a4a;">1200.00</div>
<div class="t" style="left:106.47px;top:766.51px;font-size:8.7px;line-height:10.44px;color:#3a4a5a;">Unit Cost</div>
<div class="b" style="left:106.47px;top:777.78px;width:120.32px;height:21.78px;background:#cfd3d8;border-radius:2px;"></div>
<div class="t" style="left:112.77px;top:781.83px;font-size:12.3px;line-height:14.76px;color:#2b3a4a;">100.00</div>
<div class="t" style="left:246.5px;top:766.51px;font-size:8.7px;line-height:10.44px;color:#3a4a5a;">Margin</div>
<div class="b" style="left:246.5px;top:777.78px;width:58.09px;height:21.78px;background:#fff;border-radius:2px;border:1px solid #eaedf1;"></div>
<div class="t" style="left:252.8px;top:781.83px;font-size:12.3px;line-height:14.76px;color:#2b3a4a;letter-spacing:-0.52px;">% 10.10</div>
<div class="b" style="left:308.74px;top:777.78px;width:58.09px;height:21.78px;background:#fff;border-radius:2px;border:1px solid #eaedf1;"></div>
<div class="t" style="left:315.04px;top:781.83px;font-size:12.3px;line-height:14.76px;color:#2b3a4a;letter-spacing:0.07px;">$ 10.00</div>
<div class="t" style="left:106.47px;top:808px;font-size:8.7px;line-height:10.44px;color:#3a4a5a;">Unit Price</div>
<div class="b" style="left:106.47px;top:819.27px;width:120.32px;height:22.3px;background:#fff;border-radius:2px;border:1px solid #eaedf1;"></div>
<div class="t" style="left:112.77px;top:823.58px;font-size:12.3px;line-height:14.76px;color:#2b3a4a;">110.00</div>
<div class="t" style="left:246.5px;top:809.55px;font-size:8.7px;line-height:10.44px;color:#3a4a5a;">Markup</div>
<div class="b" style="left:246.5px;top:821.34px;width:120.32px;height:21.78px;background:#fff;border-radius:2px;border:1px solid #eaedf1;"></div>
<div class="t" style="left:252.8px;top:825.4px;font-size:12.3px;line-height:14.76px;color:#2b3a4a;">10.00 %</div>
<div class="t" style="left:106.47px;top:850.01px;font-size:8.7px;line-height:10.44px;color:#3a4a5a;">Case Price</div>
<div class="b" style="left:106.47px;top:861.8px;width:120.32px;height:21.26px;background:#fff;border-radius:2px;border:1px solid #eaedf1;"></div>
<div class="t" style="left:112.77px;top:865.59px;font-size:12.3px;line-height:14.76px;color:#2b3a4a;">1210.00</div>
<div class="t" style="left:246.5px;top:853.12px;font-size:8.7px;line-height:10.44px;color:#3a4a5a;">Sale Price Cost</div>
<div class="b" style="left:246.5px;top:864.39px;width:120.32px;height:21.78px;background:#fff;border-radius:2px;border:1px solid #eaedf1;"></div>
<div class="t" style="left:252.8px;top:868.45px;font-size:12.3px;line-height:14.76px;color:#2b3a4a;">5.50</div>
<div class="b" style="left:429.06px;top:631.52px;width:527.45px;height:316.37px;background:#fff;border-radius:6px;"></div>
<div class="t" style="left:436.32px;top:639.65px;font-size:12.2px;line-height:14.64px;color:#0c1a2a;font-weight:700;letter-spacing:-0.31px;">SPECIAL PRICING</div>
<div class="b" style="left:436.32px;top:654.72px;width:512.69px;height:1px;background:#c9ced4;"></div>
<svg class="b" style="left:937.26px;top:640.97px;width:11.5px;height:11.5px;color:#4f5bf0;"><use href="#i-sparkf"/></svg>
<div class="t" style="left:436.32px;top:663.3px;font-size:8.7px;line-height:10.44px;color:#3a4a5a;">Unit Discount</div>
<div class="b" style="left:436.32px;top:674.57px;width:120.84px;height:22.3px;background:#fff;border-radius:2px;border:1px solid #eaedf1;"></div>
<div class="t" style="left:442.62px;top:678.88px;font-size:12.3px;line-height:14.76px;color:#2b3a4a;">$1</div>
<div class="t" style="left:696.68px;top:663.3px;font-size:8.7px;line-height:10.44px;color:#3a4a5a;">Case Discount</div>
<div class="b" style="left:696.68px;top:674.57px;width:120.84px;height:22.3px;background:#fff;border-radius:2px;border:1px solid #eaedf1;"></div>
<div class="t" style="left:702.98px;top:678.88px;font-size:12.3px;line-height:14.76px;color:#2b3a4a;">$12</div>
<div class="b" style="left:436.32px;top:709.32px;width:120.84px;height:22.3px;background:#fff;border-radius:2px;border:1px solid #eaedf1;"></div>
<div class="t" style="left:442.62px;top:713.63px;font-size:12.3px;line-height:14.76px;color:#2b3a4a;">%</div>
<div class="b" style="left:696.68px;top:709.32px;width:120.84px;height:22.3px;background:#fff;border-radius:2px;border:1px solid #eaedf1;"></div>
<div class="t" style="left:702.98px;top:713.63px;font-size:12.3px;line-height:14.76px;color:#2b3a4a;">%</div>
<div class="t" style="left:436.32px;top:739.54px;font-size:8.7px;line-height:10.44px;color:#3a4a5a;">Case Cost</div>
<div class="b" style="left:436.32px;top:751.33px;width:512.41px;height:28.01px;background:#fff;border-radius:2px;border:1px solid #eaedf1;"></div>
<div class="b" style="left:436.32px;top:751.33px;width:21.3px;height:28.01px;background:#f0f4f9;border-radius:2px 0 0 2px;border:1px solid #eaedf1;"></div>
<svg class="b" style="left:441.67px;top:760.38px;width:10.5px;height:10.5px;color:#0c1116;"><use href="#i-chev"/></svg>
<div class="t" style="left:469.82px;top:758.5px;font-size:12.3px;line-height:14.76px;color:#2b3a4a;">1200.00</div>
<div class="t" style="left:436.32px;top:787.77px;font-size:8.7px;line-height:10.44px;color:#3a4a5a;">Promotions applied</div>
<div class="b" style="left:436.32px;top:799.04px;width:512.41px;height:44.08px;background:#fff;border-radius:2px;border:1px solid #eaedf1;"></div>
<div class="t" style="left:442.55px;top:802.81px;font-size:9.6px;line-height:11.52px;color:#2b3a4a;">1 @ $13.99 INSTORE SALE</div>
<div class="t" style="left:436.32px;top:852.19px;font-size:10.3px;line-height:12.36px;color:#5b6b7c;letter-spacing:0.13px;">By Amount</div>
<div class="t" style="left:436.32px;top:873.35px;font-size:8.7px;line-height:10.44px;color:#3a4a5a;">Uber Eats</div>
<div class="b" style="left:436.32px;top:884.61px;width:120.8px;height:28.01px;background:#fff;border-radius:2px;border:1px solid #eaedf1;"></div>
<div class="b" style="left:436.32px;top:884.61px;width:21.3px;height:28.01px;background:#f0f4f9;border-radius:2px 0 0 2px;border:1px solid #eaedf1;"></div>
<svg class="b" style="left:441.67px;top:893.67px;width:10.5px;height:10.5px;color:#0c1116;"><use href="#i-chev"/></svg>
<div class="t" style="left:469.82px;top:891.78px;font-size:12.3px;line-height:14.76px;color:#2b3a4a;">B $15.00</div>
<div class="t" style="left:565.46px;top:873.35px;font-size:8.7px;line-height:10.44px;color:#3a4a5a;">DoorDash</div>
<div class="b" style="left:565.46px;top:884.61px;width:120.8px;height:28.01px;background:#fff;border-radius:2px;border:1px solid #eaedf1;"></div>
<div class="b" style="left:565.46px;top:884.61px;width:21.3px;height:28.01px;background:#f0f4f9;border-radius:2px 0 0 2px;border:1px solid #eaedf1;"></div>
<svg class="b" style="left:570.81px;top:893.67px;width:10.5px;height:10.5px;color:#0c1116;"><use href="#i-chev"/></svg>
<div class="t" style="left:598.96px;top:891.78px;font-size:12.3px;line-height:14.76px;color:#2b3a4a;">C $16.00</div>
<div class="t" style="left:694.08px;top:873.35px;font-size:8.7px;line-height:10.44px;color:#3a4a5a;">Business name</div>
<div class="b" style="left:694.08px;top:884.61px;width:120.8px;height:28.01px;background:#fff;border-radius:2px;border:1px solid #eaedf1;"></div>
<div class="b" style="left:694.08px;top:884.61px;width:21.3px;height:28.01px;background:#f0f4f9;border-radius:2px 0 0 2px;border:1px solid #eaedf1;"></div>
<svg class="b" style="left:699.43px;top:893.67px;width:10.5px;height:10.5px;color:#0c1116;"><use href="#i-chev"/></svg>
<div class="t" style="left:727.58px;top:891.78px;font-size:12.3px;line-height:14.76px;color:#2b3a4a;">A $15.00</div>
<svg class="b" style="left:828.88px;top:887.16px;width:11.5px;height:11.5px;color:#0c1116;"><use href="#i-pluscirc"/></svg>
<div class="t" style="left:847.08px;top:887.87px;font-size:8.7px;line-height:10.44px;color:#0c1a2a;">Add Price</div>
<div class="b" style="left:968.96px;top:459.85px;width:315.85px;height:293.55px;background:#fff;border-radius:6px;"></div>
<div class="t" style="left:981.46px;top:472.58px;font-size:12.2px;line-height:14.64px;color:#0c1a2a;font-weight:700;letter-spacing:-0.06px;">INFORMATION</div>
<div class="b" style="left:981.46px;top:487.65px;width:291.35px;height:1px;background:#c9ced4;"></div>
<div class="t" style="left:988.67px;top:503.56px;font-size:8.7px;line-height:10.44px;color:#3a4a5a;">Description</div>
<div class="b" style="left:988.67px;top:514.83px;width:275.91px;height:60.16px;background:#fff;border-radius:2px;border:1px solid #eaedf1;"></div>
<div class="t" style="left:994.89px;top:518.59px;font-size:12.3px;line-height:14.76px;color:#2b3a4a;letter-spacing:0.09px;">Chill drink</div>
<div class="t" style="left:988.67px;top:598.47px;font-size:8.7px;line-height:10.44px;color:#3a4a5a;">Labels</div>
<div class="b" style="left:988.67px;top:609.22px;width:268.65px;height:47.2px;background:#fff;border-radius:2px;border:1px solid #eaedf1;"></div>
<div class="b" style="left:994.89px;top:621.67px;width:47.2px;height:22.82px;background:#f0f4f9;border-radius:12px;"></div>
<div class="t" style="left:1018.49px;top:628.26px;font-size:8.3px;line-height:9.96px;color:#1d2c3c;transform:translateX(-50%);">Vegan</div>
<div class="b" style="left:988.67px;top:672.49px;width:48.75px;height:22.8px;background:#f0f4f9;border-radius:12px;"></div>
<div class="t" style="left:1013.04px;top:679.18px;font-size:8.3px;line-height:9.96px;color:#1d2c3c;transform:translateX(-50%);">Labels</div>
<div class="b" style="left:1043.64px;top:672.49px;width:48.75px;height:22.8px;background:#f0f4f9;border-radius:12px;"></div>
<div class="t" style="left:1068.02px;top:679.18px;font-size:8.3px;line-height:9.96px;color:#1d2c3c;transform:translateX(-50%);">Labels</div>
<div class="b" style="left:1098.1px;top:672.49px;width:49.27px;height:22.8px;background:#f0f4f9;border-radius:12px;"></div>
<div class="t" style="left:1122.73px;top:679.18px;font-size:8.3px;line-height:9.96px;color:#1d2c3c;transform:translateX(-50%);">Labels</div>
<div class="b" style="left:1153.07px;top:672.49px;width:48.75px;height:22.8px;background:#f0f4f9;border-radius:12px;"></div>
<div class="t" style="left:1177.45px;top:679.18px;font-size:8.3px;line-height:9.96px;color:#1d2c3c;transform:translateX(-50%);">Labels</div>
<div class="b" style="left:1207.53px;top:672.49px;width:49.27px;height:22.8px;background:#f0f4f9;border-radius:12px;"></div>
<div class="t" style="left:1232.17px;top:679.18px;font-size:8.3px;line-height:9.96px;color:#1d2c3c;transform:translateX(-50%);">Labels</div>
<div class="b" style="left:988.67px;top:703.61px;width:48.75px;height:22.8px;background:#f0f4f9;border-radius:12px;"></div>
<div class="t" style="left:1013.04px;top:710.3px;font-size:8.3px;line-height:9.96px;color:#1d2c3c;transform:translateX(-50%);">Labels</div>
<div class="b" style="left:1042.61px;top:703.61px;width:49.27px;height:22.8px;background:#f0f4f9;border-radius:12px;"></div>
<div class="t" style="left:1067.24px;top:710.3px;font-size:8.3px;line-height:9.96px;color:#1d2c3c;transform:translateX(-50%);">Labels</div>
<div class="b" style="left:1097.06px;top:703.61px;width:49.27px;height:22.8px;background:#f0f4f9;border-radius:12px;"></div>
<div class="t" style="left:1121.7px;top:710.3px;font-size:8.3px;line-height:9.96px;color:#1d2c3c;transform:translateX(-50%);">Labels</div>
<div class="b" style="left:1151px;top:703.61px;width:49.27px;height:22.8px;background:#f0f4f9;border-radius:12px;"></div>
<div class="t" style="left:1175.64px;top:710.3px;font-size:8.3px;line-height:9.96px;color:#1d2c3c;transform:translateX(-50%);">Labels</div>
<div class="b" style="left:1205.46px;top:703.61px;width:51.34px;height:22.8px;background:#f0f4f9;border-radius:12px;"></div>
<div class="t" style="left:1231.13px;top:710.3px;font-size:8.3px;line-height:9.96px;color:#1d2c3c;transform:translateX(-50%);">+ NEW</div>
<div class="b" style="left:968.96px;top:766.37px;width:315.85px;height:181.52px;background:#fff;border-radius:6px;"></div>
<div class="t" style="left:981.46px;top:779.09px;font-size:12.2px;line-height:14.64px;color:#0c1a2a;font-weight:700;letter-spacing:-0.13px;">STATUS</div>
<div class="b" style="left:981.46px;top:794.17px;width:291.35px;height:1px;background:#c9ced4;"></div>
<div class="b" style="left:988.37px;top:809.12px;width:12px;height:12px;background:#071e32;border-radius:50%;border:1px solid #0c1a2a;"></div>
<div class="t" style="left:1006.82px;top:810.19px;font-size:8.5px;line-height:10.2px;color:#1d2c3c;">In stock</div>
<div class="b" style="left:988.37px;top:828.83px;width:12px;height:12px;background:#fff;border-radius:50%;border:1px solid #0c1a2a;"></div>
<div class="t" style="left:1006.82px;top:829.9px;font-size:8.5px;line-height:10.2px;color:#1d2c3c;">Out of stock</div>
<div class="b" style="left:988.37px;top:848.53px;width:12px;height:12px;background:#071e32;border-radius:50%;border:1px solid #0c1a2a;"></div>
<div class="t" style="left:1006.82px;top:849.6px;font-size:8.5px;line-height:10.2px;color:#1d2c3c;">Listed</div>
<div class="b" style="left:988.37px;top:868.24px;width:12px;height:12px;background:#fff;border-radius:50%;border:1px solid #0c1a2a;"></div>
<div class="t" style="left:1006.82px;top:869.31px;font-size:8.5px;line-height:10.2px;color:#1d2c3c;">Inactive</div>
<div class="b" style="left:988.37px;top:887.95px;width:12px;height:12px;background:#fff;border-radius:50%;border:1px solid #0c1a2a;"></div>
<div class="t" style="left:1006.82px;top:889.02px;font-size:8.5px;line-height:10.2px;color:#1d2c3c;">Discontinued</div>
</div></div>
<div class="fr" style="left:0px;top:1001px;width:1327px;height:944px">
<div class="sc" style="left:9px;top:9px;right:9px;bottom:9px;border-radius:11px">
<div class="b" style="left:0px;top:0px;width:1309px;height:61px;background:#071e32;"></div>
<div class="t" style="left:37px;top:20.47px;font-size:17.3px;line-height:20.76px;color:#e6ecf3;">Store Name</div>
<div class="b" style="left:1182px;top:16px;width:103px;height:29px;background:#f0f4f9;border-radius:5px;"></div>
<div class="t" style="left:1202px;top:17.61px;font-size:9.3px;line-height:11.16px;color:#0b2239;transform:translateX(-50%);">Tue</div>
<div class="t" style="left:1202px;top:31.11px;font-size:9.3px;line-height:11.16px;color:#0b2239;transform:translateX(-50%);">15</div>
<div class="t" style="left:1218px;top:18.32px;font-size:21px;line-height:25.2px;color:#0b2239;letter-spacing:0.29px;">13:23</div>
<div class="b" style="left:0px;top:61px;width:235px;height:865px;background:#fff;"></div>
<div class="b" style="left:12.3px;top:79.3px;width:60.4px;height:60.4px;background:#0c1116;border-radius:50%;"></div>
<div class="t" style="left:91.3px;top:91.56px;font-size:14.2px;line-height:17.04px;color:#1d2c3c;letter-spacing:-0.16px;">Jhon Doe</div>
<div class="t" style="left:91.3px;top:111.16px;font-size:14.2px;line-height:17.04px;color:#1d2c3c;letter-spacing:0.35px;">Admin</div>
<div class="b" style="left:6.5px;top:158.6px;width:222.5px;height:37.3px;background:#f0f4f9;border-radius:4px;border:1px solid #c5cad0;"></div>
<svg class="b" style="left:10.75px;top:167.05px;width:21.5px;height:21.5px;color:#0c1116;"><use href="#i-search"/></svg>
<div class="t" style="left:38px;top:169.87px;font-size:12.3px;line-height:14.76px;color:#1d2c3c;letter-spacing:-0.41px;">Search</div>
<svg class="b" style="left:11px;top:213px;width:21px;height:21px;color:#0c1116;"><use href="#i-dash"/></svg>
<div class="t" style="left:38px;top:216.37px;font-size:12.3px;line-height:14.76px;color:#1d2c3c;letter-spacing:-0.1px;">Dashboard</div>
<svg class="b" style="left:11px;top:256.2px;width:21px;height:21px;color:#0c1116;"><use href="#i-sitemap"/></svg>
<div class="t" style="left:38px;top:259.57px;font-size:12.3px;line-height:14.76px;color:#1d2c3c;letter-spacing:0.05px;">Inventory</div>
<svg class="b" style="left:210.25px;top:260.45px;width:12.5px;height:12.5px;color:#0c1116;"><use href="#i-chev"/></svg>
<div class="b" style="left:0px;top:288.5px;width:235px;height:117px;background:#f0f4f9;"></div>
<div class="b" style="left:0px;top:288.5px;width:2.4px;height:117px;background:#0d2b47;"></div>
<div class="t" style="left:37.8px;top:338.67px;font-size:12.3px;line-height:14.76px;color:#1d2c3c;letter-spacing:-0.17px;">Purchase Order</div>
<div class="t" style="left:37.8px;top:361.27px;font-size:12.3px;line-height:14.76px;color:#1d2c3c;letter-spacing:0.1px;">Vendor list</div>
<div class="t" style="left:37.8px;top:383.87px;font-size:12.3px;line-height:14.76px;color:#1d2c3c;letter-spacing:-0.12px;">Stock count</div>
<svg class="b" style="left:10.5px;top:297.3px;width:22px;height:22px;color:#0c1116;"><use href="#i-cart"/></svg>
<div class="t" style="left:38px;top:301.17px;font-size:12.3px;line-height:14.76px;color:#1d2c3c;letter-spacing:-0.1px;">Orders</div>
<svg class="b" style="left:210.25px;top:300.05px;width:12.5px;height:12.5px;color:#0c1116;"><use href="#i-chev"/></svg>
<svg class="b" style="left:11px;top:416.6px;width:21px;height:21px;color:#0c1116;"><use href="#i-usertag"/></svg>
<div class="t" style="left:38px;top:419.97px;font-size:12.3px;line-height:14.76px;color:#1d2c3c;letter-spacing:-0.13px;">Customers</div>
<svg class="b" style="left:210.25px;top:420.85px;width:12.5px;height:12.5px;color:#0c1116;"><use href="#i-chev"/></svg>
<svg class="b" style="left:11px;top:458.9px;width:21px;height:21px;color:#0c1116;"><use href="#i-pct"/></svg>
<div class="t" style="left:38px;top:462.27px;font-size:12.3px;line-height:14.76px;color:#1d2c3c;letter-spacing:-0.02px;">Promotions</div>
<svg class="b" style="left:210.25px;top:463.15px;width:12.5px;height:12.5px;color:#0c1116;"><use href="#i-chev"/></svg>
<svg class="b" style="left:11px;top:502.9px;width:21px;height:21px;color:#0c1116;"><use href="#i-pie"/></svg>
<div class="t" style="left:38px;top:506.27px;font-size:12.3px;line-height:14.76px;color:#0c1a2a;font-weight:700;letter-spacing:-0.32px;">Reports</div>
<svg class="b" style="left:210.25px;top:507.15px;width:12.5px;height:12.5px;color:#0c1116;"><use href="#i-chev"/></svg>
<svg class="b" style="left:11.75px;top:549.55px;width:19.5px;height:19.5px;color:#0c1116;"><use href="#i-spark"/></svg>
<div class="t" style="left:38px;top:552.17px;font-size:12.3px;line-height:14.76px;color:#1d2c3c;letter-spacing:-0.02px;">AI Insights</div>
<svg class="b" style="left:210.25px;top:553.05px;width:12.5px;height:12.5px;color:#0c1116;"><use href="#i-chev"/></svg>
<svg class="b" style="left:11px;top:594.7px;width:21px;height:21px;color:#0c1116;"><use href="#i-users"/></svg>
<div class="t" style="left:38px;top:598.07px;font-size:12.3px;line-height:14.76px;color:#1d2c3c;letter-spacing:-0.28px;">Users</div>
<svg class="b" style="left:210.25px;top:598.95px;width:12.5px;height:12.5px;color:#0c1116;"><use href="#i-chev"/></svg>
<svg class="b" style="left:11px;top:636.4px;width:21px;height:21px;color:#0c1116;"><use href="#i-tools"/></svg>
<div class="t" style="left:38px;top:639.77px;font-size:12.3px;line-height:14.76px;color:#1d2c3c;">Settings &amp; Integrations</div>
<svg class="b" style="left:210.25px;top:640.65px;width:12.5px;height:12.5px;color:#0c1116;"><use href="#i-chev"/></svg>
<svg class="b" style="left:11px;top:681.1px;width:21px;height:21px;color:#0c1116;"><use href="#i-unlock"/></svg>
<div class="t" style="left:38px;top:684.47px;font-size:12.3px;line-height:14.76px;color:#1d2c3c;letter-spacing:-0.15px;">Security Compliances</div>
<svg class="b" style="left:210.25px;top:685.35px;width:12.5px;height:12.5px;color:#0c1116;"><use href="#i-chev"/></svg>
<div class="b" style="left:12px;top:713.9px;width:212px;height:33px;background:#f0f4f9;border-radius:4px;"></div>
<svg class="b" style="left:55.35px;top:726.15px;width:8.5px;height:8.5px;color:#0c1a2a;"><use href="#i-edit"/></svg>
<div class="t" style="left:126.5px;top:724.89px;font-size:9.5px;line-height:11.4px;color:#0c1a2a;font-weight:700;letter-spacing:0.2px;transform:translateX(-50%);">Manage Pages/Widgets</div>
<div class="b" style="left:0px;top:883px;width:235.5px;height:43px;background:#f0f4f9;"></div>
<svg class="b" style="left:110.5px;top:897px;width:15px;height:15px;color:#0b2239;"><use href="#i-ll"/></svg>
<div class="t" style="left:259.42px;top:81.19px;font-size:9.4px;line-height:11.28px;color:#5b7896;letter-spacing:-0.09px;">ORDERS &gt; PURCHASE ORDER &gt; </div>
<div class="t" style="left:410.27px;top:81.19px;font-size:9.4px;line-height:11.28px;color:#2779b4;letter-spacing:0.22px;">SUMMARY</div>
<div class="t" style="left:259.42px;top:103.41px;font-size:21.3px;line-height:25.56px;color:#0b2239;font-weight:700;letter-spacing:-0.41px;">Summary</div>
<div class="t" style="left:259.42px;top:132.74px;font-size:9.3px;line-height:11.16px;color:#2b3a4a;letter-spacing:0.24px;">Track, manage, and create purchase orders to streamline your inventory and vendor operations.</div>
<div class="b" style="left:1213.44px;top:97.04px;width:65.02px;height:31.21px;background:#0c1116;border-radius:5px;"></div>
<div class="t" style="left:1245.69px;top:105.51px;font-size:12.3px;line-height:14.76px;color:#fff;letter-spacing:-0.25px;transform:translateX(-50%);">NEW PO</div>
<div class="b" style="left:259.42px;top:150.64px;width:947.78px;height:1px;background:#cfd4da;"></div>
<div class="t" style="left:266.7px;top:172.62px;font-size:12.3px;line-height:14.76px;color:#2b3a4a;letter-spacing:-0.09px;">Summary</div>
<div class="t" style="left:342.13px;top:172.62px;font-size:12.3px;line-height:14.76px;color:#2b3a4a;letter-spacing:-0.18px;">Purchase Order</div>
<div class="t" style="left:449.8px;top:172.62px;font-size:12.3px;line-height:14.76px;color:#2b3a4a;letter-spacing:-0.16px;">Purchase Order Return</div>
<div class="t" style="left:597.02px;top:172.62px;font-size:12.3px;line-height:14.76px;color:#2b3a4a;letter-spacing:-0.08px;">Purchase Bill</div>
<div class="t" style="left:690.65px;top:172.62px;font-size:12.3px;line-height:14.76px;color:#2b3a4a;letter-spacing:-0.04px;">Restocking alerts</div>
<div class="t" style="left:807.17px;top:172.62px;font-size:12.3px;line-height:14.76px;color:#2b3a4a;letter-spacing:-0.1px;">Forecasting/ sale or new purchase analysis</div>
<div class="t" style="left:1062.06px;top:172.62px;font-size:12.3px;line-height:14.76px;color:#2b3a4a;letter-spacing:-0.15px;">PO Settings</div>
<div class="b" style="left:259.42px;top:194.32px;width:67.62px;height:2.2px;background:#0c1116;border-radius:1px;"></div>
<div class="b" style="left:259.42px;top:207.84px;width:1025.29px;height:651.26px;background:#fff;"></div>
<div class="b" style="left:270.38px;top:224.49px;width:2.2px;height:17.17px;background:#12476e;"></div>
<div class="t" style="left:277.62px;top:225.68px;font-size:12.3px;line-height:14.76px;color:#0c1a2a;font-weight:700;letter-spacing:-0.52px;">PO RECEIPTS</div>
<div class="b" style="left:932.02px;top:214.6px;width:340.2px;height:36.41px;background:#fff;border-radius:5px;border:1px solid #dde1e6;"></div>
<svg class="b" style="left:942.36px;top:222.35px;width:23px;height:23px;color:#0b2a48;"><use href="#i-search"/></svg>
<div class="t" style="left:972.07px;top:225.68px;font-size:12.3px;line-height:14.76px;color:#2b3a4a;letter-spacing:-0.41px;">Search</div>
<div class="b" style="left:1228.52px;top:220.85px;width:31.73px;height:24.45px;background:#f0f4f9;border-radius:3px;"></div>
<svg class="b" style="left:1236.39px;top:225.07px;width:16px;height:16px;color:#3a4a5a;"><use href="#i-sliders"/></svg>
<div class="b" style="left:271.38px;top:270.26px;width:1000.84px;height:26.53px;background:#f0f4f9;"></div>
<div class="t" style="left:333.28px;top:276.19px;font-size:12.2px;line-height:14.64px;color:#0c1a2a;font-weight:700;letter-spacing:-0.25px;transform:translateX(-50%);">PO NUMBER</div>
<div class="t" style="left:458.13px;top:276.19px;font-size:12.2px;line-height:14.64px;color:#0c1a2a;font-weight:700;letter-spacing:-0.15px;transform:translateX(-50%);">DATE</div>
<div class="t" style="left:571.53px;top:276.19px;font-size:12.2px;line-height:14.64px;color:#0c1a2a;font-weight:700;letter-spacing:-0.02px;transform:translateX(-50%);">DIVSION</div>
<div class="t" style="left:696.89px;top:276.19px;font-size:12.2px;line-height:14.64px;color:#0c1a2a;font-weight:700;letter-spacing:-0.03px;transform:translateX(-50%);">VENDOR</div>
<div class="t" style="left:834.22px;top:276.19px;font-size:12.2px;line-height:14.64px;color:#0c1a2a;font-weight:700;letter-spacing:-0.27px;transform:translateX(-50%);">ORDER NUMBER</div>
<div class="t" style="left:959.07px;top:276.19px;font-size:12.2px;line-height:14.64px;color:#0c1a2a;font-weight:700;letter-spacing:-0.26px;transform:translateX(-50%);">PHONE</div>
<div class="t" style="left:1084.43px;top:276.19px;font-size:12.2px;line-height:14.64px;color:#0c1a2a;font-weight:700;letter-spacing:-0.2px;transform:translateX(-50%);">STATUS</div>
<div class="t" style="left:1209.28px;top:276.19px;font-size:12.2px;line-height:14.64px;color:#0c1a2a;font-weight:700;letter-spacing:-0.19px;transform:translateX(-50%);">MORE OPTIONS</div>
<svg class="b" style="left:607.12px;top:278.27px;width:11px;height:11px;color:#0c1116;"><use href="#i-caret"/></svg>
<svg class="b" style="left:733.01px;top:278.27px;width:11px;height:11px;color:#0c1116;"><use href="#i-caret"/></svg>
<div class="t" style="left:333.28px;top:310.93px;font-size:9.7px;line-height:11.64px;color:#4a5562;transform:translateX(-50%);">101</div>
<div class="t" style="left:458.13px;top:310.93px;font-size:9.7px;line-height:11.64px;color:#4a5562;transform:translateX(-50%);">1/1/2024</div>
<div class="t" style="left:583.49px;top:310.93px;font-size:9.7px;line-height:11.64px;color:#4a5562;transform:translateX(-50%);">FOOD CHAIN</div>
<div class="t" style="left:708.86px;top:310.93px;font-size:9.7px;line-height:11.64px;color:#4a5562;transform:translateX(-50%);">MAPLELANE</div>
<div class="t" style="left:834.22px;top:310.93px;font-size:9.7px;line-height:11.64px;color:#4a5562;transform:translateX(-50%);">23987</div>
<div class="t" style="left:959.07px;top:310.93px;font-size:9.7px;line-height:11.64px;color:#4a5562;letter-spacing:0.43px;transform:translateX(-50%);">+1 (000)-000-0000</div>
<div class="b" style="left:1053.74px;top:307.76px;width:61.9px;height:17.6px;background:#ff8c2e;border-radius:3px;"></div>
<div class="t" style="left:1084.43px;top:311.8px;font-size:8.2px;line-height:9.84px;color:#3a1d00;transform:translateX(-50%);">Open</div>
<svg class="b" style="left:1182.22px;top:310.31px;width:12.5px;height:12.5px;color:#2b3a4a;"><use href="#i-edit"/></svg>
<svg class="b" style="left:1203.55px;top:310.31px;width:12.5px;height:12.5px;color:#2b3a4a;"><use href="#i-copy"/></svg>
<svg class="b" style="left:1224.35px;top:310.31px;width:12.5px;height:12.5px;color:#2b3a4a;"><use href="#i-trash"/></svg>
<div class="b" style="left:271.38px;top:336.35px;width:1000.84px;height:27px;background:#f0f4f9;"></div>
<div class="t" style="left:333.28px;top:344.23px;font-size:9.7px;line-height:11.64px;color:#4a5562;transform:translateX(-50%);">102</div>
<div class="t" style="left:458.13px;top:344.23px;font-size:9.7px;line-height:11.64px;color:#4a5562;transform:translateX(-50%);">2/1/2024</div>
<div class="t" style="left:583.49px;top:344.23px;font-size:9.7px;line-height:11.64px;color:#4a5562;transform:translateX(-50%);">FOOD CHAIN</div>
<div class="t" style="left:708.86px;top:344.23px;font-size:9.7px;line-height:11.64px;color:#4a5562;transform:translateX(-50%);">MAPLELANE</div>
<div class="t" style="left:834.22px;top:344.23px;font-size:9.7px;line-height:11.64px;color:#4a5562;transform:translateX(-50%);">87302</div>
<div class="t" style="left:959.07px;top:344.23px;font-size:9.7px;line-height:11.64px;color:#4a5562;letter-spacing:0.43px;transform:translateX(-50%);">+1 (000)-000-0000</div>
<div class="b" style="left:1053.74px;top:341.05px;width:61.9px;height:17.6px;background:#2fbf3a;border-radius:3px;"></div>
<div class="t" style="left:1084.43px;top:345.1px;font-size:8.2px;line-height:9.84px;color:#16300f;transform:translateX(-50%);">Commited</div>
<svg class="b" style="left:1173.38px;top:343.6px;width:12.5px;height:12.5px;color:#2b3a4a;"><use href="#i-edit"/></svg>
<svg class="b" style="left:1194.7px;top:343.6px;width:12.5px;height:12.5px;color:#2b3a4a;"><use href="#i-copy"/></svg>
<svg class="b" style="left:1213.43px;top:343.6px;width:12.5px;height:12.5px;color:#2b3a4a;"><use href="#i-print"/></svg>
<svg class="b" style="left:1233.2px;top:343.6px;width:12.5px;height:12.5px;color:#2b3a4a;"><use href="#i-trash"/></svg>
<div class="t" style="left:333.28px;top:377.52px;font-size:9.7px;line-height:11.64px;color:#4a5562;transform:translateX(-50%);">103</div>
<div class="t" style="left:458.13px;top:377.52px;font-size:9.7px;line-height:11.64px;color:#4a5562;transform:translateX(-50%);">2/2/2024</div>
<div class="t" style="left:583.49px;top:377.52px;font-size:9.7px;line-height:11.64px;color:#4a5562;transform:translateX(-50%);">FOOD CHAIN</div>
<div class="t" style="left:708.86px;top:377.52px;font-size:9.7px;line-height:11.64px;color:#4a5562;transform:translateX(-50%);">MAPLELANE</div>
<div class="t" style="left:834.22px;top:377.52px;font-size:9.7px;line-height:11.64px;color:#4a5562;transform:translateX(-50%);">98472</div>
<div class="t" style="left:959.07px;top:377.52px;font-size:9.7px;line-height:11.64px;color:#4a5562;letter-spacing:0.43px;transform:translateX(-50%);">+1 (000)-000-0000</div>
<div class="b" style="left:1053.74px;top:374.34px;width:61.9px;height:17.6px;background:#2fbf3a;border-radius:3px;"></div>
<div class="t" style="left:1084.43px;top:378.39px;font-size:8.2px;line-height:9.84px;color:#16300f;transform:translateX(-50%);">Commited</div>
<svg class="b" style="left:1173.38px;top:376.89px;width:12.5px;height:12.5px;color:#2b3a4a;"><use href="#i-edit"/></svg>
<svg class="b" style="left:1194.7px;top:376.89px;width:12.5px;height:12.5px;color:#2b3a4a;"><use href="#i-copy"/></svg>
<svg class="b" style="left:1213.43px;top:376.89px;width:12.5px;height:12.5px;color:#2b3a4a;"><use href="#i-print"/></svg>
<svg class="b" style="left:1233.2px;top:376.89px;width:12.5px;height:12.5px;color:#2b3a4a;"><use href="#i-trash"/></svg>
<div class="b" style="left:271.38px;top:402.94px;width:1000.84px;height:27px;background:#f0f4f9;"></div>
<div class="t" style="left:333.28px;top:410.81px;font-size:9.7px;line-height:11.64px;color:#4a5562;transform:translateX(-50%);">104</div>
<div class="t" style="left:458.13px;top:410.81px;font-size:9.7px;line-height:11.64px;color:#4a5562;transform:translateX(-50%);">2/3/2024</div>
<div class="t" style="left:583.49px;top:410.81px;font-size:9.7px;line-height:11.64px;color:#4a5562;transform:translateX(-50%);">FOOD CHAIN</div>
<div class="t" style="left:708.86px;top:410.81px;font-size:9.7px;line-height:11.64px;color:#4a5562;transform:translateX(-50%);">MAPLELANE</div>
<div class="t" style="left:834.22px;top:410.81px;font-size:9.7px;line-height:11.64px;color:#4a5562;transform:translateX(-50%);">23985</div>
<div class="t" style="left:959.07px;top:410.81px;font-size:9.7px;line-height:11.64px;color:#4a5562;letter-spacing:0.43px;transform:translateX(-50%);">+1 (000)-000-0000</div>
<div class="b" style="left:1053.74px;top:407.64px;width:61.9px;height:17.6px;background:#2fbf3a;border-radius:3px;"></div>
<div class="t" style="left:1084.43px;top:411.68px;font-size:8.2px;line-height:9.84px;color:#16300f;transform:translateX(-50%);">Delivered</div>
<svg class="b" style="left:1173.38px;top:410.19px;width:12.5px;height:12.5px;color:#2b3a4a;"><use href="#i-edit"/></svg>
<svg class="b" style="left:1194.7px;top:410.19px;width:12.5px;height:12.5px;color:#2b3a4a;"><use href="#i-copy"/></svg>
<svg class="b" style="left:1213.43px;top:410.19px;width:12.5px;height:12.5px;color:#2b3a4a;"><use href="#i-print"/></svg>
<svg class="b" style="left:1233.2px;top:410.19px;width:12.5px;height:12.5px;color:#2b3a4a;"><use href="#i-trash"/></svg>
<div class="t" style="left:333.28px;top:444.1px;font-size:9.7px;line-height:11.64px;color:#4a5562;transform:translateX(-50%);">105</div>
<div class="t" style="left:458.13px;top:444.1px;font-size:9.7px;line-height:11.64px;color:#4a5562;transform:translateX(-50%);">2/4/2024</div>
<div class="t" style="left:583.49px;top:444.1px;font-size:9.7px;line-height:11.64px;color:#4a5562;transform:translateX(-50%);">DRINK AND DEALS</div>
<div class="t" style="left:708.86px;top:444.1px;font-size:9.7px;line-height:11.64px;color:#4a5562;transform:translateX(-50%);">PRIMESOURCE</div>
<div class="t" style="left:834.22px;top:444.1px;font-size:9.7px;line-height:11.64px;color:#4a5562;transform:translateX(-50%);">79532</div>
<div class="t" style="left:959.07px;top:444.1px;font-size:9.7px;line-height:11.64px;color:#4a5562;letter-spacing:0.43px;transform:translateX(-50%);">+1 (000)-000-0000</div>
<div class="b" style="left:1053.74px;top:440.93px;width:61.9px;height:17.6px;background:#2fbf3a;border-radius:3px;"></div>
<div class="t" style="left:1084.43px;top:444.97px;font-size:8.2px;line-height:9.84px;color:#16300f;transform:translateX(-50%);">Delivered</div>
<svg class="b" style="left:1173.38px;top:443.48px;width:12.5px;height:12.5px;color:#2b3a4a;"><use href="#i-edit"/></svg>
<svg class="b" style="left:1194.7px;top:443.48px;width:12.5px;height:12.5px;color:#2b3a4a;"><use href="#i-copy"/></svg>
<svg class="b" style="left:1213.43px;top:443.48px;width:12.5px;height:12.5px;color:#2b3a4a;"><use href="#i-print"/></svg>
<svg class="b" style="left:1233.2px;top:443.48px;width:12.5px;height:12.5px;color:#2b3a4a;"><use href="#i-trash"/></svg>
<div class="b" style="left:271.38px;top:469.52px;width:1000.84px;height:27px;background:#f0f4f9;"></div>
<div class="t" style="left:333.28px;top:477.39px;font-size:9.7px;line-height:11.64px;color:#4a5562;transform:translateX(-50%);">106</div>
<div class="t" style="left:458.13px;top:477.39px;font-size:9.7px;line-height:11.64px;color:#4a5562;transform:translateX(-50%);">2/5/2024</div>
<div class="t" style="left:583.49px;top:477.39px;font-size:9.7px;line-height:11.64px;color:#4a5562;transform:translateX(-50%);">FOOD CHAIN</div>
<div class="t" style="left:708.86px;top:477.39px;font-size:9.7px;line-height:11.64px;color:#4a5562;transform:translateX(-50%);">MAPLELANE</div>
<div class="t" style="left:834.22px;top:477.39px;font-size:9.7px;line-height:11.64px;color:#4a5562;transform:translateX(-50%);">98732</div>
<div class="t" style="left:959.07px;top:477.39px;font-size:9.7px;line-height:11.64px;color:#4a5562;letter-spacing:0.43px;transform:translateX(-50%);">+1 (000)-000-0000</div>
<div class="b" style="left:1053.74px;top:474.22px;width:61.9px;height:17.6px;background:#2fbf3a;border-radius:3px;"></div>
<div class="t" style="left:1084.43px;top:478.26px;font-size:8.2px;line-height:9.84px;color:#16300f;transform:translateX(-50%);">Delivered</div>
<svg class="b" style="left:1173.38px;top:476.77px;width:12.5px;height:12.5px;color:#2b3a4a;"><use href="#i-edit"/></svg>
<svg class="b" style="left:1194.7px;top:476.77px;width:12.5px;height:12.5px;color:#2b3a4a;"><use href="#i-copy"/></svg>
<svg class="b" style="left:1213.43px;top:476.77px;width:12.5px;height:12.5px;color:#2b3a4a;"><use href="#i-print"/></svg>
<svg class="b" style="left:1233.2px;top:476.77px;width:12.5px;height:12.5px;color:#2b3a4a;"><use href="#i-trash"/></svg>
<div class="b" style="left:265.14px;top:497.59px;width:1013.32px;height:42.12px;background:#f0f4f9;"></div>
<div class="b" style="left:265.14px;top:501.75px;width:310.55px;height:7.28px;background:#c9cfd6;border-radius:4px;"></div>
<svg class="b" style="left:1267.72px;top:505.05px;width:9px;height:9px;color:#2b3a4a;"><use href="#i-list"/></svg>
<div class="b" style="left:1017.69px;top:521.86px;width:18px;height:18px;background:#fff;border-radius:3px;box-shadow:0 0.5px 2px rgba(20,40,80,0.18);"></div>
<svg class="b" style="left:1022.94px;top:527.11px;width:7.5px;height:7.5px;color:#2b3a4a;"><use href="#i-ll"/></svg>
<div class="b" style="left:1042.14px;top:521.86px;width:18px;height:18px;background:#fff;border-radius:3px;box-shadow:0 0.5px 2px rgba(20,40,80,0.18);"></div>
<svg class="b" style="left:1047.64px;top:527.36px;width:7px;height:7px;color:#2b3a4a;"><use href="#i-lt"/></svg>
<div class="b" style="left:1066.59px;top:521.86px;width:18px;height:18px;background:#0c1116;border-radius:3px;"></div>
<div class="t" style="left:1075.59px;top:525.83px;font-size:9.2px;line-height:11.04px;color:#fff;transform:translateX(-50%);">1</div>
<div class="b" style="left:1090.52px;top:521.86px;width:18px;height:18px;background:#fff;border-radius:3px;box-shadow:0 0.5px 2px rgba(20,40,80,0.18);"></div>
<div class="t" style="left:1099.52px;top:525.83px;font-size:9.2px;line-height:11.04px;color:#2b3a4a;transform:translateX(-50%);">2</div>
<div class="b" style="left:1114.97px;top:521.86px;width:18px;height:18px;background:#fff;border-radius:3px;box-shadow:0 0.5px 2px rgba(20,40,80,0.18);"></div>
<div class="t" style="left:1123.97px;top:525.83px;font-size:9.2px;line-height:11.04px;color:#2b3a4a;transform:translateX(-50%);">3</div>
<div class="b" style="left:1138.89px;top:521.86px;width:18px;height:18px;background:#fff;border-radius:3px;box-shadow:0 0.5px 2px rgba(20,40,80,0.18);"></div>
<div class="t" style="left:1147.89px;top:525.83px;font-size:9.2px;line-height:11.04px;color:#2b3a4a;transform:translateX(-50%);">4</div>
<div class="b" style="left:1163.34px;top:521.86px;width:18px;height:18px;background:#fff;border-radius:3px;box-shadow:0 0.5px 2px rgba(20,40,80,0.18);"></div>
<div class="t" style="left:1172.34px;top:525.83px;font-size:9.2px;line-height:11.04px;color:#2b3a4a;transform:translateX(-50%);">5</div>
<svg class="b" style="left:1192.27px;top:526.86px;width:8px;height:8px;color:#0c1116;"><use href="#i-dots"/></svg>
<div class="b" style="left:1211.72px;top:521.86px;width:18px;height:18px;background:#fff;border-radius:3px;box-shadow:0 0.5px 2px rgba(20,40,80,0.18);"></div>
<div class="t" style="left:1220.72px;top:525.83px;font-size:9.2px;line-height:11.04px;color:#2b3a4a;transform:translateX(-50%);">10</div>
<div class="b" style="left:1235.65px;top:521.86px;width:18px;height:18px;background:#fff;border-radius:3px;box-shadow:0 0.5px 2px rgba(20,40,80,0.18);"></div>
<svg class="b" style="left:1241.15px;top:527.36px;width:7px;height:7px;color:#2b3a4a;"><use href="#i-gt"/></svg>
<div class="b" style="left:1260.1px;top:521.86px;width:18px;height:18px;background:#fff;border-radius:3px;box-shadow:0 0.5px 2px rgba(20,40,80,0.18);"></div>
<svg class="b" style="left:1265.35px;top:527.11px;width:7.5px;height:7.5px;color:#2b3a4a;"><use href="#i-rr"/></svg>
<div class="b" style="left:270.38px;top:552.19px;width:2.2px;height:17.17px;background:#12476e;"></div>
<div class="t" style="left:277.62px;top:553.38px;font-size:12.3px;line-height:14.76px;color:#0c1a2a;font-weight:700;letter-spacing:-0.34px;">DRAFT ORDERS</div>
<div class="b" style="left:271.38px;top:588.6px;width:1000.84px;height:26.53px;background:#f0f4f9;"></div>
<div class="t" style="left:342.13px;top:594.53px;font-size:12.2px;line-height:14.64px;color:#0c1a2a;font-weight:700;letter-spacing:-0.12px;transform:translateX(-50%);">DPO NUMBER</div>
<div class="t" style="left:485.18px;top:594.53px;font-size:12.2px;line-height:14.64px;color:#0c1a2a;font-weight:700;letter-spacing:-0.23px;transform:translateX(-50%);">CREATED ON</div>
<div class="t" style="left:615.74px;top:594.53px;font-size:12.2px;line-height:14.64px;color:#0c1a2a;font-weight:700;letter-spacing:-0.02px;transform:translateX(-50%);">DIVSION</div>
<div class="t" style="left:759.32px;top:594.53px;font-size:12.2px;line-height:14.64px;color:#0c1a2a;font-weight:700;letter-spacing:-0.03px;transform:translateX(-50%);">VENDOR</div>
<div class="t" style="left:914.33px;top:594.53px;font-size:12.2px;line-height:14.64px;color:#0c1a2a;font-weight:700;transform:translateX(-50%);">QUANTITY</div>
<div class="t" style="left:1057.38px;top:594.53px;font-size:12.2px;line-height:14.64px;color:#0c1a2a;font-weight:700;letter-spacing:-0.2px;transform:translateX(-50%);">STATUS</div>
<div class="t" style="left:1200.43px;top:594.53px;font-size:12.2px;line-height:14.64px;color:#0c1a2a;font-weight:700;letter-spacing:-0.19px;transform:translateX(-50%);">MORE OPTIONS</div>
<svg class="b" style="left:651.86px;top:596.61px;width:11px;height:11px;color:#0c1116;"><use href="#i-caret"/></svg>
<svg class="b" style="left:795.43px;top:596.61px;width:11px;height:11px;color:#0c1116;"><use href="#i-caret"/></svg>
<div class="t" style="left:342.13px;top:629.27px;font-size:9.7px;line-height:11.64px;color:#4a5562;transform:translateX(-50%);">#101</div>
<div class="t" style="left:485.18px;top:629.27px;font-size:9.7px;line-height:11.64px;color:#4a5562;transform:translateX(-50%);">Today</div>
<div class="t" style="left:628.23px;top:629.27px;font-size:9.7px;line-height:11.64px;color:#4a5562;transform:translateX(-50%);">FOOD CHAIN</div>
<div class="t" style="left:771.28px;top:629.27px;font-size:9.7px;line-height:11.64px;color:#4a5562;transform:translateX(-50%);">MAPLELANE</div>
<div class="t" style="left:914.33px;top:629.27px;font-size:9.7px;line-height:11.64px;color:#4a5562;transform:translateX(-50%);">25</div>
<div class="b" style="left:1026.69px;top:626.1px;width:61.9px;height:17.6px;background:#f5b916;border-radius:3px;"></div>
<div class="t" style="left:1057.38px;top:630.14px;font-size:8.2px;line-height:9.84px;color:#3a2a00;transform:translateX(-50%);">Draft</div>
<svg class="b" style="left:1173.9px;top:628.65px;width:12.5px;height:12.5px;color:#2b3a4a;"><use href="#i-edit"/></svg>
<svg class="b" style="left:1194.7px;top:628.65px;width:12.5px;height:12.5px;color:#2b3a4a;"><use href="#i-merge"/></svg>
<svg class="b" style="left:1214.99px;top:628.65px;width:12.5px;height:12.5px;color:#2b3a4a;"><use href="#i-trash"/></svg>
<div class="b" style="left:271.38px;top:654.69px;width:1000.84px;height:27px;background:#f0f4f9;"></div>
<div class="t" style="left:342.13px;top:662.56px;font-size:9.7px;line-height:11.64px;color:#4a5562;transform:translateX(-50%);">#102</div>
<div class="t" style="left:485.18px;top:662.56px;font-size:9.7px;line-height:11.64px;color:#4a5562;transform:translateX(-50%);">Today</div>
<div class="t" style="left:628.23px;top:662.56px;font-size:9.7px;line-height:11.64px;color:#4a5562;transform:translateX(-50%);">FOOD CHAIN</div>
<div class="t" style="left:771.28px;top:662.56px;font-size:9.7px;line-height:11.64px;color:#4a5562;transform:translateX(-50%);">MAPLELANE</div>
<div class="t" style="left:914.33px;top:662.56px;font-size:9.7px;line-height:11.64px;color:#4a5562;transform:translateX(-50%);">50</div>
<div class="b" style="left:1026.69px;top:659.39px;width:61.9px;height:17.6px;background:#f5b916;border-radius:3px;"></div>
<div class="t" style="left:1057.38px;top:663.43px;font-size:8.2px;line-height:9.84px;color:#3a2a00;transform:translateX(-50%);">Draft</div>
<svg class="b" style="left:1173.9px;top:661.94px;width:12.5px;height:12.5px;color:#2b3a4a;"><use href="#i-edit"/></svg>
<svg class="b" style="left:1194.7px;top:661.94px;width:12.5px;height:12.5px;color:#2b3a4a;"><use href="#i-merge"/></svg>
<svg class="b" style="left:1214.99px;top:661.94px;width:12.5px;height:12.5px;color:#2b3a4a;"><use href="#i-trash"/></svg>
<div class="t" style="left:342.13px;top:695.86px;font-size:9.7px;line-height:11.64px;color:#4a5562;transform:translateX(-50%);">#103</div>
<div class="t" style="left:485.18px;top:695.86px;font-size:9.7px;line-height:11.64px;color:#4a5562;transform:translateX(-50%);">Today</div>
<div class="t" style="left:628.23px;top:695.86px;font-size:9.7px;line-height:11.64px;color:#4a5562;transform:translateX(-50%);">FOOD CHAIN</div>
<div class="t" style="left:771.28px;top:695.86px;font-size:9.7px;line-height:11.64px;color:#4a5562;transform:translateX(-50%);">MAPLELANE</div>
<div class="t" style="left:914.33px;top:695.86px;font-size:9.7px;line-height:11.64px;color:#4a5562;transform:translateX(-50%);">100</div>
<div class="b" style="left:1026.69px;top:692.68px;width:61.9px;height:17.6px;background:#f5b916;border-radius:3px;"></div>
<div class="t" style="left:1057.38px;top:696.73px;font-size:8.2px;line-height:9.84px;color:#3a2a00;transform:translateX(-50%);">Draft</div>
<svg class="b" style="left:1173.9px;top:695.23px;width:12.5px;height:12.5px;color:#2b3a4a;"><use href="#i-edit"/></svg>
<svg class="b" style="left:1194.7px;top:695.23px;width:12.5px;height:12.5px;color:#2b3a4a;"><use href="#i-merge"/></svg>
<svg class="b" style="left:1214.99px;top:695.23px;width:12.5px;height:12.5px;color:#2b3a4a;"><use href="#i-trash"/></svg>
<div class="b" style="left:271.38px;top:721.27px;width:1000.84px;height:27px;background:#f0f4f9;"></div>
<div class="t" style="left:342.13px;top:729.15px;font-size:9.7px;line-height:11.64px;color:#4a5562;transform:translateX(-50%);">#104</div>
<div class="t" style="left:485.18px;top:729.15px;font-size:9.7px;line-height:11.64px;color:#4a5562;transform:translateX(-50%);">Yesterday</div>
<div class="t" style="left:628.23px;top:729.15px;font-size:9.7px;line-height:11.64px;color:#4a5562;transform:translateX(-50%);">FOOD CHAIN</div>
<div class="t" style="left:771.28px;top:729.15px;font-size:9.7px;line-height:11.64px;color:#4a5562;transform:translateX(-50%);">MAPLELANE</div>
<div class="t" style="left:914.33px;top:729.15px;font-size:9.7px;line-height:11.64px;color:#4a5562;transform:translateX(-50%);">50</div>
<div class="b" style="left:1026.69px;top:725.97px;width:61.9px;height:17.6px;background:#f5b916;border-radius:3px;"></div>
<div class="t" style="left:1057.38px;top:730.02px;font-size:8.2px;line-height:9.84px;color:#3a2a00;transform:translateX(-50%);">Draft</div>
<svg class="b" style="left:1173.9px;top:728.52px;width:12.5px;height:12.5px;color:#2b3a4a;"><use href="#i-edit"/></svg>
<svg class="b" style="left:1194.7px;top:728.52px;width:12.5px;height:12.5px;color:#2b3a4a;"><use href="#i-merge"/></svg>
<svg class="b" style="left:1214.99px;top:728.52px;width:12.5px;height:12.5px;color:#2b3a4a;"><use href="#i-trash"/></svg>
<div class="t" style="left:342.13px;top:762.44px;font-size:9.7px;line-height:11.64px;color:#4a5562;transform:translateX(-50%);">#105</div>
<div class="t" style="left:485.18px;top:762.44px;font-size:9.7px;line-height:11.64px;color:#4a5562;transform:translateX(-50%);">Yesterday</div>
<div class="t" style="left:628.23px;top:762.44px;font-size:9.7px;line-height:11.64px;color:#4a5562;transform:translateX(-50%);">FOOD CHAIN</div>
<div class="t" style="left:771.28px;top:762.44px;font-size:9.7px;line-height:11.64px;color:#4a5562;transform:translateX(-50%);">MAPLELANE</div>
<div class="t" style="left:914.33px;top:762.44px;font-size:9.7px;line-height:11.64px;color:#4a5562;transform:translateX(-50%);">25</div>
<div class="b" style="left:1026.69px;top:759.27px;width:61.9px;height:17.6px;background:#f5b916;border-radius:3px;"></div>
<div class="t" style="left:1057.38px;top:763.31px;font-size:8.2px;line-height:9.84px;color:#3a2a00;transform:translateX(-50%);">Draft</div>
<svg class="b" style="left:1173.9px;top:761.82px;width:12.5px;height:12.5px;color:#2b3a4a;"><use href="#i-edit"/></svg>
<svg class="b" style="left:1194.7px;top:761.82px;width:12.5px;height:12.5px;color:#2b3a4a;"><use href="#i-merge"/></svg>
<svg class="b" style="left:1214.99px;top:761.82px;width:12.5px;height:12.5px;color:#2b3a4a;"><use href="#i-trash"/></svg>
<div class="b" style="left:271.38px;top:787.86px;width:1000.84px;height:27px;background:#f0f4f9;"></div>
<div class="t" style="left:342.13px;top:795.73px;font-size:9.7px;line-height:11.64px;color:#4a5562;transform:translateX(-50%);">#106</div>
<div class="t" style="left:485.18px;top:795.73px;font-size:9.7px;line-height:11.64px;color:#4a5562;transform:translateX(-50%);">Yesterday</div>
<div class="t" style="left:628.23px;top:795.73px;font-size:9.7px;line-height:11.64px;color:#4a5562;transform:translateX(-50%);">FOOD CHAIN</div>
<div class="t" style="left:771.28px;top:795.73px;font-size:9.7px;line-height:11.64px;color:#4a5562;transform:translateX(-50%);">MAPLELANE</div>
<div class="t" style="left:914.33px;top:795.73px;font-size:9.7px;line-height:11.64px;color:#4a5562;transform:translateX(-50%);">90</div>
<div class="b" style="left:1026.69px;top:792.56px;width:61.9px;height:17.6px;background:#f5b916;border-radius:3px;"></div>
<div class="t" style="left:1057.38px;top:796.6px;font-size:8.2px;line-height:9.84px;color:#3a2a00;transform:translateX(-50%);">Draft</div>
<svg class="b" style="left:1173.9px;top:795.11px;width:12.5px;height:12.5px;color:#2b3a4a;"><use href="#i-edit"/></svg>
<svg class="b" style="left:1194.7px;top:795.11px;width:12.5px;height:12.5px;color:#2b3a4a;"><use href="#i-merge"/></svg>
<svg class="b" style="left:1214.99px;top:795.11px;width:12.5px;height:12.5px;color:#2b3a4a;"><use href="#i-trash"/></svg>
<div class="b" style="left:265.14px;top:815.92px;width:1013.32px;height:43.18px;background:#f0f4f9;"></div>
<div class="b" style="left:265.14px;top:820.09px;width:310.55px;height:7.28px;background:#c9cfd6;border-radius:4px;"></div>
<svg class="b" style="left:1267.72px;top:823.39px;width:9px;height:9px;color:#2b3a4a;"><use href="#i-list"/></svg>
<div class="b" style="left:1017.69px;top:840.22px;width:18px;height:18px;background:#fff;border-radius:3px;box-shadow:0 0.5px 2px rgba(20,40,80,0.18);"></div>
<svg class="b" style="left:1022.94px;top:845.47px;width:7.5px;height:7.5px;color:#2b3a4a;"><use href="#i-ll"/></svg>
<div class="b" style="left:1042.14px;top:840.22px;width:18px;height:18px;background:#fff;border-radius:3px;box-shadow:0 0.5px 2px rgba(20,40,80,0.18);"></div>
<svg class="b" style="left:1047.64px;top:845.72px;width:7px;height:7px;color:#2b3a4a;"><use href="#i-lt"/></svg>
<div class="b" style="left:1066.59px;top:840.22px;width:18px;height:18px;background:#0c1116;border-radius:3px;"></div>
<div class="t" style="left:1075.59px;top:844.18px;font-size:9.2px;line-height:11.04px;color:#fff;transform:translateX(-50%);">1</div>
<div class="b" style="left:1090.52px;top:840.22px;width:18px;height:18px;background:#fff;border-radius:3px;box-shadow:0 0.5px 2px rgba(20,40,80,0.18);"></div>
<div class="t" style="left:1099.52px;top:844.18px;font-size:9.2px;line-height:11.04px;color:#2b3a4a;transform:translateX(-50%);">2</div>
<div class="b" style="left:1114.97px;top:840.22px;width:18px;height:18px;background:#fff;border-radius:3px;box-shadow:0 0.5px 2px rgba(20,40,80,0.18);"></div>
<div class="t" style="left:1123.97px;top:844.18px;font-size:9.2px;line-height:11.04px;color:#2b3a4a;transform:translateX(-50%);">3</div>
<div class="b" style="left:1138.89px;top:840.22px;width:18px;height:18px;background:#fff;border-radius:3px;box-shadow:0 0.5px 2px rgba(20,40,80,0.18);"></div>
<div class="t" style="left:1147.89px;top:844.18px;font-size:9.2px;line-height:11.04px;color:#2b3a4a;transform:translateX(-50%);">4</div>
<div class="b" style="left:1163.34px;top:840.22px;width:18px;height:18px;background:#fff;border-radius:3px;box-shadow:0 0.5px 2px rgba(20,40,80,0.18);"></div>
<div class="t" style="left:1172.34px;top:844.18px;font-size:9.2px;line-height:11.04px;color:#2b3a4a;transform:translateX(-50%);">5</div>
<svg class="b" style="left:1192.27px;top:845.22px;width:8px;height:8px;color:#0c1116;"><use href="#i-dots"/></svg>
<div class="b" style="left:1211.72px;top:840.22px;width:18px;height:18px;background:#fff;border-radius:3px;box-shadow:0 0.5px 2px rgba(20,40,80,0.18);"></div>
<div class="t" style="left:1220.72px;top:844.18px;font-size:9.2px;line-height:11.04px;color:#2b3a4a;transform:translateX(-50%);">10</div>
<div class="b" style="left:1235.65px;top:840.22px;width:18px;height:18px;background:#fff;border-radius:3px;box-shadow:0 0.5px 2px rgba(20,40,80,0.18);"></div>
<svg class="b" style="left:1241.15px;top:845.72px;width:7px;height:7px;color:#2b3a4a;"><use href="#i-gt"/></svg>
<div class="b" style="left:1260.1px;top:840.22px;width:18px;height:18px;background:#fff;border-radius:3px;box-shadow:0 0.5px 2px rgba(20,40,80,0.18);"></div>
<svg class="b" style="left:1265.35px;top:845.47px;width:7.5px;height:7.5px;color:#2b3a4a;"><use href="#i-rr"/></svg>
<div class="b" style="left:1230.6px;top:866.38px;width:42px;height:42px;background:#fff;border-radius:6px;border:1px solid #7c3aed;"></div>
<svg class="b" style="left:1240.6px;top:876.88px;width:22px;height:22px;color:#6d28d9;"><use href="#i-robot"/></svg>
</div></div>
<div class="fr" style="left:1384px;top:1371px;width:1328px;height:945px">
<div class="sc" style="left:9.7px;top:9px;right:9.7px;bottom:9px;border-radius:9px">
<div class="b" style="left:-0.7px;top:0px;width:1309px;height:61px;background:#071e32;"></div>
<div class="t" style="left:36.3px;top:20.47px;font-size:17.3px;line-height:20.76px;color:#e6ecf3;">Store Name</div>
<div class="b" style="left:1181.3px;top:16px;width:103px;height:29px;background:#f0f4f9;border-radius:5px;"></div>
<div class="t" style="left:1201.3px;top:17.61px;font-size:9.3px;line-height:11.16px;color:#0b2239;transform:translateX(-50%);">Tue</div>
<div class="t" style="left:1201.3px;top:31.11px;font-size:9.3px;line-height:11.16px;color:#0b2239;transform:translateX(-50%);">15</div>
<div class="t" style="left:1217.3px;top:18.32px;font-size:21px;line-height:25.2px;color:#0b2239;letter-spacing:0.29px;">13:23</div>
<div class="b" style="left:-0.7px;top:61px;width:67px;height:864.5px;background:#fff;"></div>
<div class="b" style="left:7.8px;top:72.5px;width:49px;height:49px;background:#0c1116;border-radius:50%;"></div>
<svg class="b" style="left:21.3px;top:179px;width:22px;height:22px;color:#0c1116;"><use href="#i-search"/></svg>
<svg class="b" style="left:20.8px;top:243.7px;width:23px;height:23px;color:#0c1116;"><use href="#i-dash"/></svg>
<svg class="b" style="left:21.8px;top:288.5px;width:21px;height:21px;color:#0c1116;"><use href="#i-sitemap"/></svg>
<svg class="b" style="left:21.8px;top:331.5px;width:21px;height:21px;color:#0c1116;"><use href="#i-cart"/></svg>
<svg class="b" style="left:21.8px;top:374.5px;width:21px;height:21px;color:#0c1116;"><use href="#i-usertag"/></svg>
<svg class="b" style="left:21.8px;top:417.5px;width:21px;height:21px;color:#0c1116;"><use href="#i-pct"/></svg>
<svg class="b" style="left:21.8px;top:460.5px;width:21px;height:21px;color:#0c1116;"><use href="#i-pie"/></svg>
<svg class="b" style="left:22.3px;top:504px;width:20px;height:20px;color:#0c1116;"><use href="#i-spark"/></svg>
<svg class="b" style="left:21.8px;top:547px;width:21px;height:21px;color:#0c1116;"><use href="#i-users"/></svg>
<svg class="b" style="left:21.8px;top:590.5px;width:21px;height:21px;color:#0c1116;"><use href="#i-tools"/></svg>
<svg class="b" style="left:21.8px;top:633.5px;width:21px;height:21px;color:#0c1116;"><use href="#i-unlock"/></svg>
<div class="b" style="left:-0.7px;top:882.5px;width:67px;height:43px;background:#071e32;"></div>
<svg class="b" style="left:24.8px;top:896px;width:15px;height:15px;color:#fff;"><use href="#i-rr"/></svg>
<div class="t" style="left:98.25px;top:75.07px;font-size:20.3px;line-height:24.36px;color:#0b2239;font-weight:700;letter-spacing:0.47px;">Item Manager</div>
<div class="b" style="left:1197.41px;top:91.16px;width:73.39px;height:31.84px;background:#0c1116;border-radius:5px;"></div>
<div class="t" style="left:1234.1px;top:99.94px;font-size:12.3px;line-height:14.76px;color:#fff;letter-spacing:-0.26px;transform:translateX(-50%);">ADD ITEM</div>
<div class="t" style="left:105.8px;top:118.02px;font-size:12.3px;line-height:14.76px;color:#2b3a4a;letter-spacing:0.05px;">Item List</div>
<div class="t" style="left:175.41px;top:118.02px;font-size:12.3px;line-height:14.76px;color:#2b3a4a;letter-spacing:0.03px;">Supplier Management</div>
<div class="t" style="left:318.4px;top:118.02px;font-size:12.3px;line-height:14.76px;color:#2b3a4a;letter-spacing:-0.04px;">Facilities</div>
<div class="t" style="left:389.09px;top:118.02px;font-size:12.3px;line-height:14.76px;color:#2b3a4a;letter-spacing:-0.21px;">Sales Person</div>
<div class="t" style="left:482.44px;top:118.02px;font-size:12.3px;line-height:14.76px;color:#2b3a4a;letter-spacing:-0.06px;">Product Organizarion</div>
<div class="t" style="left:620.04px;top:118.02px;font-size:12.3px;line-height:14.76px;color:#2b3a4a;letter-spacing:-0.23px;">Barcode &amp; SKU</div>
<div class="t" style="left:726.34px;top:118.02px;font-size:12.3px;line-height:14.76px;color:#2b3a4a;letter-spacing:0.05px;">Report</div>
<div class="b" style="left:90.69px;top:140.03px;width:1193.59px;height:1px;background:#d9dde3;"></div>
<div class="b" style="left:98.25px;top:139.18px;width:62.05px;height:2.2px;background:#12304d;border-radius:1px;"></div>
<div class="b" style="left:90.69px;top:147.27px;width:833.68px;height:37.23px;background:#fff;border-radius:5px;"></div>
<svg class="b" style="left:101.3px;top:155.99px;width:22.5px;height:22.5px;color:#0b2a48;"><use href="#i-search"/></svg>
<div class="t" style="left:131.16px;top:159.03px;font-size:12.3px;line-height:14.76px;color:#2b3a4a;letter-spacing:-0.22px;">Enter SKU or Search For Products</div>
<div class="b" style="left:881.2px;top:153.21px;width:31.3px;height:25.36px;background:#f0f4f9;border-radius:3px;"></div>
<svg class="b" style="left:888.85px;top:157.89px;width:16px;height:16px;color:#3a4a5a;"><use href="#i-sliders"/></svg>
<div class="b" style="left:944.57px;top:160.46px;width:11.4px;height:11.4px;background:#fff;border-radius:50%;border:1px solid #1d2c3c;"></div>
<div class="t" style="left:963.22px;top:159.03px;font-size:12.3px;line-height:14.76px;color:#2b3a4a;letter-spacing:0.64px;">All</div>
<div class="b" style="left:991.52px;top:160.46px;width:11.4px;height:11.4px;background:#fff;border-radius:50%;border:1px solid #1d2c3c;"></div>
<div class="t" style="left:1009.63px;top:159.03px;font-size:12.3px;line-height:14.76px;color:#2b3a4a;letter-spacing:0.08px;">Active</div>
<div class="b" style="left:1055.73px;top:160.46px;width:11.4px;height:11.4px;background:#fff;border-radius:50%;border:1px solid #1d2c3c;"></div>
<div class="t" style="left:1074.38px;top:159.03px;font-size:12.3px;line-height:14.76px;color:#2b3a4a;letter-spacing:-0.11px;">Inactive</div>
<div class="b" style="left:1128.57px;top:160.46px;width:11.4px;height:11.4px;background:#fff;border-radius:50%;border:1px solid #1d2c3c;"></div>
<div class="t" style="left:1147.22px;top:159.03px;font-size:12.3px;line-height:14.76px;color:#2b3a4a;letter-spacing:-0.05px;">Child Items</div>
<svg class="b" style="left:1246.72px;top:156.66px;width:19px;height:19px;color:#e11d2e;"><use href="#i-trashf"/></svg>
<div class="b" style="left:90.69px;top:190.98px;width:924.33px;height:669.11px;background:#fff;border-radius:3px;"></div>
<div class="b" style="left:96.63px;top:197.46px;width:918.39px;height:26.44px;background:#f0f4f9;"></div>
<div class="b" style="left:110.06px;top:204.71px;width:12px;height:12px;background:#fff;border-radius:2.5px;border:1px solid #3a4550;"></div>
<div class="t" style="left:206.71px;top:203.33px;font-size:12.2px;line-height:14.64px;color:#0c1a2a;font-weight:700;letter-spacing:-0.12px;transform:translateX(-50%);">PRODUCT NAME</div>
<div class="t" style="left:403.66px;top:203.33px;font-size:12.2px;line-height:14.64px;color:#0c1a2a;font-weight:700;letter-spacing:-0.69px;transform:translateX(-50%);">SKU</div>
<div class="t" style="left:948.65px;top:203.33px;font-size:12.2px;line-height:14.64px;color:#0c1a2a;font-weight:700;letter-spacing:-0.43px;transform:translateX(-50%);">SIZE</div>
<div class="t" style="left:285.49px;top:203.33px;font-size:12.2px;line-height:14.64px;color:#0c1a2a;font-weight:700;letter-spacing:0.03px;">QUANTITY</div>
<svg class="b" style="left:357.69px;top:205.41px;width:11px;height:11px;color:#0c1116;"><use href="#i-caret"/></svg>
<div class="t" style="left:435.5px;top:203.33px;font-size:12.2px;line-height:14.64px;color:#0c1a2a;font-weight:700;letter-spacing:-0.18px;">DEPARTMENT</div>
<svg class="b" style="left:527.66px;top:205.41px;width:11px;height:11px;color:#0c1116;"><use href="#i-caret"/></svg>
<div class="t" style="left:557.45px;top:203.33px;font-size:12.2px;line-height:14.64px;color:#0c1a2a;font-weight:700;letter-spacing:-0.38px;">CATEGORY</div>
<svg class="b" style="left:631.81px;top:205.41px;width:11px;height:11px;color:#0c1116;"><use href="#i-caret"/></svg>
<div class="t" style="left:662.13px;top:203.33px;font-size:12.2px;line-height:14.64px;color:#0c1a2a;font-weight:700;letter-spacing:-0.18px;">BRAND</div>
<svg class="b" style="left:715.44px;top:205.41px;width:11px;height:11px;color:#0c1116;"><use href="#i-caret"/></svg>
<div class="t" style="left:751.7px;top:203.33px;font-size:12.2px;line-height:14.64px;color:#0c1a2a;font-weight:700;letter-spacing:-0.46px;">PACK</div>
<svg class="b" style="left:793.68px;top:205.41px;width:11px;height:11px;color:#0c1116;"><use href="#i-caret"/></svg>
<div class="t" style="left:829.94px;top:203.33px;font-size:12.2px;line-height:14.64px;color:#0c1a2a;font-weight:700;letter-spacing:-0.34px;">PACK TYPE</div>
<svg class="b" style="left:906.46px;top:205.41px;width:11px;height:11px;color:#0c1116;"><use href="#i-caret"/></svg>
<div class="b" style="left:977.25px;top:200.41px;width:37.77px;height:20px;overflow:hidden"><div class="t" style="left:0;top:3.17px;font-size:12.2px;line-height:14.6px;font-weight:700;color:#0c1a2a;letter-spacing:0.3px">QUANTITY</div></div>
<div class="b" style="left:110.06px;top:238.16px;width:12px;height:12px;background:#fff;border-radius:2.5px;border:1px solid #3a4550;"></div>
<div class="t" style="left:206.71px;top:238.29px;font-size:9.6px;line-height:11.52px;color:#4a5562;letter-spacing:-0.12px;transform:translateX(-50%);">LAYS</div>
<div class="t" style="left:328.66px;top:238.18px;font-size:9.8px;line-height:11.76px;color:#1d2c3c;font-weight:700;transform:translateX(-50%);">25</div>
<div class="t" style="left:403.66px;top:238.29px;font-size:9.6px;line-height:11.52px;color:#4a5562;letter-spacing:-0.11px;transform:translateX(-50%);">#2957</div>
<div class="t" style="left:488.38px;top:238.29px;font-size:9.6px;line-height:11.52px;color:#4a5562;letter-spacing:-0.14px;transform:translateX(-50%);">FOOD</div>
<div class="t" style="left:601.69px;top:238.29px;font-size:9.6px;line-height:11.52px;color:#4a5562;letter-spacing:-0.12px;transform:translateX(-50%);">CHIPS</div>
<div class="t" style="left:695.58px;top:238.29px;font-size:9.6px;line-height:11.52px;color:#4a5562;letter-spacing:-0.12px;transform:translateX(-50%);">LAYS</div>
<div class="t" style="left:779.76px;top:238.29px;font-size:9.6px;line-height:11.52px;color:#4a5562;letter-spacing:-0.11px;transform:translateX(-50%);">12</div>
<div class="t" style="left:875.27px;top:238.29px;font-size:9.6px;line-height:11.52px;color:#4a5562;letter-spacing:-0.13px;transform:translateX(-50%);">PACKET</div>
<div class="t" style="left:948.65px;top:238.29px;font-size:9.6px;line-height:11.52px;color:#4a5562;letter-spacing:-0.11px;transform:translateX(-50%);">1</div>
<div class="t" style="left:1008.01px;top:238.29px;font-size:9.6px;line-height:11.52px;color:#4a5562;letter-spacing:-0.11px;transform:translateX(-50%);">1</div>
<div class="b" style="left:96.63px;top:263.85px;width:918.39px;height:26.6px;background:#f0f4f9;"></div>
<div class="b" style="left:110.06px;top:271.45px;width:12px;height:12px;background:#fff;border-radius:2.5px;border:1px solid #3a4550;"></div>
<div class="t" style="left:206.71px;top:271.58px;font-size:9.6px;line-height:11.52px;color:#4a5562;letter-spacing:-0.12px;transform:translateX(-50%);">HEINEKEN</div>
<div class="t" style="left:328.66px;top:271.47px;font-size:9.8px;line-height:11.76px;color:#1d2c3c;font-weight:700;transform:translateX(-50%);">30</div>
<div class="t" style="left:403.66px;top:271.58px;font-size:9.6px;line-height:11.52px;color:#4a5562;letter-spacing:-0.11px;transform:translateX(-50%);">#1846</div>
<div class="t" style="left:488.38px;top:271.58px;font-size:9.6px;line-height:11.52px;color:#4a5562;letter-spacing:-0.12px;transform:translateX(-50%);">DRINKS</div>
<div class="t" style="left:601.69px;top:271.58px;font-size:9.6px;line-height:11.52px;color:#4a5562;letter-spacing:-0.13px;transform:translateX(-50%);">BEER</div>
<div class="t" style="left:695.58px;top:271.58px;font-size:9.6px;line-height:11.52px;color:#4a5562;letter-spacing:-0.12px;transform:translateX(-50%);">HEINEKEN</div>
<div class="t" style="left:779.76px;top:271.58px;font-size:9.6px;line-height:11.52px;color:#4a5562;letter-spacing:-0.11px;transform:translateX(-50%);">12</div>
<div class="t" style="left:875.27px;top:271.58px;font-size:9.6px;line-height:11.52px;color:#4a5562;letter-spacing:-0.12px;transform:translateX(-50%);">BOTTLE</div>
<div class="t" style="left:948.65px;top:271.58px;font-size:9.6px;line-height:11.52px;color:#4a5562;letter-spacing:-0.11px;transform:translateX(-50%);">1</div>
<div class="t" style="left:1008.01px;top:271.58px;font-size:9.6px;line-height:11.52px;color:#4a5562;letter-spacing:-0.11px;transform:translateX(-50%);">1</div>
<div class="b" style="left:110.06px;top:304.74px;width:12px;height:12px;background:#fff;border-radius:2.5px;border:1px solid #3a4550;"></div>
<div class="t" style="left:206.71px;top:304.87px;font-size:9.6px;line-height:11.52px;color:#4a5562;letter-spacing:-0.11px;transform:translateX(-50%);">CHIPS AHOY!</div>
<div class="t" style="left:328.66px;top:304.76px;font-size:9.8px;line-height:11.76px;color:#e11d2e;font-weight:700;transform:translateX(-50%);">12</div>
<div class="t" style="left:403.66px;top:304.87px;font-size:9.6px;line-height:11.52px;color:#4a5562;letter-spacing:-0.11px;transform:translateX(-50%);">#9275</div>
<div class="t" style="left:488.38px;top:304.87px;font-size:9.6px;line-height:11.52px;color:#4a5562;letter-spacing:-0.14px;transform:translateX(-50%);">FOOD</div>
<div class="t" style="left:601.69px;top:304.87px;font-size:9.6px;line-height:11.52px;color:#4a5562;letter-spacing:-0.12px;transform:translateX(-50%);">COOKIE</div>
<div class="t" style="left:695.58px;top:304.87px;font-size:9.6px;line-height:11.52px;color:#4a5562;letter-spacing:-0.14px;transform:translateX(-50%);">AHOY</div>
<div class="t" style="left:779.76px;top:304.87px;font-size:9.6px;line-height:11.52px;color:#4a5562;letter-spacing:-0.11px;transform:translateX(-50%);">12</div>
<div class="t" style="left:875.27px;top:304.87px;font-size:9.6px;line-height:11.52px;color:#4a5562;letter-spacing:-0.13px;transform:translateX(-50%);">PACKET</div>
<div class="t" style="left:948.65px;top:304.87px;font-size:9.6px;line-height:11.52px;color:#4a5562;letter-spacing:-0.11px;transform:translateX(-50%);">1</div>
<div class="t" style="left:1008.01px;top:304.87px;font-size:9.6px;line-height:11.52px;color:#4a5562;letter-spacing:-0.11px;transform:translateX(-50%);">1</div>
<div class="b" style="left:96.63px;top:330.43px;width:918.39px;height:26.6px;background:#f0f4f9;"></div>
<div class="b" style="left:110.06px;top:338.03px;width:12px;height:12px;background:#fff;border-radius:2.5px;border:1px solid #3a4550;"></div>
<div class="t" style="left:206.71px;top:338.16px;font-size:9.6px;line-height:11.52px;color:#4a5562;letter-spacing:-0.11px;transform:translateX(-50%);">LAY'S CLASSIC</div>
<div class="t" style="left:328.66px;top:338.05px;font-size:9.8px;line-height:11.76px;color:#e11d2e;font-weight:700;transform:translateX(-50%);">18</div>
<div class="t" style="left:403.66px;top:338.16px;font-size:9.6px;line-height:11.52px;color:#4a5562;letter-spacing:-0.11px;transform:translateX(-50%);">#3682</div>
<div class="t" style="left:488.38px;top:338.16px;font-size:9.6px;line-height:11.52px;color:#4a5562;letter-spacing:-0.12px;transform:translateX(-50%);">DRINKS</div>
<div class="t" style="left:601.69px;top:338.16px;font-size:9.6px;line-height:11.52px;color:#4a5562;letter-spacing:-0.12px;transform:translateX(-50%);">CHIPS</div>
<div class="t" style="left:695.58px;top:338.16px;font-size:9.6px;line-height:11.52px;color:#4a5562;letter-spacing:-0.12px;transform:translateX(-50%);">LAYS</div>
<div class="t" style="left:779.76px;top:338.16px;font-size:9.6px;line-height:11.52px;color:#4a5562;letter-spacing:-0.11px;transform:translateX(-50%);">12</div>
<div class="t" style="left:875.27px;top:338.16px;font-size:9.6px;line-height:11.52px;color:#4a5562;letter-spacing:-0.13px;transform:translateX(-50%);">PACKET</div>
<div class="t" style="left:948.65px;top:338.16px;font-size:9.6px;line-height:11.52px;color:#4a5562;letter-spacing:-0.11px;transform:translateX(-50%);">1</div>
<div class="t" style="left:1008.01px;top:338.16px;font-size:9.6px;line-height:11.52px;color:#4a5562;letter-spacing:-0.11px;transform:translateX(-50%);">1</div>
<div class="b" style="left:110.06px;top:371.32px;width:12px;height:12px;background:#fff;border-radius:2.5px;border:1px solid #3a4550;"></div>
<div class="t" style="left:206.71px;top:371.45px;font-size:9.6px;line-height:11.52px;color:#4a5562;letter-spacing:-0.13px;transform:translateX(-50%);">MOUNTAIN DEW</div>
<div class="t" style="left:328.66px;top:371.34px;font-size:9.8px;line-height:11.76px;color:#1d2c3c;font-weight:700;transform:translateX(-50%);">22</div>
<div class="t" style="left:403.66px;top:371.45px;font-size:9.6px;line-height:11.52px;color:#4a5562;letter-spacing:-0.11px;transform:translateX(-50%);">#7194</div>
<div class="t" style="left:488.38px;top:371.45px;font-size:9.6px;line-height:11.52px;color:#4a5562;letter-spacing:-0.12px;transform:translateX(-50%);">DRINKS</div>
<div class="t" style="left:601.69px;top:371.45px;font-size:9.6px;line-height:11.52px;color:#4a5562;letter-spacing:-0.12px;transform:translateX(-50%);">ENERGY DRINK</div>
<div class="t" style="left:695.58px;top:371.45px;font-size:9.6px;line-height:11.52px;color:#4a5562;letter-spacing:-0.14px;transform:translateX(-50%);">DDS</div>
<div class="t" style="left:779.76px;top:371.45px;font-size:9.6px;line-height:11.52px;color:#4a5562;letter-spacing:-0.11px;transform:translateX(-50%);">12</div>
<div class="t" style="left:875.27px;top:371.45px;font-size:9.6px;line-height:11.52px;color:#4a5562;letter-spacing:-0.14px;transform:translateX(-50%);">CAN</div>
<div class="t" style="left:948.65px;top:371.45px;font-size:9.6px;line-height:11.52px;color:#4a5562;letter-spacing:-0.11px;transform:translateX(-50%);">1</div>
<div class="t" style="left:1008.01px;top:371.45px;font-size:9.6px;line-height:11.52px;color:#4a5562;letter-spacing:-0.11px;transform:translateX(-50%);">1</div>
<div class="b" style="left:96.63px;top:397.01px;width:918.39px;height:26.6px;background:#f0f4f9;"></div>
<div class="b" style="left:110.06px;top:404.61px;width:12px;height:12px;background:#fff;border-radius:2.5px;border:1px solid #3a4550;"></div>
<div class="t" style="left:206.71px;top:404.74px;font-size:9.6px;line-height:11.52px;color:#4a5562;letter-spacing:-0.12px;transform:translateX(-50%);">GUINNESS STOUT</div>
<div class="t" style="left:328.66px;top:404.63px;font-size:9.8px;line-height:11.76px;color:#e11d2e;font-weight:700;transform:translateX(-50%);">15</div>
<div class="t" style="left:403.66px;top:404.74px;font-size:9.6px;line-height:11.52px;color:#4a5562;letter-spacing:-0.11px;transform:translateX(-50%);">#4053</div>
<div class="t" style="left:488.38px;top:404.74px;font-size:9.6px;line-height:11.52px;color:#4a5562;letter-spacing:-0.12px;transform:translateX(-50%);">DRINKS</div>
<div class="t" style="left:601.69px;top:404.74px;font-size:9.6px;line-height:11.52px;color:#4a5562;letter-spacing:-0.13px;transform:translateX(-50%);">BEER</div>
<div class="t" style="left:695.58px;top:404.74px;font-size:9.6px;line-height:11.52px;color:#4a5562;letter-spacing:-0.13px;transform:translateX(-50%);">GUINNESS</div>
<div class="t" style="left:779.76px;top:404.74px;font-size:9.6px;line-height:11.52px;color:#4a5562;letter-spacing:-0.11px;transform:translateX(-50%);">12</div>
<div class="t" style="left:875.27px;top:404.74px;font-size:9.6px;line-height:11.52px;color:#4a5562;letter-spacing:-0.12px;transform:translateX(-50%);">BOTTLE</div>
<div class="t" style="left:948.65px;top:404.74px;font-size:9.6px;line-height:11.52px;color:#4a5562;letter-spacing:-0.11px;transform:translateX(-50%);">1</div>
<div class="t" style="left:1008.01px;top:404.74px;font-size:9.6px;line-height:11.52px;color:#4a5562;letter-spacing:-0.11px;transform:translateX(-50%);">1</div>
<div class="b" style="left:110.06px;top:437.9px;width:12px;height:12px;background:#fff;border-radius:2.5px;border:1px solid #3a4550;"></div>
<div class="t" style="left:206.71px;top:438.03px;font-size:9.6px;line-height:11.52px;color:#4a5562;letter-spacing:-0.12px;transform:translateX(-50%);">DORITOS NACHO CHEESE</div>
<div class="t" style="left:328.66px;top:437.92px;font-size:9.8px;line-height:11.76px;color:#1d2c3c;font-weight:700;transform:translateX(-50%);">28</div>
<div class="t" style="left:403.66px;top:438.03px;font-size:9.6px;line-height:11.52px;color:#4a5562;letter-spacing:-0.11px;transform:translateX(-50%);">#8529</div>
<div class="t" style="left:488.38px;top:438.03px;font-size:9.6px;line-height:11.52px;color:#4a5562;letter-spacing:-0.14px;transform:translateX(-50%);">FOOD</div>
<div class="t" style="left:601.69px;top:438.03px;font-size:9.6px;line-height:11.52px;color:#4a5562;letter-spacing:-0.11px;transform:translateX(-50%);">DIPS</div>
<div class="t" style="left:695.58px;top:438.03px;font-size:9.6px;line-height:11.52px;color:#4a5562;letter-spacing:-0.12px;transform:translateX(-50%);">DORITO</div>
<div class="t" style="left:779.76px;top:438.03px;font-size:9.6px;line-height:11.52px;color:#4a5562;letter-spacing:-0.11px;transform:translateX(-50%);">12</div>
<div class="t" style="left:875.27px;top:438.03px;font-size:9.6px;line-height:11.52px;color:#4a5562;letter-spacing:-0.13px;transform:translateX(-50%);">CANS</div>
<div class="t" style="left:948.65px;top:438.03px;font-size:9.6px;line-height:11.52px;color:#4a5562;letter-spacing:-0.11px;transform:translateX(-50%);">1</div>
<div class="t" style="left:1008.01px;top:438.03px;font-size:9.6px;line-height:11.52px;color:#4a5562;letter-spacing:-0.11px;transform:translateX(-50%);">1</div>
<div class="b" style="left:96.63px;top:463.59px;width:918.39px;height:26.6px;background:#f0f4f9;"></div>
<div class="b" style="left:110.06px;top:471.19px;width:12px;height:12px;background:#fff;border-radius:2.5px;border:1px solid #3a4550;"></div>
<div class="t" style="left:206.71px;top:471.32px;font-size:9.6px;line-height:11.52px;color:#4a5562;letter-spacing:-0.12px;transform:translateX(-50%);">POTATO CHIPS</div>
<div class="t" style="left:328.66px;top:471.21px;font-size:9.8px;line-height:11.76px;color:#1d2c3c;font-weight:700;transform:translateX(-50%);">33</div>
<div class="t" style="left:403.66px;top:471.32px;font-size:9.6px;line-height:11.52px;color:#4a5562;letter-spacing:-0.11px;transform:translateX(-50%);">#6317</div>
<div class="t" style="left:488.38px;top:471.32px;font-size:9.6px;line-height:11.52px;color:#4a5562;letter-spacing:-0.14px;transform:translateX(-50%);">FOOD</div>
<div class="t" style="left:601.69px;top:471.32px;font-size:9.6px;line-height:11.52px;color:#4a5562;letter-spacing:-0.12px;transform:translateX(-50%);">CHIPS</div>
<div class="t" style="left:695.58px;top:471.32px;font-size:9.6px;line-height:11.52px;color:#4a5562;letter-spacing:-0.12px;transform:translateX(-50%);">KETTLE</div>
<div class="t" style="left:779.76px;top:471.32px;font-size:9.6px;line-height:11.52px;color:#4a5562;letter-spacing:-0.11px;transform:translateX(-50%);">12</div>
<div class="t" style="left:875.27px;top:471.32px;font-size:9.6px;line-height:11.52px;color:#4a5562;letter-spacing:-0.13px;transform:translateX(-50%);">PACKET</div>
<div class="t" style="left:948.65px;top:471.32px;font-size:9.6px;line-height:11.52px;color:#4a5562;letter-spacing:-0.11px;transform:translateX(-50%);">1</div>
<div class="t" style="left:1008.01px;top:471.32px;font-size:9.6px;line-height:11.52px;color:#4a5562;letter-spacing:-0.11px;transform:translateX(-50%);">1</div>
<div class="b" style="left:110.06px;top:504.48px;width:12px;height:12px;background:#fff;border-radius:2.5px;border:1px solid #3a4550;"></div>
<div class="t" style="left:206.71px;top:504.61px;font-size:9.6px;line-height:11.52px;color:#4a5562;letter-spacing:-0.11px;transform:translateX(-50%);">TOSTITOS TORTILLA CHIPS</div>
<div class="t" style="left:328.66px;top:504.5px;font-size:9.8px;line-height:11.76px;color:#e11d2e;font-weight:700;transform:translateX(-50%);">17</div>
<div class="t" style="left:403.66px;top:504.61px;font-size:9.6px;line-height:11.52px;color:#4a5562;letter-spacing:-0.11px;transform:translateX(-50%);">#0781</div>
<div class="t" style="left:488.38px;top:504.61px;font-size:9.6px;line-height:11.52px;color:#4a5562;letter-spacing:-0.14px;transform:translateX(-50%);">FOOD</div>
<div class="t" style="left:601.69px;top:504.61px;font-size:9.6px;line-height:11.52px;color:#4a5562;letter-spacing:-0.12px;transform:translateX(-50%);">CHIPS</div>
<div class="t" style="left:695.58px;top:504.61px;font-size:9.6px;line-height:11.52px;color:#4a5562;letter-spacing:-0.12px;transform:translateX(-50%);">TOSTITOS</div>
<div class="t" style="left:779.76px;top:504.61px;font-size:9.6px;line-height:11.52px;color:#4a5562;letter-spacing:-0.11px;transform:translateX(-50%);">12</div>
<div class="t" style="left:875.27px;top:504.61px;font-size:9.6px;line-height:11.52px;color:#4a5562;letter-spacing:-0.13px;transform:translateX(-50%);">PACKET</div>
<div class="t" style="left:948.65px;top:504.61px;font-size:9.6px;line-height:11.52px;color:#4a5562;letter-spacing:-0.11px;transform:translateX(-50%);">1</div>
<div class="t" style="left:1008.01px;top:504.61px;font-size:9.6px;line-height:11.52px;color:#4a5562;letter-spacing:-0.11px;transform:translateX(-50%);">1</div>
<div class="b" style="left:96.63px;top:530.17px;width:918.39px;height:26.6px;background:#d3d8dd;"></div>
<div class="b" style="left:110.06px;top:537.77px;width:12px;height:12px;background:#fff;border-radius:2.5px;border:1px solid #3a4550;"></div>
<div class="t" style="left:206.71px;top:537.9px;font-size:9.6px;line-height:11.52px;color:#4a5562;letter-spacing:-0.13px;transform:translateX(-50%);">COCA-COLA</div>
<div class="t" style="left:328.66px;top:537.79px;font-size:9.8px;line-height:11.76px;color:#1d2c3c;font-weight:700;transform:translateX(-50%);">29</div>
<div class="t" style="left:403.66px;top:537.9px;font-size:9.6px;line-height:11.52px;color:#4a5562;letter-spacing:-0.11px;transform:translateX(-50%);">#5160</div>
<div class="t" style="left:488.38px;top:537.9px;font-size:9.6px;line-height:11.52px;color:#4a5562;letter-spacing:-0.12px;transform:translateX(-50%);">DRINKS</div>
<div class="t" style="left:601.69px;top:537.9px;font-size:9.6px;line-height:11.52px;color:#4a5562;letter-spacing:-0.14px;transform:translateX(-50%);">SODA</div>
<div class="t" style="left:695.58px;top:537.9px;font-size:9.6px;line-height:11.52px;color:#4a5562;letter-spacing:-0.13px;transform:translateX(-50%);">COLA</div>
<div class="t" style="left:779.76px;top:537.9px;font-size:9.6px;line-height:11.52px;color:#4a5562;letter-spacing:-0.11px;transform:translateX(-50%);">12</div>
<div class="t" style="left:875.27px;top:537.9px;font-size:9.6px;line-height:11.52px;color:#4a5562;letter-spacing:-0.14px;transform:translateX(-50%);">CAN</div>
<div class="t" style="left:948.65px;top:537.9px;font-size:9.6px;line-height:11.52px;color:#4a5562;letter-spacing:-0.11px;transform:translateX(-50%);">1</div>
<div class="t" style="left:1008.01px;top:537.9px;font-size:9.6px;line-height:11.52px;color:#4a5562;letter-spacing:-0.11px;transform:translateX(-50%);">1</div>
<div class="b" style="left:110.06px;top:571.06px;width:12px;height:12px;background:#fff;border-radius:2.5px;border:1px solid #3a4550;"></div>
<div class="t" style="left:206.71px;top:571.19px;font-size:9.6px;line-height:11.52px;color:#4a5562;letter-spacing:-0.11px;transform:translateX(-50%);">PRINGLES ORIGINAL</div>
<div class="t" style="left:328.66px;top:571.08px;font-size:9.8px;line-height:11.76px;color:#e11d2e;font-weight:700;transform:translateX(-50%);">14</div>
<div class="t" style="left:403.66px;top:571.19px;font-size:9.6px;line-height:11.52px;color:#4a5562;letter-spacing:-0.11px;transform:translateX(-50%);">#3948</div>
<div class="t" style="left:488.38px;top:571.19px;font-size:9.6px;line-height:11.52px;color:#4a5562;letter-spacing:-0.14px;transform:translateX(-50%);">FOOD</div>
<div class="t" style="left:601.69px;top:571.19px;font-size:9.6px;line-height:11.52px;color:#4a5562;letter-spacing:-0.12px;transform:translateX(-50%);">CHIPS</div>
<div class="t" style="left:695.58px;top:571.19px;font-size:9.6px;line-height:11.52px;color:#4a5562;letter-spacing:-0.12px;transform:translateX(-50%);">PRINGLE</div>
<div class="t" style="left:779.76px;top:571.19px;font-size:9.6px;line-height:11.52px;color:#4a5562;letter-spacing:-0.11px;transform:translateX(-50%);">12</div>
<div class="t" style="left:875.27px;top:571.19px;font-size:9.6px;line-height:11.52px;color:#4a5562;letter-spacing:-0.13px;transform:translateX(-50%);">PACK</div>
<div class="t" style="left:948.65px;top:571.19px;font-size:9.6px;line-height:11.52px;color:#4a5562;letter-spacing:-0.11px;transform:translateX(-50%);">1</div>
<div class="t" style="left:1008.01px;top:571.19px;font-size:9.6px;line-height:11.52px;color:#4a5562;letter-spacing:-0.11px;transform:translateX(-50%);">1</div>
<div class="b" style="left:96.63px;top:596.75px;width:918.39px;height:26.6px;background:#f0f4f9;"></div>
<div class="b" style="left:110.06px;top:604.35px;width:12px;height:12px;background:#fff;border-radius:2.5px;border:1px solid #3a4550;"></div>
<div class="t" style="left:206.71px;top:604.48px;font-size:9.6px;line-height:11.52px;color:#4a5562;letter-spacing:-0.12px;transform:translateX(-50%);">SPRITE</div>
<div class="t" style="left:328.66px;top:604.37px;font-size:9.8px;line-height:11.76px;color:#1d2c3c;font-weight:700;transform:translateX(-50%);">31</div>
<div class="t" style="left:403.66px;top:604.48px;font-size:9.6px;line-height:11.52px;color:#4a5562;letter-spacing:-0.11px;transform:translateX(-50%);">#7415</div>
<div class="t" style="left:488.38px;top:604.48px;font-size:9.6px;line-height:11.52px;color:#4a5562;letter-spacing:-0.12px;transform:translateX(-50%);">DRINKS</div>
<div class="t" style="left:601.69px;top:604.48px;font-size:9.6px;line-height:11.52px;color:#4a5562;letter-spacing:-0.14px;transform:translateX(-50%);">SODA</div>
<div class="t" style="left:695.58px;top:604.48px;font-size:9.6px;line-height:11.52px;color:#4a5562;letter-spacing:-0.11px;transform:translateX(-50%);">THE SPRITE</div>
<div class="t" style="left:779.76px;top:604.48px;font-size:9.6px;line-height:11.52px;color:#4a5562;letter-spacing:-0.11px;transform:translateX(-50%);">12</div>
<div class="t" style="left:875.27px;top:604.48px;font-size:9.6px;line-height:11.52px;color:#4a5562;letter-spacing:-0.12px;transform:translateX(-50%);">BOTTLE</div>
<div class="t" style="left:948.65px;top:604.48px;font-size:9.6px;line-height:11.52px;color:#4a5562;letter-spacing:-0.11px;transform:translateX(-50%);">1</div>
<div class="t" style="left:1008.01px;top:604.48px;font-size:9.6px;line-height:11.52px;color:#4a5562;letter-spacing:-0.11px;transform:translateX(-50%);">1</div>
<div class="b" style="left:110.06px;top:637.64px;width:12px;height:12px;background:#fff;border-radius:2.5px;border:1px solid #3a4550;"></div>
<div class="t" style="left:206.71px;top:637.77px;font-size:9.6px;line-height:11.52px;color:#4a5562;letter-spacing:-0.12px;transform:translateX(-50%);">KETTLE BRAND CHIPS</div>
<div class="t" style="left:328.66px;top:637.66px;font-size:9.8px;line-height:11.76px;color:#e11d2e;font-weight:700;transform:translateX(-50%);">20</div>
<div class="t" style="left:403.66px;top:637.77px;font-size:9.6px;line-height:11.52px;color:#4a5562;letter-spacing:-0.11px;transform:translateX(-50%);">#2096</div>
<div class="t" style="left:488.38px;top:637.77px;font-size:9.6px;line-height:11.52px;color:#4a5562;letter-spacing:-0.14px;transform:translateX(-50%);">FOOD</div>
<div class="t" style="left:601.69px;top:637.77px;font-size:9.6px;line-height:11.52px;color:#4a5562;letter-spacing:-0.12px;transform:translateX(-50%);">CHIPS</div>
<div class="t" style="left:695.58px;top:637.77px;font-size:9.6px;line-height:11.52px;color:#4a5562;letter-spacing:-0.12px;transform:translateX(-50%);">KETTLE</div>
<div class="t" style="left:779.76px;top:637.77px;font-size:9.6px;line-height:11.52px;color:#4a5562;letter-spacing:-0.11px;transform:translateX(-50%);">12</div>
<div class="t" style="left:875.27px;top:637.77px;font-size:9.6px;line-height:11.52px;color:#4a5562;letter-spacing:-0.13px;transform:translateX(-50%);">PACKET</div>
<div class="t" style="left:948.65px;top:637.77px;font-size:9.6px;line-height:11.52px;color:#4a5562;letter-spacing:-0.11px;transform:translateX(-50%);">1</div>
<div class="t" style="left:1008.01px;top:637.77px;font-size:9.6px;line-height:11.52px;color:#4a5562;letter-spacing:-0.11px;transform:translateX(-50%);">1</div>
<div class="b" style="left:96.63px;top:663.33px;width:918.39px;height:26.6px;background:#f0f4f9;"></div>
<div class="b" style="left:110.06px;top:670.93px;width:12px;height:12px;background:#fff;border-radius:2.5px;border:1px solid #3a4550;"></div>
<div class="t" style="left:206.71px;top:671.06px;font-size:9.6px;line-height:11.52px;color:#4a5562;letter-spacing:-0.13px;transform:translateX(-50%);">BUDWEISER</div>
<div class="t" style="left:328.66px;top:670.95px;font-size:9.8px;line-height:11.76px;color:#1d2c3c;font-weight:700;transform:translateX(-50%);">27</div>
<div class="t" style="left:403.66px;top:671.06px;font-size:9.6px;line-height:11.52px;color:#4a5562;letter-spacing:-0.11px;transform:translateX(-50%);">#6834</div>
<div class="t" style="left:488.38px;top:671.06px;font-size:9.6px;line-height:11.52px;color:#4a5562;letter-spacing:-0.12px;transform:translateX(-50%);">DRINKS</div>
<div class="t" style="left:601.69px;top:671.06px;font-size:9.6px;line-height:11.52px;color:#4a5562;letter-spacing:-0.13px;transform:translateX(-50%);">BEER</div>
<div class="t" style="left:695.58px;top:671.06px;font-size:9.6px;line-height:11.52px;color:#4a5562;letter-spacing:-0.13px;transform:translateX(-50%);">BUDWEISER</div>
<div class="t" style="left:779.76px;top:671.06px;font-size:9.6px;line-height:11.52px;color:#4a5562;letter-spacing:-0.11px;transform:translateX(-50%);">12</div>
<div class="t" style="left:875.27px;top:671.06px;font-size:9.6px;line-height:11.52px;color:#4a5562;letter-spacing:-0.14px;transform:translateX(-50%);">CAN</div>
<div class="t" style="left:948.65px;top:671.06px;font-size:9.6px;line-height:11.52px;color:#4a5562;letter-spacing:-0.11px;transform:translateX(-50%);">1</div>
<div class="t" style="left:1008.01px;top:671.06px;font-size:9.6px;line-height:11.52px;color:#4a5562;letter-spacing:-0.11px;transform:translateX(-50%);">1</div>
<div class="b" style="left:110.06px;top:704.22px;width:12px;height:12px;background:#fff;border-radius:2.5px;border:1px solid #3a4550;"></div>
<div class="t" style="left:206.71px;top:704.35px;font-size:9.6px;line-height:11.52px;color:#4a5562;letter-spacing:-0.12px;transform:translateX(-50%);">RUFFLES ORIGINAL</div>
<div class="t" style="left:328.66px;top:704.24px;font-size:9.8px;line-height:11.76px;color:#e11d2e;font-weight:700;transform:translateX(-50%);">19</div>
<div class="t" style="left:403.66px;top:704.35px;font-size:9.6px;line-height:11.52px;color:#4a5562;letter-spacing:-0.11px;transform:translateX(-50%);">#1502</div>
<div class="t" style="left:488.38px;top:704.35px;font-size:9.6px;line-height:11.52px;color:#4a5562;letter-spacing:-0.14px;transform:translateX(-50%);">FOOD</div>
<div class="t" style="left:601.69px;top:704.35px;font-size:9.6px;line-height:11.52px;color:#4a5562;letter-spacing:-0.12px;transform:translateX(-50%);">CHIPS</div>
<div class="t" style="left:695.58px;top:704.35px;font-size:9.6px;line-height:11.52px;color:#4a5562;letter-spacing:-0.12px;transform:translateX(-50%);">RUFFLE</div>
<div class="t" style="left:779.76px;top:704.35px;font-size:9.6px;line-height:11.52px;color:#4a5562;letter-spacing:-0.11px;transform:translateX(-50%);">12</div>
<div class="t" style="left:875.27px;top:704.35px;font-size:9.6px;line-height:11.52px;color:#4a5562;letter-spacing:-0.13px;transform:translateX(-50%);">PACKET</div>
<div class="t" style="left:948.65px;top:704.35px;font-size:9.6px;line-height:11.52px;color:#4a5562;letter-spacing:-0.11px;transform:translateX(-50%);">1</div>
<div class="t" style="left:1008.01px;top:704.35px;font-size:9.6px;line-height:11.52px;color:#4a5562;letter-spacing:-0.11px;transform:translateX(-50%);">1</div>
<div class="b" style="left:96.63px;top:729.91px;width:918.39px;height:26.6px;background:#f0f4f9;"></div>
<div class="b" style="left:110.06px;top:737.51px;width:12px;height:12px;background:#fff;border-radius:2.5px;border:1px solid #3a4550;"></div>
<div class="t" style="left:206.71px;top:737.64px;font-size:9.6px;line-height:11.52px;color:#4a5562;letter-spacing:-0.11px;transform:translateX(-50%);">PEPSI</div>
<div class="t" style="left:328.66px;top:737.53px;font-size:9.8px;line-height:11.76px;color:#1d2c3c;font-weight:700;transform:translateX(-50%);">32</div>
<div class="t" style="left:403.66px;top:737.64px;font-size:9.6px;line-height:11.52px;color:#4a5562;letter-spacing:-0.11px;transform:translateX(-50%);">#9673</div>
<div class="t" style="left:488.38px;top:737.64px;font-size:9.6px;line-height:11.52px;color:#4a5562;letter-spacing:-0.12px;transform:translateX(-50%);">DRINKS</div>
<div class="t" style="left:601.69px;top:737.64px;font-size:9.6px;line-height:11.52px;color:#4a5562;letter-spacing:-0.14px;transform:translateX(-50%);">SODA</div>
<div class="t" style="left:695.58px;top:737.64px;font-size:9.6px;line-height:11.52px;color:#4a5562;letter-spacing:-0.11px;transform:translateX(-50%);">PEPSI</div>
<div class="t" style="left:779.76px;top:737.64px;font-size:9.6px;line-height:11.52px;color:#4a5562;letter-spacing:-0.11px;transform:translateX(-50%);">12</div>
<div class="t" style="left:875.27px;top:737.64px;font-size:9.6px;line-height:11.52px;color:#4a5562;letter-spacing:-0.12px;transform:translateX(-50%);">BOTTLE</div>
<div class="t" style="left:948.65px;top:737.64px;font-size:9.6px;line-height:11.52px;color:#4a5562;letter-spacing:-0.11px;transform:translateX(-50%);">1</div>
<div class="t" style="left:1008.01px;top:737.64px;font-size:9.6px;line-height:11.52px;color:#4a5562;letter-spacing:-0.11px;transform:translateX(-50%);">1</div>
<div class="b" style="left:110.06px;top:770.8px;width:12px;height:12px;background:#fff;border-radius:2.5px;border:1px solid #3a4550;"></div>
<div class="t" style="left:206.71px;top:770.93px;font-size:9.6px;line-height:11.52px;color:#4a5562;letter-spacing:-0.12px;transform:translateX(-50%);">FRITOS CORN CHIPS</div>
<div class="t" style="left:328.66px;top:770.82px;font-size:9.8px;line-height:11.76px;color:#1d2c3c;font-weight:700;transform:translateX(-50%);">24</div>
<div class="t" style="left:403.66px;top:770.93px;font-size:9.6px;line-height:11.52px;color:#4a5562;letter-spacing:-0.11px;transform:translateX(-50%);">#4251</div>
<div class="t" style="left:488.38px;top:770.93px;font-size:9.6px;line-height:11.52px;color:#4a5562;letter-spacing:-0.14px;transform:translateX(-50%);">FOOD</div>
<div class="t" style="left:601.69px;top:770.93px;font-size:9.6px;line-height:11.52px;color:#4a5562;letter-spacing:-0.12px;transform:translateX(-50%);">CHIPS</div>
<div class="t" style="left:695.58px;top:770.93px;font-size:9.6px;line-height:11.52px;color:#4a5562;letter-spacing:-0.12px;transform:translateX(-50%);">FRITOS</div>
<div class="t" style="left:779.76px;top:770.93px;font-size:9.6px;line-height:11.52px;color:#4a5562;letter-spacing:-0.11px;transform:translateX(-50%);">12</div>
<div class="t" style="left:875.27px;top:770.93px;font-size:9.6px;line-height:11.52px;color:#4a5562;letter-spacing:-0.13px;transform:translateX(-50%);">PACKET</div>
<div class="t" style="left:948.65px;top:770.93px;font-size:9.6px;line-height:11.52px;color:#4a5562;letter-spacing:-0.11px;transform:translateX(-50%);">1</div>
<div class="t" style="left:1008.01px;top:770.93px;font-size:9.6px;line-height:11.52px;color:#4a5562;letter-spacing:-0.11px;transform:translateX(-50%);">1</div>
<div class="b" style="left:96.63px;top:796.49px;width:918.39px;height:26.6px;background:#f0f4f9;"></div>
<div class="b" style="left:110.06px;top:804.09px;width:12px;height:12px;background:#fff;border-radius:2.5px;border:1px solid #3a4550;"></div>
<div class="t" style="left:206.71px;top:804.22px;font-size:9.6px;line-height:11.52px;color:#4a5562;letter-spacing:-0.11px;transform:translateX(-50%);">STELLA ARTOIS</div>
<div class="t" style="left:328.66px;top:804.11px;font-size:9.8px;line-height:11.76px;color:#e11d2e;font-weight:700;transform:translateX(-50%);">16</div>
<div class="t" style="left:403.66px;top:804.22px;font-size:9.6px;line-height:11.52px;color:#4a5562;letter-spacing:-0.11px;transform:translateX(-50%);">#8069</div>
<div class="t" style="left:488.38px;top:804.22px;font-size:9.6px;line-height:11.52px;color:#4a5562;letter-spacing:-0.12px;transform:translateX(-50%);">DRINKS</div>
<div class="t" style="left:601.69px;top:804.22px;font-size:9.6px;line-height:11.52px;color:#4a5562;letter-spacing:-0.13px;transform:translateX(-50%);">BEER</div>
<div class="t" style="left:695.58px;top:804.22px;font-size:9.6px;line-height:11.52px;color:#4a5562;letter-spacing:-0.12px;transform:translateX(-50%);">STELLA</div>
<div class="t" style="left:779.76px;top:804.22px;font-size:9.6px;line-height:11.52px;color:#4a5562;letter-spacing:-0.11px;transform:translateX(-50%);">12</div>
<div class="t" style="left:875.27px;top:804.22px;font-size:9.6px;line-height:11.52px;color:#4a5562;letter-spacing:-0.12px;transform:translateX(-50%);">BOTTLE</div>
<div class="t" style="left:948.65px;top:804.22px;font-size:9.6px;line-height:11.52px;color:#4a5562;letter-spacing:-0.11px;transform:translateX(-50%);">1</div>
<div class="t" style="left:1008.01px;top:804.22px;font-size:9.6px;line-height:11.52px;color:#4a5562;letter-spacing:-0.11px;transform:translateX(-50%);">1</div>
<div class="b" style="left:110.06px;top:837.38px;width:12px;height:12px;background:#fff;border-radius:2.5px;border:1px solid #3a4550;"></div>
<div class="t" style="left:206.71px;top:837.51px;font-size:9.6px;line-height:11.52px;color:#4a5562;letter-spacing:-0.12px;transform:translateX(-50%);">PRINGLES</div>
<div class="t" style="left:328.66px;top:837.4px;font-size:9.8px;line-height:11.76px;color:#1d2c3c;font-weight:700;transform:translateX(-50%);">21</div>
<div class="t" style="left:403.66px;top:837.51px;font-size:9.6px;line-height:11.52px;color:#4a5562;letter-spacing:-0.11px;transform:translateX(-50%);">#5320</div>
<div class="t" style="left:488.38px;top:837.51px;font-size:9.6px;line-height:11.52px;color:#4a5562;letter-spacing:-0.14px;transform:translateX(-50%);">FOOD</div>
<div class="t" style="left:601.69px;top:837.51px;font-size:9.6px;line-height:11.52px;color:#4a5562;letter-spacing:-0.12px;transform:translateX(-50%);">CHIPS</div>
<div class="t" style="left:695.58px;top:837.51px;font-size:9.6px;line-height:11.52px;color:#4a5562;letter-spacing:-0.12px;transform:translateX(-50%);">PRINGLE</div>
<div class="t" style="left:779.76px;top:837.51px;font-size:9.6px;line-height:11.52px;color:#4a5562;letter-spacing:-0.11px;transform:translateX(-50%);">12</div>
<div class="t" style="left:875.27px;top:837.51px;font-size:9.6px;line-height:11.52px;color:#4a5562;letter-spacing:-0.13px;transform:translateX(-50%);">PACKET</div>
<div class="t" style="left:948.65px;top:837.51px;font-size:9.6px;line-height:11.52px;color:#4a5562;letter-spacing:-0.11px;transform:translateX(-50%);">1</div>
<div class="t" style="left:1008.01px;top:837.51px;font-size:9.6px;line-height:11.52px;color:#4a5562;letter-spacing:-0.11px;transform:translateX(-50%);">1</div>
<div class="b" style="left:90.69px;top:865.49px;width:310.27px;height:7.55px;background:#c9cfd6;border-radius:4px;"></div>
<svg class="b" style="left:1004.05px;top:868.54px;width:9px;height:9px;color:#2b3a4a;"><use href="#i-list"/></svg>
<div class="b" style="left:754.03px;top:885.63px;width:18px;height:18px;background:#fff;border-radius:3px;box-shadow:0 0.5px 2px rgba(20,40,80,0.18);"></div>
<svg class="b" style="left:759.28px;top:890.88px;width:7.5px;height:7.5px;color:#2b3a4a;"><use href="#i-ll"/></svg>
<div class="b" style="left:778.31px;top:885.63px;width:18px;height:18px;background:#fff;border-radius:3px;box-shadow:0 0.5px 2px rgba(20,40,80,0.18);"></div>
<svg class="b" style="left:783.81px;top:891.13px;width:7px;height:7px;color:#2b3a4a;"><use href="#i-lt"/></svg>
<div class="b" style="left:802.6px;top:885.63px;width:18px;height:18px;background:#0c1116;border-radius:3px;"></div>
<div class="t" style="left:811.6px;top:889.59px;font-size:9.2px;line-height:11.04px;color:#fff;transform:translateX(-50%);">1</div>
<div class="b" style="left:826.88px;top:885.63px;width:18px;height:18px;background:#fff;border-radius:3px;box-shadow:0 0.5px 2px rgba(20,40,80,0.18);"></div>
<div class="t" style="left:835.88px;top:889.59px;font-size:9.2px;line-height:11.04px;color:#2b3a4a;transform:translateX(-50%);">2</div>
<div class="b" style="left:851.16px;top:885.63px;width:18px;height:18px;background:#fff;border-radius:3px;box-shadow:0 0.5px 2px rgba(20,40,80,0.18);"></div>
<div class="t" style="left:860.16px;top:889.59px;font-size:9.2px;line-height:11.04px;color:#2b3a4a;transform:translateX(-50%);">3</div>
<div class="b" style="left:875.44px;top:885.63px;width:18px;height:18px;background:#fff;border-radius:3px;box-shadow:0 0.5px 2px rgba(20,40,80,0.18);"></div>
<div class="t" style="left:884.44px;top:889.59px;font-size:9.2px;line-height:11.04px;color:#2b3a4a;transform:translateX(-50%);">4</div>
<div class="b" style="left:899.72px;top:885.63px;width:18px;height:18px;background:#fff;border-radius:3px;box-shadow:0 0.5px 2px rgba(20,40,80,0.18);"></div>
<div class="t" style="left:908.72px;top:889.59px;font-size:9.2px;line-height:11.04px;color:#2b3a4a;transform:translateX(-50%);">5</div>
<svg class="b" style="left:929px;top:890.63px;width:8px;height:8px;color:#0c1116;"><use href="#i-dots"/></svg>
<div class="b" style="left:948.29px;top:885.63px;width:18px;height:18px;background:#fff;border-radius:3px;box-shadow:0 0.5px 2px rgba(20,40,80,0.18);"></div>
<div class="t" style="left:957.29px;top:889.59px;font-size:9.2px;line-height:11.04px;color:#2b3a4a;transform:translateX(-50%);">10</div>
<div class="b" style="left:972.03px;top:885.63px;width:18px;height:18px;background:#fff;border-radius:3px;box-shadow:0 0.5px 2px rgba(20,40,80,0.18);"></div>
<svg class="b" style="left:977.53px;top:891.13px;width:7px;height:7px;color:#2b3a4a;"><use href="#i-gt"/></svg>
<div class="b" style="left:996.31px;top:885.63px;width:18px;height:18px;background:#fff;border-radius:3px;box-shadow:0 0.5px 2px rgba(20,40,80,0.18);"></div>
<svg class="b" style="left:1001.56px;top:890.88px;width:7.5px;height:7.5px;color:#2b3a4a;"><use href="#i-rr"/></svg>
<div class="b" style="left:1021.5px;top:191.52px;width:263.86px;height:666.41px;background:#fbfcfd;border-radius:10px;border:1px solid #e3e7ec;"></div>
<div class="b" style="left:1027.97px;top:202.85px;width:250.91px;height:47.48px;border-radius:6px;background:linear-gradient(95deg,#8b5cf6 0%,#7c9cf8 18%,#67d4fb 38%,#e879f9 68%,#fb7185 85%,#fb923c 100%);"></div>
<div class="b" style="left:1029.27px;top:204.15px;width:248.31px;height:44.88px;background:#fff;border-radius:5px;"></div>
<svg class="b" style="left:1044.83px;top:218.1px;width:17px;height:17px;color:#5b4cf0;"><use href="#i-sparkf"/></svg>
<div class="t" style="left:1090.03px;top:219.93px;font-size:11.5px;line-height:13.8px;color:#0c1a2a;font-weight:700;letter-spacing:0.15px;">AI Predicted Sales</div>
<div class="b" style="left:1221.15px;top:215.26px;width:41.01px;height:22.66px;background:#7c3aed;border-radius:3px;"></div>
<div class="t" style="left:1241.65px;top:221.38px;font-size:9px;line-height:10.8px;color:#fff;transform:translateX(-50%);">185</div>
<div class="b" style="left:1027.97px;top:256.27px;width:250.91px;height:341.58px;background:#fff;border-radius:6px;"></div>
<div class="t" style="left:1039.3px;top:265.25px;font-size:11.5px;line-height:13.8px;color:#0c1a2a;font-weight:700;letter-spacing:0.03px;">Quick Edit</div>
<div class="t" style="left:1039.3px;top:287.46px;font-size:9.5px;line-height:11.4px;color:#3a4a5a;letter-spacing:0.11px;">PRODUCT NAME</div>
<div class="b" style="left:1039.3px;top:300.52px;width:228.25px;height:27.52px;background:#eff1f4;border-bottom:1.5px solid #bcc2c9;"></div>
<div class="t" style="left:1045.8px;top:307.15px;font-size:12.3px;line-height:14.76px;color:#2b3a4a;">COCA-COLA</div>
<div class="b" style="left:1039.3px;top:335.05px;width:228.25px;height:28.06px;background:#eff1f4;border-bottom:1.5px solid #bcc2c9;"></div>
<div class="t" style="left:1045.8px;top:341.95px;font-size:12.3px;line-height:14.76px;color:#2b3a4a;">DRINKS</div>
<div class="t" style="left:1039.3px;top:370.55px;font-size:9.5px;line-height:11.4px;color:#3a4a5a;letter-spacing:0.04px;">QUANTITY(PACKS)</div>
<div class="b" style="left:1039.3px;top:383.62px;width:228.25px;height:27.52px;background:#eff1f4;border-bottom:1.5px solid #bcc2c9;"></div>
<div class="t" style="left:1045.8px;top:390.24px;font-size:12.3px;line-height:14.76px;color:#2b3a4a;">29</div>
<div class="t" style="left:1039.3px;top:419.12px;font-size:9.5px;line-height:11.4px;color:#3a4a5a;">Vendor Info</div>
<div class="b" style="left:1039.3px;top:438.12px;width:228.25px;height:27.52px;background:#eff1f4;border-bottom:1.5px solid #bcc2c9;"></div>
<div class="t" style="left:1045.8px;top:444.74px;font-size:12.3px;line-height:14.76px;color:#2b3a4a;">Food and drinks chain</div>
<div class="t" style="left:1039.3px;top:474.17px;font-size:9.5px;line-height:11.4px;color:#3a4a5a;">Cost Price</div>
<div class="t" style="left:1156.94px;top:474.17px;font-size:9.5px;line-height:11.4px;color:#3a4a5a;">Selling Price</div>
<div class="b" style="left:1039.3px;top:486.69px;width:110.62px;height:27.52px;background:#eff1f4;border-bottom:1.5px solid #bcc2c9;"></div>
<div class="t" style="left:1045.8px;top:493.32px;font-size:12.3px;line-height:14.76px;color:#2b3a4a;">$1.25</div>
<div class="b" style="left:1156.4px;top:486.69px;width:111.16px;height:27.52px;background:#eff1f4;border-bottom:1.5px solid #bcc2c9;"></div>
<div class="t" style="left:1162.9px;top:493.32px;font-size:12.3px;line-height:14.76px;color:#2b3a4a;">$ 4.50</div>
<div class="t" style="left:1039.3px;top:522.19px;font-size:9.5px;line-height:11.4px;color:#3a4a5a;">Taxed</div>
<div class="b" style="left:1045.38px;top:543.49px;width:11.6px;height:11.6px;background:#0c1a2a;border-radius:50%;"></div>
<div class="t" style="left:1063.59px;top:542.15px;font-size:12.3px;line-height:14.76px;color:#2b3a4a;">True</div>
<div class="b" style="left:1045.38px;top:572.08px;width:11.6px;height:11.6px;background:#fff;border-radius:50%;border:1px solid #1d2c3c;"></div>
<div class="t" style="left:1063.59px;top:570.75px;font-size:12.3px;line-height:14.76px;color:#2b3a4a;">False</div>
<div class="b" style="left:1027.97px;top:606.48px;width:250.91px;height:38.85px;background:#fff;border-radius:6px;"></div>
<div class="t" style="left:1039.3px;top:618.23px;font-size:12.3px;line-height:14.76px;color:#1d2c3c;">History</div>
<div class="b" style="left:1236.26px;top:612.42px;width:31.3px;height:26.44px;background:#f0f4f9;border-radius:3px;"></div>
<svg class="b" style="left:1243.91px;top:617.64px;width:16px;height:16px;color:#3a4a5a;"><use href="#i-sliders"/></svg>
<div class="b" style="left:1027.97px;top:652.89px;width:250.91px;height:205.05px;background:#fff;border-radius:6px;"></div>
<div class="t" style="left:1039.3px;top:666.18px;font-size:11.5px;line-height:13.8px;color:#1d2c3c;font-weight:700;letter-spacing:0.05px;">Today's Sales</div>
<div class="t" style="left:1039.3px;top:688.19px;font-size:14.5px;line-height:17.4px;color:#0c1a2a;font-weight:700;letter-spacing:0.27px;">150</div>
<div class="t" style="left:1068.44px;top:692.15px;font-size:8.6px;line-height:10.32px;color:#2fbf3a;font-weight:700;letter-spacing:1.18px;">+4%</div>
<div class="b" style="left:1076.19px;top:744.62px;width:10.4px;height:48.56px;background:#0b4a78;border-radius:1.5px;"></div>
<div class="b" style="left:1104.79px;top:744.62px;width:10.4px;height:48.56px;background:#0b4a78;border-radius:1.5px;"></div>
<div class="b" style="left:1133.39px;top:744.62px;width:10.4px;height:48.56px;background:#0b4a78;border-radius:1.5px;"></div>
<div class="b" style="left:1191.13px;top:744.62px;width:10.4px;height:48.56px;background:#0b4a78;border-radius:1.5px;"></div>
<div class="b" style="left:1219.73px;top:744.62px;width:10.4px;height:48.56px;background:#0b4a78;border-radius:1.5px;"></div>
<div class="b" style="left:1162.33px;top:767.4px;width:10.8px;height:3px;background:#0b4a78;border-radius:1.5px;"></div>
<div class="b" style="left:1075.46px;top:831.49px;width:19.43px;height:13.49px;background:#0b4a78;border-radius:1.5px;"></div>
<div class="t" style="left:1085.17px;top:832.19px;font-size:9.5px;line-height:11.4px;color:#fff;font-weight:700;transform:translateX(-50%);">S</div>
<div class="t" style="left:1112.69px;top:832.19px;font-size:9.5px;line-height:11.4px;color:#5b6b7c;font-weight:700;transform:translateX(-50%);">M</div>
<div class="t" style="left:1134.81px;top:832.19px;font-size:9.5px;line-height:11.4px;color:#5b6b7c;font-weight:700;transform:translateX(-50%);">T</div>
<div class="t" style="left:1158.02px;top:832.19px;font-size:9.5px;line-height:11.4px;color:#5b6b7c;font-weight:700;transform:translateX(-50%);">W</div>
<div class="t" style="left:1183.92px;top:832.19px;font-size:9.5px;line-height:11.4px;color:#5b6b7c;font-weight:700;transform:translateX(-50%);">Th</div>
<div class="t" style="left:1207.12px;top:832.19px;font-size:9.5px;line-height:11.4px;color:#5b6b7c;font-weight:700;transform:translateX(-50%);">F</div>
<div class="t" style="left:1227.62px;top:832.19px;font-size:9.5px;line-height:11.4px;color:#5b6b7c;font-weight:700;transform:translateX(-50%);">S</div>
<div class="b" style="left:1229.78px;top:865.49px;width:42px;height:42px;background:#fff;border-radius:6px;border:1px solid #7c3aed;"></div>
<svg class="b" style="left:1239.78px;top:875.99px;width:22px;height:22px;color:#6d28d9;"><use href="#i-robot"/></svg>
</div></div>
<div class="fr" style="left:2769px;top:1001px;width:1327px;height:944px">
<div class="sc" style="left:9px;top:9px;right:9px;bottom:9px;border-radius:11px">
<div class="b" style="left:0px;top:0px;width:1309px;height:61px;background:#071e32;"></div>
<div class="t" style="left:36.5px;top:20.47px;font-size:17.3px;line-height:20.76px;color:#e6ecf3;">Store Name</div>
<div class="b" style="left:1181.3px;top:16px;width:103px;height:29px;background:#f0f4f9;border-radius:5px;"></div>
<div class="t" style="left:1201.3px;top:17.61px;font-size:9.3px;line-height:11.16px;color:#0b2239;transform:translateX(-50%);">Tue</div>
<div class="t" style="left:1201.3px;top:31.11px;font-size:9.3px;line-height:11.16px;color:#0b2239;transform:translateX(-50%);">15</div>
<div class="t" style="left:1217.3px;top:18.32px;font-size:21px;line-height:25.2px;color:#0b2239;letter-spacing:0.29px;">13:23</div>
<div class="b" style="left:0px;top:60.39px;width:234.57px;height:37.34px;background:#071e32;"></div>
<div class="t" style="left:36.5px;top:69.54px;font-size:17.3px;line-height:20.76px;color:#e6ecf3;">Store Name</div>
<div class="b" style="left:0px;top:97.73px;width:235px;height:828.27px;background:#fff;"></div>
<div class="b" style="left:12.3px;top:116.03px;width:60.4px;height:60.4px;background:#0c1116;border-radius:50%;"></div>
<div class="t" style="left:91.3px;top:128.29px;font-size:14.2px;line-height:17.04px;color:#1d2c3c;letter-spacing:-0.16px;">Jhon Doe</div>
<div class="t" style="left:91.3px;top:147.89px;font-size:14.2px;line-height:17.04px;color:#1d2c3c;letter-spacing:0.35px;">Admin</div>
<div class="b" style="left:6.5px;top:195.33px;width:222.5px;height:37.3px;background:#f0f4f9;border-radius:4px;border:1px solid #c5cad0;"></div>
<svg class="b" style="left:10.75px;top:203.78px;width:21.5px;height:21.5px;color:#0c1116;"><use href="#i-search"/></svg>
<div class="t" style="left:38px;top:206.6px;font-size:12.3px;line-height:14.76px;color:#1d2c3c;letter-spacing:-0.41px;">Search</div>
<svg class="b" style="left:11px;top:249.73px;width:21px;height:21px;color:#0c1116;"><use href="#i-dash"/></svg>
<div class="t" style="left:38px;top:253.1px;font-size:12.3px;line-height:14.76px;color:#1d2c3c;letter-spacing:-0.1px;">Dashboard</div>
<svg class="b" style="left:11px;top:292.93px;width:21px;height:21px;color:#0c1116;"><use href="#i-sitemap"/></svg>
<div class="t" style="left:38px;top:296.3px;font-size:12.3px;line-height:14.76px;color:#1d2c3c;letter-spacing:0.05px;">Inventory</div>
<svg class="b" style="left:210.25px;top:297.18px;width:12.5px;height:12.5px;color:#0c1116;"><use href="#i-chev"/></svg>
<svg class="b" style="left:10.5px;top:335.43px;width:22px;height:22px;color:#0c1116;"><use href="#i-cart"/></svg>
<div class="t" style="left:38px;top:339.3px;font-size:12.3px;line-height:14.76px;color:#1d2c3c;letter-spacing:-0.1px;">Orders</div>
<svg class="b" style="left:210.25px;top:340.18px;width:12.5px;height:12.5px;color:#0c1116;"><use href="#i-chev"/></svg>
<svg class="b" style="left:11px;top:379.13px;width:21px;height:21px;color:#0c1116;"><use href="#i-usertag"/></svg>
<div class="t" style="left:38px;top:382.5px;font-size:12.3px;line-height:14.76px;color:#1d2c3c;letter-spacing:-0.13px;">Customers</div>
<svg class="b" style="left:210.25px;top:383.38px;width:12.5px;height:12.5px;color:#0c1116;"><use href="#i-chev"/></svg>
<svg class="b" style="left:11px;top:421.43px;width:21px;height:21px;color:#0c1116;"><use href="#i-pct"/></svg>
<div class="t" style="left:38px;top:424.8px;font-size:12.3px;line-height:14.76px;color:#1d2c3c;letter-spacing:-0.02px;">Promotions</div>
<svg class="b" style="left:210.25px;top:425.68px;width:12.5px;height:12.5px;color:#0c1116;"><use href="#i-chev"/></svg>
<svg class="b" style="left:11px;top:465.43px;width:21px;height:21px;color:#0c1116;"><use href="#i-pie"/></svg>
<div class="t" style="left:38px;top:468.8px;font-size:12.3px;line-height:14.76px;color:#0c1a2a;font-weight:700;letter-spacing:-0.32px;">Reports</div>
<svg class="b" style="left:210.25px;top:469.68px;width:12.5px;height:12.5px;color:#0c1116;"><use href="#i-chev"/></svg>
<svg class="b" style="left:11.75px;top:512.08px;width:19.5px;height:19.5px;color:#0c1116;"><use href="#i-spark"/></svg>
<div class="t" style="left:38px;top:514.7px;font-size:12.3px;line-height:14.76px;color:#1d2c3c;letter-spacing:-0.02px;">AI Insights</div>
<svg class="b" style="left:210.25px;top:515.58px;width:12.5px;height:12.5px;color:#0c1116;"><use href="#i-chev"/></svg>
<svg class="b" style="left:11px;top:557.23px;width:21px;height:21px;color:#0c1116;"><use href="#i-users"/></svg>
<div class="t" style="left:38px;top:560.6px;font-size:12.3px;line-height:14.76px;color:#1d2c3c;letter-spacing:-0.28px;">Users</div>
<svg class="b" style="left:210.25px;top:561.48px;width:12.5px;height:12.5px;color:#0c1116;"><use href="#i-chev"/></svg>
<svg class="b" style="left:11px;top:598.93px;width:21px;height:21px;color:#0c1116;"><use href="#i-tools"/></svg>
<div class="t" style="left:38px;top:602.3px;font-size:12.3px;line-height:14.76px;color:#1d2c3c;">Settings &amp; Integrations</div>
<svg class="b" style="left:210.25px;top:603.18px;width:12.5px;height:12.5px;color:#0c1116;"><use href="#i-chev"/></svg>
<svg class="b" style="left:11px;top:643.63px;width:21px;height:21px;color:#0c1116;"><use href="#i-unlock"/></svg>
<div class="t" style="left:38px;top:647px;font-size:12.3px;line-height:14.76px;color:#1d2c3c;letter-spacing:-0.15px;">Security Compliances</div>
<svg class="b" style="left:210.25px;top:647.88px;width:12.5px;height:12.5px;color:#0c1116;"><use href="#i-chev"/></svg>
<div class="b" style="left:12px;top:676.43px;width:212px;height:33px;background:#f0f4f9;border-radius:4px;"></div>
<svg class="b" style="left:55.35px;top:688.68px;width:8.5px;height:8.5px;color:#0c1a2a;"><use href="#i-edit"/></svg>
<div class="t" style="left:126.5px;top:687.42px;font-size:9.5px;line-height:11.4px;color:#0c1a2a;font-weight:700;letter-spacing:0.2px;transform:translateX(-50%);">Manage Pages/Widgets</div>
<div class="b" style="left:0px;top:883px;width:235.5px;height:43px;background:#f0f4f9;"></div>
<svg class="b" style="left:110.5px;top:897px;width:15px;height:15px;color:#0b2239;"><use href="#i-ll"/></svg>
<div class="t" style="left:266.73px;top:75.58px;font-size:20.3px;line-height:24.36px;color:#0b2239;font-weight:700;letter-spacing:0.46px;">Item Manager</div>
<div class="t" style="left:273.99px;top:118.08px;font-size:12.3px;line-height:14.76px;color:#2b3a4a;letter-spacing:0.08px;">Item List</div>
<div class="t" style="left:344.01px;top:118.08px;font-size:12.3px;line-height:14.76px;color:#2b3a4a;">Supplier Management</div>
<div class="t" style="left:487.15px;top:118.08px;font-size:12.3px;line-height:14.76px;color:#2b3a4a;letter-spacing:-0.12px;">Facilities</div>
<div class="t" style="left:557.16px;top:118.08px;font-size:12.3px;line-height:14.76px;color:#2b3a4a;letter-spacing:-0.22px;">Sales Person</div>
<div class="t" style="left:650.52px;top:118.08px;font-size:12.3px;line-height:14.76px;color:#2b3a4a;letter-spacing:-0.05px;">Product Organizarion</div>
<div class="t" style="left:788.48px;top:118.08px;font-size:12.3px;line-height:14.76px;color:#2b3a4a;letter-spacing:-0.24px;">Barcode &amp; SKU</div>
<div class="t" style="left:894.8px;top:118.08px;font-size:12.3px;line-height:14.76px;color:#2b3a4a;letter-spacing:0.07px;">Report</div>
<div class="b" style="left:259.47px;top:140.8px;width:1025.34px;height:1px;background:#d9dde3;"></div>
<div class="b" style="left:549.9px;top:140px;width:85.57px;height:2.2px;background:#12304d;border-radius:1px;"></div>
<div class="b" style="left:259.47px;top:153.74px;width:698.08px;height:705.46px;background:#fff;border-radius:6px;"></div>
<div class="b" style="left:277.1px;top:171.89px;width:96.98px;height:31.64px;background:#071e32;border-radius:5px 5px 0 0;"></div>
<svg class="b" style="left:284.91px;top:179.96px;width:15.5px;height:15.5px;color:#0b2239;"><use href="#i-stard"/></svg>
<div class="t" style="left:307.18px;top:181.74px;font-size:10.3px;line-height:12.36px;color:#fff;font-weight:700;letter-spacing:-0.42px;">Favorites</div>
<svg class="b" style="left:357.16px;top:182.87px;width:10px;height:10px;color:#fff;"><use href="#i-x"/></svg>
<div class="b" style="left:380.31px;top:171.89px;width:63.79px;height:31.64px;background:#f0f4f9;border-radius:6px 6px 0 0;"></div>
<div class="t" style="left:386.53px;top:181.74px;font-size:10.3px;line-height:12.36px;color:#1d2c3c;font-weight:700;letter-spacing:-0.2px;">All List</div>
<svg class="b" style="left:426.66px;top:182.87px;width:10px;height:10px;color:#1d2c3c;"><use href="#i-x"/></svg>
<svg class="b" style="left:918.51px;top:177.45px;width:20px;height:20px;color:#1d2c3c;"><use href="#i-funnel"/></svg>
<div class="b" style="left:283.33px;top:229.46px;width:107.4px;height:170px;background:#fff;border-radius:5px;border:1px solid #dde1e6;box-shadow:0 1px 2px rgba(20,40,80,0.05);"></div>
<svg class="b" style="left:366.28px;top:241.41px;width:12.5px;height:12.5px;color:#0c1a2a;"><use href="#i-dots"/></svg>
<svg class="b" style="left:298.83px;top:259.46px;width:75.8px;height:75.8px;border-radius:50%;overflow:hidden;background:#fff" viewBox="0 0 100 100"><use href="#a1"/></svg>
<div class="t" style="left:336.73px;top:343.45px;font-size:8.3px;line-height:9.96px;color:#2b3a4a;letter-spacing:-0.03px;transform:translateX(-50%);">Jhon Doe</div>
<div class="t" style="left:336.73px;top:359.37px;font-size:8.6px;line-height:10.32px;color:#2b3a4a;letter-spacing:0.2px;transform:translateX(-50%);">122 4569-238</div>
<div class="t" style="left:313.33px;top:377.95px;font-size:8.3px;line-height:9.96px;color:#2b3a4a;letter-spacing:0.07px;transform:translateX(-50%);">Company</div>
<div class="t" style="left:339.33px;top:377.95px;font-size:8.3px;line-height:9.96px;color:#2b3a4a;transform:translateX(-50%);">-</div>
<div class="t" style="left:362.63px;top:377.95px;font-size:8.3px;line-height:9.96px;color:#2b3a4a;letter-spacing:0.18px;transform:translateX(-50%);">Division</div>
<div class="b" style="left:402.98px;top:229.46px;width:107.4px;height:170px;background:#fff;border-radius:5px;border:1px solid #dde1e6;box-shadow:0 1px 2px rgba(20,40,80,0.05);"></div>
<svg class="b" style="left:485.93px;top:241.41px;width:12.5px;height:12.5px;color:#0c1a2a;"><use href="#i-dots"/></svg>
<svg class="b" style="left:418.48px;top:259.46px;width:75.8px;height:75.8px;border-radius:50%;overflow:hidden;background:#fff" viewBox="0 0 100 100"><use href="#a2"/></svg>
<div class="t" style="left:456.38px;top:343.45px;font-size:8.3px;line-height:9.96px;color:#2b3a4a;letter-spacing:-0.03px;transform:translateX(-50%);">Jhon Doe</div>
<div class="t" style="left:456.38px;top:359.37px;font-size:8.6px;line-height:10.32px;color:#2b3a4a;letter-spacing:0.2px;transform:translateX(-50%);">122 4569-238</div>
<div class="t" style="left:432.98px;top:377.95px;font-size:8.3px;line-height:9.96px;color:#2b3a4a;letter-spacing:0.07px;transform:translateX(-50%);">Company</div>
<div class="t" style="left:458.98px;top:377.95px;font-size:8.3px;line-height:9.96px;color:#2b3a4a;transform:translateX(-50%);">-</div>
<div class="t" style="left:482.28px;top:377.95px;font-size:8.3px;line-height:9.96px;color:#2b3a4a;letter-spacing:0.18px;transform:translateX(-50%);">Division</div>
<div class="b" style="left:522.63px;top:229.46px;width:107.4px;height:170px;background:#fff;border-radius:5px;border:1px solid #dde1e6;box-shadow:0 1px 2px rgba(20,40,80,0.05);"></div>
<svg class="b" style="left:605.58px;top:241.41px;width:12.5px;height:12.5px;color:#0c1a2a;"><use href="#i-dots"/></svg>
<svg class="b" style="left:538.13px;top:259.46px;width:75.8px;height:75.8px;border-radius:50%;overflow:hidden;background:#fff" viewBox="0 0 100 100"><use href="#a3"/></svg>
<div class="t" style="left:576.03px;top:343.45px;font-size:8.3px;line-height:9.96px;color:#2b3a4a;letter-spacing:-0.03px;transform:translateX(-50%);">Jhon Doe</div>
<div class="t" style="left:576.03px;top:359.37px;font-size:8.6px;line-height:10.32px;color:#2b3a4a;letter-spacing:0.2px;transform:translateX(-50%);">122 4569-238</div>
<div class="t" style="left:552.63px;top:377.95px;font-size:8.3px;line-height:9.96px;color:#2b3a4a;letter-spacing:0.07px;transform:translateX(-50%);">Company</div>
<div class="t" style="left:578.63px;top:377.95px;font-size:8.3px;line-height:9.96px;color:#2b3a4a;transform:translateX(-50%);">-</div>
<div class="t" style="left:601.93px;top:377.95px;font-size:8.3px;line-height:9.96px;color:#2b3a4a;letter-spacing:0.18px;transform:translateX(-50%);">Division</div>
<div class="b" style="left:642.28px;top:229.46px;width:107.4px;height:170px;background:#fff;border-radius:5px;border:1px solid #dde1e6;box-shadow:0 1px 2px rgba(20,40,80,0.05);"></div>
<svg class="b" style="left:725.23px;top:241.41px;width:12.5px;height:12.5px;color:#0c1a2a;"><use href="#i-dots"/></svg>
<svg class="b" style="left:657.78px;top:259.46px;width:75.8px;height:75.8px;border-radius:50%;overflow:hidden;background:#fff" viewBox="0 0 100 100"><use href="#a4"/></svg>
<div class="t" style="left:695.68px;top:343.45px;font-size:8.3px;line-height:9.96px;color:#2b3a4a;letter-spacing:-0.03px;transform:translateX(-50%);">Jhon Doe</div>
<div class="t" style="left:695.68px;top:359.37px;font-size:8.6px;line-height:10.32px;color:#2b3a4a;letter-spacing:0.2px;transform:translateX(-50%);">122 4569-238</div>
<div class="t" style="left:672.28px;top:377.95px;font-size:8.3px;line-height:9.96px;color:#2b3a4a;letter-spacing:0.07px;transform:translateX(-50%);">Company</div>
<div class="t" style="left:698.28px;top:377.95px;font-size:8.3px;line-height:9.96px;color:#2b3a4a;transform:translateX(-50%);">-</div>
<div class="t" style="left:721.58px;top:377.95px;font-size:8.3px;line-height:9.96px;color:#2b3a4a;letter-spacing:0.18px;transform:translateX(-50%);">Division</div>
<div class="b" style="left:761.93px;top:229.46px;width:107.4px;height:170px;background:#fff;border-radius:5px;border:1px solid #dde1e6;box-shadow:0 1px 2px rgba(20,40,80,0.05);"></div>
<svg class="b" style="left:844.88px;top:241.41px;width:12.5px;height:12.5px;color:#0c1a2a;"><use href="#i-dots"/></svg>
<svg class="b" style="left:777.43px;top:259.46px;width:75.8px;height:75.8px;border-radius:50%;overflow:hidden;background:#fff" viewBox="0 0 100 100"><use href="#a5"/></svg>
<div class="t" style="left:815.33px;top:343.45px;font-size:8.3px;line-height:9.96px;color:#2b3a4a;letter-spacing:-0.03px;transform:translateX(-50%);">Jhon Doe</div>
<div class="t" style="left:815.33px;top:359.37px;font-size:8.6px;line-height:10.32px;color:#2b3a4a;letter-spacing:0.2px;transform:translateX(-50%);">122 4569-238</div>
<div class="t" style="left:791.93px;top:377.95px;font-size:8.3px;line-height:9.96px;color:#2b3a4a;letter-spacing:0.07px;transform:translateX(-50%);">Company</div>
<div class="t" style="left:817.93px;top:377.95px;font-size:8.3px;line-height:9.96px;color:#2b3a4a;transform:translateX(-50%);">-</div>
<div class="t" style="left:841.23px;top:377.95px;font-size:8.3px;line-height:9.96px;color:#2b3a4a;letter-spacing:0.18px;transform:translateX(-50%);">Division</div>
<div class="b" style="left:283.33px;top:412.54px;width:107.4px;height:170px;background:#fff;border-radius:5px;border:1px solid #dde1e6;box-shadow:0 1px 2px rgba(20,40,80,0.05);"></div>
<svg class="b" style="left:366.28px;top:424.49px;width:12.5px;height:12.5px;color:#0c1a2a;"><use href="#i-dots"/></svg>
<svg class="b" style="left:298.83px;top:442.54px;width:75.8px;height:75.8px;border-radius:50%;overflow:hidden;background:#fff" viewBox="0 0 100 100"><use href="#a6"/></svg>
<div class="t" style="left:336.73px;top:526.53px;font-size:8.3px;line-height:9.96px;color:#2b3a4a;letter-spacing:-0.03px;transform:translateX(-50%);">Jhon Doe</div>
<div class="t" style="left:336.73px;top:542.45px;font-size:8.6px;line-height:10.32px;color:#2b3a4a;letter-spacing:0.2px;transform:translateX(-50%);">122 4569-238</div>
<div class="t" style="left:313.33px;top:561.03px;font-size:8.3px;line-height:9.96px;color:#2b3a4a;letter-spacing:0.07px;transform:translateX(-50%);">Company</div>
<div class="t" style="left:339.33px;top:561.03px;font-size:8.3px;line-height:9.96px;color:#2b3a4a;transform:translateX(-50%);">-</div>
<div class="t" style="left:362.63px;top:561.03px;font-size:8.3px;line-height:9.96px;color:#2b3a4a;letter-spacing:0.18px;transform:translateX(-50%);">Division</div>
<div class="b" style="left:402.98px;top:412.54px;width:107.4px;height:170px;background:#fff;border-radius:5px;border:1px solid #dde1e6;box-shadow:0 1px 2px rgba(20,40,80,0.05);"></div>
<svg class="b" style="left:485.93px;top:424.49px;width:12.5px;height:12.5px;color:#0c1a2a;"><use href="#i-dots"/></svg>
<svg class="b" style="left:418.48px;top:442.54px;width:75.8px;height:75.8px;border-radius:50%;overflow:hidden;background:#fff" viewBox="0 0 100 100"><use href="#a7"/></svg>
<div class="t" style="left:456.38px;top:526.53px;font-size:8.3px;line-height:9.96px;color:#2b3a4a;letter-spacing:-0.03px;transform:translateX(-50%);">Jhon Doe</div>
<div class="t" style="left:456.38px;top:542.45px;font-size:8.6px;line-height:10.32px;color:#2b3a4a;letter-spacing:0.2px;transform:translateX(-50%);">122 4569-238</div>
<div class="t" style="left:432.98px;top:561.03px;font-size:8.3px;line-height:9.96px;color:#2b3a4a;letter-spacing:0.07px;transform:translateX(-50%);">Company</div>
<div class="t" style="left:458.98px;top:561.03px;font-size:8.3px;line-height:9.96px;color:#2b3a4a;transform:translateX(-50%);">-</div>
<div class="t" style="left:482.28px;top:561.03px;font-size:8.3px;line-height:9.96px;color:#2b3a4a;letter-spacing:0.18px;transform:translateX(-50%);">Division</div>
<div class="b" style="left:522.63px;top:412.54px;width:107.4px;height:170px;background:#fff;border-radius:5px;border:1px solid #dde1e6;box-shadow:0 1px 2px rgba(20,40,80,0.05);"></div>
<svg class="b" style="left:605.58px;top:424.49px;width:12.5px;height:12.5px;color:#0c1a2a;"><use href="#i-dots"/></svg>
<svg class="b" style="left:538.13px;top:442.54px;width:75.8px;height:75.8px;border-radius:50%;overflow:hidden;background:#fff" viewBox="0 0 100 100"><use href="#a8"/></svg>
<div class="t" style="left:576.03px;top:526.53px;font-size:8.3px;line-height:9.96px;color:#2b3a4a;letter-spacing:-0.03px;transform:translateX(-50%);">Jhon Doe</div>
<div class="t" style="left:576.03px;top:542.45px;font-size:8.6px;line-height:10.32px;color:#2b3a4a;letter-spacing:0.2px;transform:translateX(-50%);">122 4569-238</div>
<div class="t" style="left:552.63px;top:561.03px;font-size:8.3px;line-height:9.96px;color:#2b3a4a;letter-spacing:0.07px;transform:translateX(-50%);">Company</div>
<div class="t" style="left:578.63px;top:561.03px;font-size:8.3px;line-height:9.96px;color:#2b3a4a;transform:translateX(-50%);">-</div>
<div class="t" style="left:601.93px;top:561.03px;font-size:8.3px;line-height:9.96px;color:#2b3a4a;letter-spacing:0.18px;transform:translateX(-50%);">Division</div>
<div class="b" style="left:642.28px;top:412.54px;width:107.4px;height:170px;background:#fff;border-radius:5px;border:1px solid #dde1e6;box-shadow:0 1px 2px rgba(20,40,80,0.05);"></div>
<svg class="b" style="left:725.23px;top:424.49px;width:12.5px;height:12.5px;color:#0c1a2a;"><use href="#i-dots"/></svg>
<svg class="b" style="left:657.78px;top:442.54px;width:75.8px;height:75.8px;border-radius:50%;overflow:hidden;background:#fff" viewBox="0 0 100 100"><use href="#a9"/></svg>
<div class="t" style="left:695.68px;top:526.53px;font-size:8.3px;line-height:9.96px;color:#2b3a4a;letter-spacing:-0.03px;transform:translateX(-50%);">Jhon Doe</div>
<div class="t" style="left:695.68px;top:542.45px;font-size:8.6px;line-height:10.32px;color:#2b3a4a;letter-spacing:0.2px;transform:translateX(-50%);">122 4569-238</div>
<div class="t" style="left:672.28px;top:561.03px;font-size:8.3px;line-height:9.96px;color:#2b3a4a;letter-spacing:0.07px;transform:translateX(-50%);">Company</div>
<div class="t" style="left:698.28px;top:561.03px;font-size:8.3px;line-height:9.96px;color:#2b3a4a;transform:translateX(-50%);">-</div>
<div class="t" style="left:721.58px;top:561.03px;font-size:8.3px;line-height:9.96px;color:#2b3a4a;letter-spacing:0.18px;transform:translateX(-50%);">Division</div>
<div class="b" style="left:761.93px;top:412.54px;width:107.4px;height:170px;background:#fff;border-radius:5px;border:1px solid #dde1e6;box-shadow:0 1px 2px rgba(20,40,80,0.05);"></div>
<svg class="b" style="left:844.88px;top:424.49px;width:12.5px;height:12.5px;color:#0c1a2a;"><use href="#i-dots"/></svg>
<svg class="b" style="left:777.43px;top:442.54px;width:75.8px;height:75.8px;border-radius:50%;overflow:hidden;background:#fff" viewBox="0 0 100 100"><use href="#a10"/></svg>
<div class="t" style="left:815.33px;top:526.53px;font-size:8.3px;line-height:9.96px;color:#2b3a4a;letter-spacing:-0.03px;transform:translateX(-50%);">Jhon Doe</div>
<div class="t" style="left:815.33px;top:542.45px;font-size:8.6px;line-height:10.32px;color:#2b3a4a;letter-spacing:0.2px;transform:translateX(-50%);">122 4569-238</div>
<div class="t" style="left:791.93px;top:561.03px;font-size:8.3px;line-height:9.96px;color:#2b3a4a;letter-spacing:0.07px;transform:translateX(-50%);">Company</div>
<div class="t" style="left:817.93px;top:561.03px;font-size:8.3px;line-height:9.96px;color:#2b3a4a;transform:translateX(-50%);">-</div>
<div class="t" style="left:841.23px;top:561.03px;font-size:8.3px;line-height:9.96px;color:#2b3a4a;letter-spacing:0.18px;transform:translateX(-50%);">Division</div>
<div class="b" style="left:283.33px;top:594.7px;width:107.4px;height:170px;background:#fff;border-radius:5px;border:1px solid #dde1e6;box-shadow:0 1px 2px rgba(20,40,80,0.05);"></div>
<svg class="b" style="left:366.28px;top:606.65px;width:12.5px;height:12.5px;color:#0c1a2a;"><use href="#i-dots"/></svg>
<svg class="b" style="left:298.83px;top:624.7px;width:75.8px;height:75.8px;border-radius:50%;overflow:hidden;background:#fff" viewBox="0 0 100 100"><use href="#a11"/></svg>
<div class="t" style="left:336.73px;top:708.68px;font-size:8.3px;line-height:9.96px;color:#2b3a4a;letter-spacing:-0.03px;transform:translateX(-50%);">Jhon Doe</div>
<div class="t" style="left:336.73px;top:724.61px;font-size:8.6px;line-height:10.32px;color:#2b3a4a;letter-spacing:0.2px;transform:translateX(-50%);">122 4569-238</div>
<div class="t" style="left:313.33px;top:743.18px;font-size:8.3px;line-height:9.96px;color:#2b3a4a;letter-spacing:0.07px;transform:translateX(-50%);">Company</div>
<div class="t" style="left:339.33px;top:743.18px;font-size:8.3px;line-height:9.96px;color:#2b3a4a;transform:translateX(-50%);">-</div>
<div class="t" style="left:362.63px;top:743.18px;font-size:8.3px;line-height:9.96px;color:#2b3a4a;letter-spacing:0.18px;transform:translateX(-50%);">Division</div>
<div class="b" style="left:402.98px;top:594.7px;width:107.4px;height:170px;background:#fff;border-radius:5px;border:1px solid #dde1e6;box-shadow:0 1px 2px rgba(20,40,80,0.05);"></div>
<svg class="b" style="left:485.93px;top:606.65px;width:12.5px;height:12.5px;color:#0c1a2a;"><use href="#i-dots"/></svg>
<svg class="b" style="left:418.48px;top:624.7px;width:75.8px;height:75.8px;border-radius:50%;overflow:hidden;background:#fff" viewBox="0 0 100 100"><use href="#a12"/></svg>
<div class="t" style="left:456.38px;top:708.68px;font-size:8.3px;line-height:9.96px;color:#2b3a4a;letter-spacing:-0.03px;transform:translateX(-50%);">Jhon Doe</div>
<div class="t" style="left:456.38px;top:724.61px;font-size:8.6px;line-height:10.32px;color:#2b3a4a;letter-spacing:0.2px;transform:translateX(-50%);">122 4569-238</div>
<div class="t" style="left:432.98px;top:743.18px;font-size:8.3px;line-height:9.96px;color:#2b3a4a;letter-spacing:0.07px;transform:translateX(-50%);">Company</div>
<div class="t" style="left:458.98px;top:743.18px;font-size:8.3px;line-height:9.96px;color:#2b3a4a;transform:translateX(-50%);">-</div>
<div class="t" style="left:482.28px;top:743.18px;font-size:8.3px;line-height:9.96px;color:#2b3a4a;letter-spacing:0.18px;transform:translateX(-50%);">Division</div>
<div class="b" style="left:522.63px;top:594.7px;width:107.4px;height:170px;background:#fff;border-radius:5px;border:1px solid #dde1e6;box-shadow:0 1px 2px rgba(20,40,80,0.05);"></div>
<svg class="b" style="left:605.58px;top:606.65px;width:12.5px;height:12.5px;color:#0c1a2a;"><use href="#i-dots"/></svg>
<svg class="b" style="left:538.13px;top:624.7px;width:75.8px;height:75.8px;border-radius:50%;overflow:hidden;background:#fff" viewBox="0 0 100 100"><use href="#a13"/></svg>
<div class="t" style="left:576.03px;top:708.68px;font-size:8.3px;line-height:9.96px;color:#2b3a4a;letter-spacing:-0.03px;transform:translateX(-50%);">Jhon Doe</div>
<div class="t" style="left:576.03px;top:724.61px;font-size:8.6px;line-height:10.32px;color:#2b3a4a;letter-spacing:0.2px;transform:translateX(-50%);">122 4569-238</div>
<div class="t" style="left:552.63px;top:743.18px;font-size:8.3px;line-height:9.96px;color:#2b3a4a;letter-spacing:0.07px;transform:translateX(-50%);">Company</div>
<div class="t" style="left:578.63px;top:743.18px;font-size:8.3px;line-height:9.96px;color:#2b3a4a;transform:translateX(-50%);">-</div>
<div class="t" style="left:601.93px;top:743.18px;font-size:8.3px;line-height:9.96px;color:#2b3a4a;letter-spacing:0.18px;transform:translateX(-50%);">Division</div>
<div class="b" style="left:642.28px;top:594.7px;width:107.4px;height:170px;background:#fff;border-radius:5px;border:1px solid #dde1e6;box-shadow:0 1px 2px rgba(20,40,80,0.05);"></div>
<svg class="b" style="left:725.23px;top:606.65px;width:12.5px;height:12.5px;color:#0c1a2a;"><use href="#i-dots"/></svg>
<svg class="b" style="left:657.78px;top:624.7px;width:75.8px;height:75.8px;border-radius:50%;overflow:hidden;background:#fff" viewBox="0 0 100 100"><use href="#a14"/></svg>
<div class="t" style="left:695.68px;top:708.68px;font-size:8.3px;line-height:9.96px;color:#2b3a4a;letter-spacing:-0.03px;transform:translateX(-50%);">Jhon Doe</div>
<div class="t" style="left:695.68px;top:724.61px;font-size:8.6px;line-height:10.32px;color:#2b3a4a;letter-spacing:0.2px;transform:translateX(-50%);">122 4569-238</div>
<div class="t" style="left:672.28px;top:743.18px;font-size:8.3px;line-height:9.96px;color:#2b3a4a;letter-spacing:0.07px;transform:translateX(-50%);">Company</div>
<div class="t" style="left:698.28px;top:743.18px;font-size:8.3px;line-height:9.96px;color:#2b3a4a;transform:translateX(-50%);">-</div>
<div class="t" style="left:721.58px;top:743.18px;font-size:8.3px;line-height:9.96px;color:#2b3a4a;letter-spacing:0.18px;transform:translateX(-50%);">Division</div>
<div class="b" style="left:964.81px;top:153.74px;width:320px;height:705.46px;background:#fff;border-radius:6px;"></div>
<div class="t" style="left:977.26px;top:166.83px;font-size:12.3px;line-height:14.76px;color:#0c1a2a;font-weight:700;letter-spacing:-0.45px;">SALES PERSON LIST</div>
<div class="b" style="left:1207.01px;top:165.67px;width:65.35px;height:17.63px;background:#071e32;border-radius:3px;"></div>
<svg class="b" style="left:1214.71px;top:169.74px;width:9.5px;height:9.5px;color:#fff;"><use href="#i-plusthin"/></svg>
<div class="t" style="left:1231.39px;top:169.67px;font-size:8.3px;line-height:9.96px;color:#fff;font-weight:700;letter-spacing:-0.26px;">Add New</div>
<div class="b" style="left:977.26px;top:191.08px;width:295.1px;height:37.86px;background:#fff;border-radius:5px;border:1px solid #dde1e6;"></div>
<svg class="b" style="left:988.56px;top:199.79px;width:22px;height:22px;color:#0b2a48;"><use href="#i-search"/></svg>
<div class="t" style="left:1017.71px;top:204.13px;font-size:9.7px;line-height:11.64px;color:#5b6b7c;letter-spacing:-0.23px;">SEARCH SUPPLIER</div>
<div class="b" style="left:977.26px;top:234.13px;width:301.33px;height:613.14px;overflow:hidden">
<div class="b" style="left:6.22px;top:9.34px;width:282.66px;height:61.2px;background:#fff;border-radius:6px;border:1px solid #dde1e6;"></div>
<svg class="b" style="left:17.62px;top:20.74px;width:38.4px;height:38.4px;border-radius:50%;overflow:hidden;background:#fff" viewBox="0 0 100 100"><use href="#a8"/></svg>
<div class="t" style="left:61.72px;top:27.62px;font-size:8.3px;line-height:9.96px;color:#2b3a4a;letter-spacing:-0.03px;">Jhon Doe</div>
<div class="t" style="left:61.72px;top:43.95px;font-size:8.6px;line-height:10.32px;color:#2b3a4a;letter-spacing:0.2px;">122 4569-238</div>
<div class="t" style="left:209.53px;top:27.62px;font-size:8.3px;line-height:9.96px;color:#2b3a4a;letter-spacing:0.07px;transform:translateX(-50%);">Company</div>
<div class="t" style="left:209.53px;top:44.32px;font-size:8.3px;line-height:9.96px;color:#2b3a4a;letter-spacing:0.18px;transform:translateX(-50%);">Division</div>
<svg class="b" style="left:264.48px;top:20.69px;width:12.5px;height:12.5px;color:#0c1a2a;"><use href="#i-dots"/></svg>
<div class="b" style="left:6.22px;top:74.49px;width:282.66px;height:61.2px;background:#fff;border-radius:6px;border:1px solid #dde1e6;"></div>
<svg class="b" style="left:17.62px;top:85.89px;width:38.4px;height:38.4px;border-radius:50%;overflow:hidden;background:#fff" viewBox="0 0 100 100"><use href="#a4"/></svg>
<div class="t" style="left:61.72px;top:92.77px;font-size:8.3px;line-height:9.96px;color:#2b3a4a;letter-spacing:-0.03px;">Jhon Doe</div>
<div class="t" style="left:61.72px;top:109.1px;font-size:8.6px;line-height:10.32px;color:#2b3a4a;letter-spacing:0.2px;">122 4569-238</div>
<div class="t" style="left:209.53px;top:92.77px;font-size:8.3px;line-height:9.96px;color:#2b3a4a;letter-spacing:0.07px;transform:translateX(-50%);">Company</div>
<div class="t" style="left:209.53px;top:109.47px;font-size:8.3px;line-height:9.96px;color:#2b3a4a;letter-spacing:0.18px;transform:translateX(-50%);">Division</div>
<svg class="b" style="left:264.48px;top:85.84px;width:12.5px;height:12.5px;color:#0c1a2a;"><use href="#i-dots"/></svg>
<div class="b" style="left:6.22px;top:139.64px;width:282.66px;height:61.2px;background:#fff;border-radius:6px;border:1px solid #dde1e6;"></div>
<svg class="b" style="left:17.62px;top:151.04px;width:38.4px;height:38.4px;border-radius:50%;overflow:hidden;background:#fff" viewBox="0 0 100 100"><use href="#a2"/></svg>
<div class="t" style="left:61.72px;top:157.92px;font-size:8.3px;line-height:9.96px;color:#2b3a4a;letter-spacing:-0.03px;">Jhon Doe</div>
<div class="t" style="left:61.72px;top:174.25px;font-size:8.6px;line-height:10.32px;color:#2b3a4a;letter-spacing:0.2px;">122 4569-238</div>
<div class="t" style="left:209.53px;top:157.92px;font-size:8.3px;line-height:9.96px;color:#2b3a4a;letter-spacing:0.07px;transform:translateX(-50%);">Company</div>
<div class="t" style="left:209.53px;top:174.62px;font-size:8.3px;line-height:9.96px;color:#2b3a4a;letter-spacing:0.18px;transform:translateX(-50%);">Division</div>
<svg class="b" style="left:264.48px;top:150.99px;width:12.5px;height:12.5px;color:#0c1a2a;"><use href="#i-dots"/></svg>
<div class="b" style="left:6.22px;top:204.79px;width:282.66px;height:61.2px;background:#fff;border-radius:6px;border:1px solid #dde1e6;"></div>
<svg class="b" style="left:17.62px;top:216.19px;width:38.4px;height:38.4px;border-radius:50%;overflow:hidden;background:#fff" viewBox="0 0 100 100"><use href="#a1"/></svg>
<div class="t" style="left:61.72px;top:223.07px;font-size:8.3px;line-height:9.96px;color:#2b3a4a;letter-spacing:-0.03px;">Jhon Doe</div>
<div class="t" style="left:61.72px;top:239.4px;font-size:8.6px;line-height:10.32px;color:#2b3a4a;letter-spacing:0.2px;">122 4569-238</div>
<div class="t" style="left:209.53px;top:223.07px;font-size:8.3px;line-height:9.96px;color:#2b3a4a;letter-spacing:0.07px;transform:translateX(-50%);">Company</div>
<div class="t" style="left:209.53px;top:239.77px;font-size:8.3px;line-height:9.96px;color:#2b3a4a;letter-spacing:0.18px;transform:translateX(-50%);">Division</div>
<svg class="b" style="left:264.48px;top:216.14px;width:12.5px;height:12.5px;color:#0c1a2a;"><use href="#i-dots"/></svg>
<div class="b" style="left:6.22px;top:269.94px;width:282.66px;height:61.2px;background:#fff;border-radius:6px;border:1px solid #dde1e6;"></div>
<svg class="b" style="left:17.62px;top:281.34px;width:38.4px;height:38.4px;border-radius:50%;overflow:hidden;background:#fff" viewBox="0 0 100 100"><use href="#a11"/></svg>
<div class="t" style="left:61.72px;top:288.22px;font-size:8.3px;line-height:9.96px;color:#2b3a4a;letter-spacing:-0.03px;">Jhon Doe</div>
<div class="t" style="left:61.72px;top:304.55px;font-size:8.6px;line-height:10.32px;color:#2b3a4a;letter-spacing:0.2px;">122 4569-238</div>
<div class="t" style="left:209.53px;top:288.22px;font-size:8.3px;line-height:9.96px;color:#2b3a4a;letter-spacing:0.07px;transform:translateX(-50%);">Company</div>
<div class="t" style="left:209.53px;top:304.92px;font-size:8.3px;line-height:9.96px;color:#2b3a4a;letter-spacing:0.18px;transform:translateX(-50%);">Division</div>
<svg class="b" style="left:264.48px;top:281.29px;width:12.5px;height:12.5px;color:#0c1a2a;"><use href="#i-dots"/></svg>
<div class="b" style="left:6.22px;top:335.09px;width:282.66px;height:61.2px;background:#fff;border-radius:6px;border:1px solid #dde1e6;"></div>
<svg class="b" style="left:17.62px;top:346.49px;width:38.4px;height:38.4px;border-radius:50%;overflow:hidden;background:#fff" viewBox="0 0 100 100"><use href="#a15"/></svg>
<div class="t" style="left:61.72px;top:353.37px;font-size:8.3px;line-height:9.96px;color:#2b3a4a;letter-spacing:-0.03px;">Jhon Doe</div>
<div class="t" style="left:61.72px;top:369.7px;font-size:8.6px;line-height:10.32px;color:#2b3a4a;letter-spacing:0.2px;">122 4569-238</div>
<div class="t" style="left:209.53px;top:353.37px;font-size:8.3px;line-height:9.96px;color:#2b3a4a;letter-spacing:0.07px;transform:translateX(-50%);">Company</div>
<div class="t" style="left:209.53px;top:370.07px;font-size:8.3px;line-height:9.96px;color:#2b3a4a;letter-spacing:0.18px;transform:translateX(-50%);">Division</div>
<svg class="b" style="left:264.48px;top:346.44px;width:12.5px;height:12.5px;color:#0c1a2a;"><use href="#i-dots"/></svg>
<div class="b" style="left:6.22px;top:400.24px;width:282.66px;height:61.2px;background:#fff;border-radius:6px;border:1px solid #dde1e6;"></div>
<svg class="b" style="left:17.62px;top:411.64px;width:38.4px;height:38.4px;border-radius:50%;overflow:hidden;background:#fff" viewBox="0 0 100 100"><use href="#a9"/></svg>
<div class="t" style="left:61.72px;top:418.52px;font-size:8.3px;line-height:9.96px;color:#2b3a4a;letter-spacing:-0.03px;">Jhon Doe</div>
<div class="t" style="left:61.72px;top:434.85px;font-size:8.6px;line-height:10.32px;color:#2b3a4a;letter-spacing:0.2px;">122 4569-238</div>
<div class="t" style="left:209.53px;top:418.52px;font-size:8.3px;line-height:9.96px;color:#2b3a4a;letter-spacing:0.07px;transform:translateX(-50%);">Company</div>
<div class="t" style="left:209.53px;top:435.22px;font-size:8.3px;line-height:9.96px;color:#2b3a4a;letter-spacing:0.18px;transform:translateX(-50%);">Division</div>
<svg class="b" style="left:264.48px;top:411.59px;width:12.5px;height:12.5px;color:#0c1a2a;"><use href="#i-dots"/></svg>
<div class="b" style="left:6.22px;top:465.39px;width:282.66px;height:61.2px;background:#fff;border-radius:6px;border:1px solid #dde1e6;"></div>
<svg class="b" style="left:17.62px;top:476.79px;width:38.4px;height:38.4px;border-radius:50%;overflow:hidden;background:#fff" viewBox="0 0 100 100"><use href="#a16"/></svg>
<div class="t" style="left:61.72px;top:483.67px;font-size:8.3px;line-height:9.96px;color:#2b3a4a;letter-spacing:-0.03px;">Jhon Doe</div>
<div class="t" style="left:61.72px;top:500px;font-size:8.6px;line-height:10.32px;color:#2b3a4a;letter-spacing:0.2px;">122 4569-238</div>
<div class="t" style="left:209.53px;top:483.67px;font-size:8.3px;line-height:9.96px;color:#2b3a4a;letter-spacing:0.07px;transform:translateX(-50%);">Company</div>
<div class="t" style="left:209.53px;top:500.37px;font-size:8.3px;line-height:9.96px;color:#2b3a4a;letter-spacing:0.18px;transform:translateX(-50%);">Division</div>
<svg class="b" style="left:264.48px;top:476.74px;width:12.5px;height:12.5px;color:#0c1a2a;"><use href="#i-dots"/></svg>
<div class="b" style="left:6.22px;top:530.54px;width:282.66px;height:61.2px;background:#fff;border-radius:6px;border:1px solid #dde1e6;"></div>
<svg class="b" style="left:17.62px;top:541.94px;width:38.4px;height:38.4px;border-radius:50%;overflow:hidden;background:#fff" viewBox="0 0 100 100"><use href="#a6"/></svg>
<div class="t" style="left:61.72px;top:548.82px;font-size:8.3px;line-height:9.96px;color:#2b3a4a;letter-spacing:-0.03px;">Jhon Doe</div>
<div class="t" style="left:61.72px;top:565.15px;font-size:8.6px;line-height:10.32px;color:#2b3a4a;letter-spacing:0.2px;">122 4569-238</div>
<div class="t" style="left:209.53px;top:548.82px;font-size:8.3px;line-height:9.96px;color:#2b3a4a;letter-spacing:0.07px;transform:translateX(-50%);">Company</div>
<div class="t" style="left:209.53px;top:565.52px;font-size:8.3px;line-height:9.96px;color:#2b3a4a;letter-spacing:0.18px;transform:translateX(-50%);">Division</div>
<svg class="b" style="left:264.48px;top:541.89px;width:12.5px;height:12.5px;color:#0c1a2a;"><use href="#i-dots"/></svg>
<div class="b" style="left:6.22px;top:595.69px;width:282.66px;height:61.2px;background:#fff;border-radius:6px;border:1px solid #dde1e6;"></div>
<svg class="b" style="left:17.62px;top:607.09px;width:38.4px;height:38.4px;border-radius:50%;overflow:hidden;background:#fff" viewBox="0 0 100 100"><use href="#a13"/></svg>
<div class="t" style="left:61.72px;top:613.97px;font-size:8.3px;line-height:9.96px;color:#2b3a4a;letter-spacing:-0.03px;">Jhon Doe</div>
<div class="t" style="left:61.72px;top:630.3px;font-size:8.6px;line-height:10.32px;color:#2b3a4a;letter-spacing:0.2px;">122 4569-238</div>
<div class="t" style="left:209.53px;top:613.97px;font-size:8.3px;line-height:9.96px;color:#2b3a4a;letter-spacing:0.07px;transform:translateX(-50%);">Company</div>
<div class="t" style="left:209.53px;top:630.67px;font-size:8.3px;line-height:9.96px;color:#2b3a4a;letter-spacing:0.18px;transform:translateX(-50%);">Division</div>
<svg class="b" style="left:264.48px;top:607.04px;width:12.5px;height:12.5px;color:#0c1a2a;"><use href="#i-dots"/></svg>
</div>
<div class="b" style="left:1230.35px;top:865.94px;width:42px;height:42px;background:#fff;border-radius:6px;border:1px solid #7c3aed;"></div>
<svg class="b" style="left:1240.35px;top:876.44px;width:22px;height:22px;color:#6d28d9;"><use href="#i-robot"/></svg>
</div></div>
</body></html>
